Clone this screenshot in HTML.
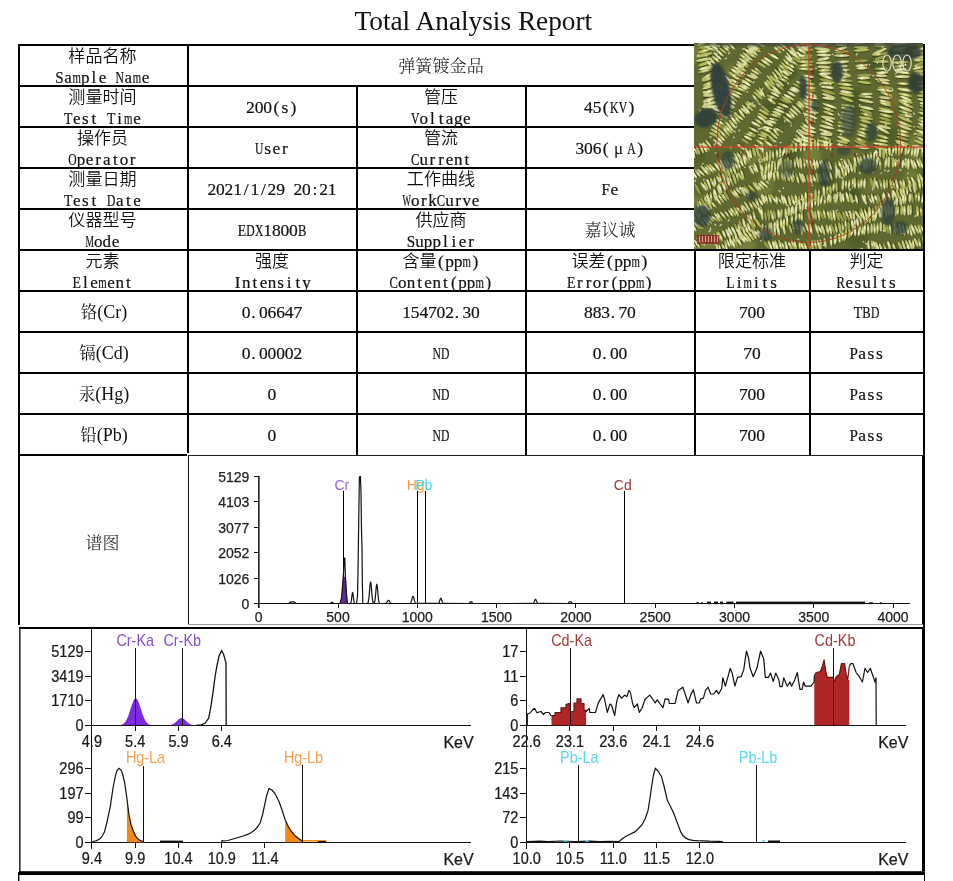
<!DOCTYPE html><html><head><meta charset="utf-8"><title>Total Analysis Report</title>
<style>html,body{margin:0;padding:0;background:#fff;width:953px;height:881px;overflow:hidden}svg{position:absolute;left:0;top:0;display:block}text{white-space:pre}</style></head><body>
<svg width="953" height="881" viewBox="0 0 953 881">
<text x="354.5" y="30.2" style="font-family:'Liberation Serif','Noto Serif CJK SC',serif;font-size:27.3px" fill="#111">Total Analysis Report</text>
<g shape-rendering="crispEdges">
<rect x="18" y="44" width="677" height="2" fill="#000"/>
<rect x="18" y="85" width="677" height="2" fill="#000"/>
<rect x="18" y="126" width="677" height="2" fill="#000"/>
<rect x="18" y="167" width="677" height="2" fill="#000"/>
<rect x="18" y="208" width="677" height="2" fill="#000"/>
<rect x="18" y="249" width="907" height="2" fill="#000"/>
<rect x="18" y="290" width="907" height="2" fill="#000"/>
<rect x="18" y="331" width="907" height="2" fill="#000"/>
<rect x="18" y="372" width="907" height="2" fill="#000"/>
<rect x="18" y="413" width="907" height="2" fill="#000"/>
<rect x="18" y="454" width="169" height="2" fill="#000"/>
<rect x="18" y="44" width="2" height="581" fill="#000"/>
<rect x="187" y="44" width="2" height="409" fill="#000"/>
<rect x="356" y="85" width="2" height="370" fill="#000"/>
<rect x="525" y="85" width="2" height="370" fill="#000"/>
<rect x="694" y="249" width="2" height="206" fill="#000"/>
<rect x="809" y="249" width="2" height="206" fill="#000"/>
<rect x="923" y="44" width="2" height="584" fill="#000"/>
<rect x="188" y="455" width="735" height="1" fill="#222"/>
<rect x="188" y="455" width="1" height="170" fill="#111"/>
<rect x="922" y="455" width="1" height="170" fill="#111"/>
<rect x="188" y="624" width="735" height="1" fill="#9a9a9a"/>
<rect x="19" y="627" width="906" height="2" fill="#000"/>
<rect x="922" y="627" width="3" height="247" fill="#000"/>
<rect x="19" y="871" width="906" height="1" fill="#333"/>
<rect x="18" y="872" width="907" height="3" fill="#000"/>
<rect x="924" y="874" width="1" height="7" fill="#000"/>
</g>
<rect x="19.2" y="627" width="1.3" height="245" fill="#000"/>
<rect x="18" y="872" width="1.4" height="9" fill="#000"/>
<text x="68.30" y="62.20" textLength="68.40" lengthAdjust="spacingAndGlyphs" style="font-family:'Noto Sans CJK SC','Noto Sans CJK JP',sans-serif;font-size:16.6px;font-weight:350" fill="#111">样品名称</text>
<text x="55.30" y="82.90" textLength="8.40" lengthAdjust="spacingAndGlyphs" style="font-family:'Liberation Serif','Noto Serif CJK SC',serif;font-size:17px;stroke:#111;stroke-width:0.2" fill="#111">S</text>
<text x="72.50" y="82.90" textLength="8.40" lengthAdjust="spacingAndGlyphs" style="font-family:'Liberation Serif','Noto Serif CJK SC',serif;font-size:17px;stroke:#111;stroke-width:0.2" fill="#111">m</text>
<text x="115.50" y="82.90" textLength="8.40" lengthAdjust="spacingAndGlyphs" style="font-family:'Liberation Serif','Noto Serif CJK SC',serif;font-size:17px;stroke:#111;stroke-width:0.2" fill="#111">N</text>
<text x="132.70" y="82.90" textLength="8.40" lengthAdjust="spacingAndGlyphs" style="font-family:'Liberation Serif','Noto Serif CJK SC',serif;font-size:17px;stroke:#111;stroke-width:0.2" fill="#111">m</text>
<text x="64.33 81.05 91.54 98.73 124.53 141.73" y="82.90" style="font-family:'Liberation Serif','Noto Serif CJK SC',serif;font-size:17px;stroke:#111;stroke-width:0.2" fill="#111">apleae</text>
<text x="398.20" y="72.00" textLength="85.60" lengthAdjust="spacingAndGlyphs" style="font-family:'Noto Serif CJK SC','Noto Sans CJK SC',serif;font-size:16.6px;font-weight:350" fill="#111">弹簧镀金品</text>
<text x="68.30" y="103.20" textLength="68.40" lengthAdjust="spacingAndGlyphs" style="font-family:'Noto Sans CJK SC','Noto Sans CJK JP',sans-serif;font-size:16.6px;font-weight:350" fill="#111">测量时间</text>
<text x="63.90" y="123.90" textLength="8.40" lengthAdjust="spacingAndGlyphs" style="font-family:'Liberation Serif','Noto Serif CJK SC',serif;font-size:17px;stroke:#111;stroke-width:0.2" fill="#111">T</text>
<text x="106.90" y="123.90" textLength="8.40" lengthAdjust="spacingAndGlyphs" style="font-family:'Liberation Serif','Noto Serif CJK SC',serif;font-size:17px;stroke:#111;stroke-width:0.2" fill="#111">T</text>
<text x="124.10" y="123.90" textLength="8.40" lengthAdjust="spacingAndGlyphs" style="font-family:'Liberation Serif','Noto Serif CJK SC',serif;font-size:17px;stroke:#111;stroke-width:0.2" fill="#111">m</text>
<text x="72.93 81.99 91.54 117.34 133.13" y="123.90" style="font-family:'Liberation Serif','Noto Serif CJK SC',serif;font-size:17px;stroke:#111;stroke-width:0.2" fill="#111">estie</text>
<text x="246.12 254.72 263.32 273.39 281.49 290.59" y="113.00" style="font-family:'Liberation Serif','Noto Serif CJK SC',serif;font-size:17.5px;stroke:#111;stroke-width:0.2" fill="#111">200(s)</text>
<text x="424.00" y="103.20" textLength="34.00" lengthAdjust="spacingAndGlyphs" style="font-family:'Noto Sans CJK SC','Noto Sans CJK JP',sans-serif;font-size:16.6px;font-weight:350" fill="#111">管压</text>
<text x="411.00" y="123.90" textLength="8.40" lengthAdjust="spacingAndGlyphs" style="font-family:'Liberation Serif','Noto Serif CJK SC',serif;font-size:17px;stroke:#111;stroke-width:0.2" fill="#111">V</text>
<text x="419.55 430.04 438.64 445.83 453.95 463.03" y="123.90" style="font-family:'Liberation Serif','Noto Serif CJK SC',serif;font-size:17px;stroke:#111;stroke-width:0.2" fill="#111">oltage</text>
<text x="610.10" y="113.00" textLength="8.40" lengthAdjust="spacingAndGlyphs" style="font-family:'Liberation Serif','Noto Serif CJK SC',serif;font-size:17.5px;stroke:#111;stroke-width:0.2" fill="#111">K</text>
<text x="618.70" y="113.00" textLength="8.40" lengthAdjust="spacingAndGlyphs" style="font-family:'Liberation Serif','Noto Serif CJK SC',serif;font-size:17.5px;stroke:#111;stroke-width:0.2" fill="#111">V</text>
<text x="584.12 592.73 602.79 628.59" y="113.00" style="font-family:'Liberation Serif','Noto Serif CJK SC',serif;font-size:17.5px;stroke:#111;stroke-width:0.2" fill="#111">45()</text>
<text x="76.90" y="144.20" textLength="51.20" lengthAdjust="spacingAndGlyphs" style="font-family:'Noto Sans CJK SC','Noto Sans CJK JP',sans-serif;font-size:16.6px;font-weight:350" fill="#111">操作员</text>
<text x="68.20" y="164.90" textLength="8.40" lengthAdjust="spacingAndGlyphs" style="font-family:'Liberation Serif','Noto Serif CJK SC',serif;font-size:17px;stroke:#111;stroke-width:0.2" fill="#111">O</text>
<text x="76.75 85.83 95.37 103.03 113.04 119.75 129.77" y="164.90" style="font-family:'Liberation Serif','Noto Serif CJK SC',serif;font-size:17px;stroke:#111;stroke-width:0.2" fill="#111">perator</text>
<text x="254.90" y="154.00" textLength="8.40" lengthAdjust="spacingAndGlyphs" style="font-family:'Liberation Serif','Noto Serif CJK SC',serif;font-size:17.5px;stroke:#111;stroke-width:0.2" fill="#111">U</text>
<text x="264.29 272.42 281.99" y="154.00" style="font-family:'Liberation Serif','Noto Serif CJK SC',serif;font-size:17.5px;stroke:#111;stroke-width:0.2" fill="#111">ser</text>
<text x="424.00" y="144.20" textLength="34.00" lengthAdjust="spacingAndGlyphs" style="font-family:'Noto Sans CJK SC','Noto Sans CJK JP',sans-serif;font-size:16.6px;font-weight:350" fill="#111">管流</text>
<text x="411.00" y="164.90" textLength="8.40" lengthAdjust="spacingAndGlyphs" style="font-family:'Liberation Serif','Noto Serif CJK SC',serif;font-size:17px;stroke:#111;stroke-width:0.2" fill="#111">C</text>
<text x="419.55 429.57 438.17 445.83 453.95 464.44" y="164.90" style="font-family:'Liberation Serif','Noto Serif CJK SC',serif;font-size:17px;stroke:#111;stroke-width:0.2" fill="#111">urrent</text>
<text x="575.52 584.12 592.73 602.79" y="154.00" style="font-family:'Liberation Serif','Noto Serif CJK SC',serif;font-size:17.5px;stroke:#111;stroke-width:0.2" fill="#111">306(</text>
<text x="618.60" y="154.00" text-anchor="middle" style="font-family:'Liberation Serif','Noto Serif CJK SC',serif;font-size:17px" fill="#111">μ</text>
<text x="627.30" y="154.00" textLength="8.40" lengthAdjust="spacingAndGlyphs" style="font-family:'Liberation Serif','Noto Serif CJK SC',serif;font-size:17.5px;stroke:#111;stroke-width:0.2" fill="#111">A</text>
<text x="637.19" y="154.00" style="font-family:'Liberation Serif','Noto Serif CJK SC',serif;font-size:17.5px;stroke:#111;stroke-width:0.2" fill="#111">)</text>
<text x="68.30" y="185.20" textLength="68.40" lengthAdjust="spacingAndGlyphs" style="font-family:'Noto Sans CJK SC','Noto Sans CJK JP',sans-serif;font-size:16.6px;font-weight:350" fill="#111">测量日期</text>
<text x="63.90" y="205.90" textLength="8.40" lengthAdjust="spacingAndGlyphs" style="font-family:'Liberation Serif','Noto Serif CJK SC',serif;font-size:17px;stroke:#111;stroke-width:0.2" fill="#111">T</text>
<text x="106.90" y="205.90" textLength="8.40" lengthAdjust="spacingAndGlyphs" style="font-family:'Liberation Serif','Noto Serif CJK SC',serif;font-size:17px;stroke:#111;stroke-width:0.2" fill="#111">D</text>
<text x="72.93 81.99 91.54 115.93 125.94 133.13" y="205.90" style="font-family:'Liberation Serif','Noto Serif CJK SC',serif;font-size:17px;stroke:#111;stroke-width:0.2" fill="#111">estate</text>
<text x="207.43 216.03 224.62 233.23 243.77 250.43 260.97 267.62 276.23 293.43 302.03 312.57 319.23 327.82" y="195.00" style="font-family:'Liberation Serif','Noto Serif CJK SC',serif;font-size:17.5px;stroke:#111;stroke-width:0.2" fill="#111">2021/1/2920:21</text>
<text x="406.80" y="185.20" textLength="68.40" lengthAdjust="spacingAndGlyphs" style="font-family:'Noto Sans CJK SC','Noto Sans CJK JP',sans-serif;font-size:16.6px;font-weight:350" fill="#111">工作曲线</text>
<text x="402.40" y="205.90" textLength="8.40" lengthAdjust="spacingAndGlyphs" style="font-family:'Liberation Serif','Noto Serif CJK SC',serif;font-size:17px;stroke:#111;stroke-width:0.2" fill="#111">W</text>
<text x="436.80" y="205.90" textLength="8.40" lengthAdjust="spacingAndGlyphs" style="font-family:'Liberation Serif','Noto Serif CJK SC',serif;font-size:17px;stroke:#111;stroke-width:0.2" fill="#111">C</text>
<text x="410.95 420.97 428.15 445.35 455.37 462.55 471.63" y="205.90" style="font-family:'Liberation Serif','Noto Serif CJK SC',serif;font-size:17px;stroke:#111;stroke-width:0.2" fill="#111">orkurve</text>
<text x="601.50" y="195.00" textLength="8.40" lengthAdjust="spacingAndGlyphs" style="font-family:'Liberation Serif','Noto Serif CJK SC',serif;font-size:17.5px;stroke:#111;stroke-width:0.2" fill="#111">F</text>
<text x="610.42" y="195.00" style="font-family:'Liberation Serif','Noto Serif CJK SC',serif;font-size:17.5px;stroke:#111;stroke-width:0.2" fill="#111">e</text>
<text x="68.30" y="226.20" textLength="68.40" lengthAdjust="spacingAndGlyphs" style="font-family:'Noto Sans CJK SC','Noto Sans CJK JP',sans-serif;font-size:16.6px;font-weight:350" fill="#111">仪器型号</text>
<text x="85.40" y="246.90" textLength="8.40" lengthAdjust="spacingAndGlyphs" style="font-family:'Liberation Serif','Noto Serif CJK SC',serif;font-size:17px;stroke:#111;stroke-width:0.2" fill="#111">M</text>
<text x="93.95 102.55 111.63" y="246.90" style="font-family:'Liberation Serif','Noto Serif CJK SC',serif;font-size:17px;stroke:#111;stroke-width:0.2" fill="#111">ode</text>
<text x="237.70" y="236.00" textLength="8.40" lengthAdjust="spacingAndGlyphs" style="font-family:'Liberation Serif','Noto Serif CJK SC',serif;font-size:17.5px;stroke:#111;stroke-width:0.2" fill="#111">E</text>
<text x="246.30" y="236.00" textLength="8.40" lengthAdjust="spacingAndGlyphs" style="font-family:'Liberation Serif','Noto Serif CJK SC',serif;font-size:17.5px;stroke:#111;stroke-width:0.2" fill="#111">D</text>
<text x="254.90" y="236.00" textLength="8.40" lengthAdjust="spacingAndGlyphs" style="font-family:'Liberation Serif','Noto Serif CJK SC',serif;font-size:17.5px;stroke:#111;stroke-width:0.2" fill="#111">X</text>
<text x="297.90" y="236.00" textLength="8.40" lengthAdjust="spacingAndGlyphs" style="font-family:'Liberation Serif','Noto Serif CJK SC',serif;font-size:17.5px;stroke:#111;stroke-width:0.2" fill="#111">B</text>
<text x="263.32 271.93 280.53 289.12" y="236.00" style="font-family:'Liberation Serif','Noto Serif CJK SC',serif;font-size:17.5px;stroke:#111;stroke-width:0.2" fill="#111">1800</text>
<text x="415.40" y="226.20" textLength="51.20" lengthAdjust="spacingAndGlyphs" style="font-family:'Noto Sans CJK SC','Noto Sans CJK JP',sans-serif;font-size:16.6px;font-weight:350" fill="#111">供应商</text>
<text x="406.70" y="246.90" textLength="8.40" lengthAdjust="spacingAndGlyphs" style="font-family:'Liberation Serif','Noto Serif CJK SC',serif;font-size:17px;stroke:#111;stroke-width:0.2" fill="#111">S</text>
<text x="415.25 423.85 432.45 442.94 451.54 458.73 468.27" y="246.90" style="font-family:'Liberation Serif','Noto Serif CJK SC',serif;font-size:17px;stroke:#111;stroke-width:0.2" fill="#111">upplier</text>
<text x="584.40" y="236.00" textLength="51.20" lengthAdjust="spacingAndGlyphs" style="font-family:'Noto Serif CJK SC','Noto Sans CJK SC',serif;font-size:16.6px;font-weight:350" fill="#111">嘉议诚</text>
<text x="85.50" y="267.20" textLength="34.00" lengthAdjust="spacingAndGlyphs" style="font-family:'Noto Sans CJK SC','Noto Sans CJK JP',sans-serif;font-size:16.6px;font-weight:350" fill="#111">元素</text>
<text x="72.50" y="287.90" textLength="8.40" lengthAdjust="spacingAndGlyphs" style="font-family:'Liberation Serif','Noto Serif CJK SC',serif;font-size:17px;stroke:#111;stroke-width:0.2" fill="#111">E</text>
<text x="98.30" y="287.90" textLength="8.40" lengthAdjust="spacingAndGlyphs" style="font-family:'Liberation Serif','Noto Serif CJK SC',serif;font-size:17px;stroke:#111;stroke-width:0.2" fill="#111">m</text>
<text x="82.94 90.13 107.33 115.45 125.94" y="287.90" style="font-family:'Liberation Serif','Noto Serif CJK SC',serif;font-size:17px;stroke:#111;stroke-width:0.2" fill="#111">leent</text>
<text x="255.00" y="267.20" textLength="34.00" lengthAdjust="spacingAndGlyphs" style="font-family:'Noto Sans CJK SC','Noto Sans CJK JP',sans-serif;font-size:16.6px;font-weight:350" fill="#111">强度</text>
<text x="234.77 241.95 252.44 259.63 267.75 277.29 286.84 295.44 302.15" y="287.90" style="font-family:'Liberation Serif','Noto Serif CJK SC',serif;font-size:17px;stroke:#111;stroke-width:0.2" fill="#111">Intensity</text>
<text x="402.50" y="267.20" textLength="34.00" lengthAdjust="spacingAndGlyphs" style="font-family:'Noto Sans CJK SC','Noto Sans CJK JP',sans-serif;font-size:16.6px;font-weight:350" fill="#111">含量</text>
<text x="462.60" y="267.20" textLength="8.40" lengthAdjust="spacingAndGlyphs" style="font-family:'Liberation Serif','Noto Serif CJK SC',serif;font-size:17.5px;stroke:#111;stroke-width:0.2" fill="#111">m</text>
<text x="438.09 445.23 453.82 472.49" y="267.20" style="font-family:'Liberation Serif','Noto Serif CJK SC',serif;font-size:17.5px;stroke:#111;stroke-width:0.2" fill="#111">(pp)</text>
<text x="389.50" y="287.90" textLength="8.40" lengthAdjust="spacingAndGlyphs" style="font-family:'Liberation Serif','Noto Serif CJK SC',serif;font-size:17px;stroke:#111;stroke-width:0.2" fill="#111">C</text>
<text x="475.50" y="287.90" textLength="8.40" lengthAdjust="spacingAndGlyphs" style="font-family:'Liberation Serif','Noto Serif CJK SC',serif;font-size:17px;stroke:#111;stroke-width:0.2" fill="#111">m</text>
<text x="398.05 406.65 417.14 424.33 432.45 442.94 451.07 458.25 466.85 485.47" y="287.90" style="font-family:'Liberation Serif','Noto Serif CJK SC',serif;font-size:17px;stroke:#111;stroke-width:0.2" fill="#111">ontent(pp)</text>
<text x="571.50" y="267.20" textLength="34.00" lengthAdjust="spacingAndGlyphs" style="font-family:'Noto Sans CJK SC','Noto Sans CJK JP',sans-serif;font-size:16.6px;font-weight:350" fill="#111">误差</text>
<text x="631.60" y="267.20" textLength="8.40" lengthAdjust="spacingAndGlyphs" style="font-family:'Liberation Serif','Noto Serif CJK SC',serif;font-size:17.5px;stroke:#111;stroke-width:0.2" fill="#111">m</text>
<text x="607.09 614.22 622.82 641.49" y="267.20" style="font-family:'Liberation Serif','Noto Serif CJK SC',serif;font-size:17.5px;stroke:#111;stroke-width:0.2" fill="#111">(pp)</text>
<text x="567.10" y="287.90" textLength="8.40" lengthAdjust="spacingAndGlyphs" style="font-family:'Liberation Serif','Noto Serif CJK SC',serif;font-size:17px;stroke:#111;stroke-width:0.2" fill="#111">E</text>
<text x="635.90" y="287.90" textLength="8.40" lengthAdjust="spacingAndGlyphs" style="font-family:'Liberation Serif','Noto Serif CJK SC',serif;font-size:17px;stroke:#111;stroke-width:0.2" fill="#111">m</text>
<text x="577.07 585.67 592.85 602.87 611.47 618.65 627.25 645.87" y="287.90" style="font-family:'Liberation Serif','Noto Serif CJK SC',serif;font-size:17px;stroke:#111;stroke-width:0.2" fill="#111">rror(pp)</text>
<text x="717.80" y="267.20" textLength="68.40" lengthAdjust="spacingAndGlyphs" style="font-family:'Noto Sans CJK SC','Noto Sans CJK JP',sans-serif;font-size:16.6px;font-weight:350" fill="#111">限定标准</text>
<text x="726.30" y="287.90" textLength="8.40" lengthAdjust="spacingAndGlyphs" style="font-family:'Liberation Serif','Noto Serif CJK SC',serif;font-size:17px;stroke:#111;stroke-width:0.2" fill="#111">L</text>
<text x="743.50" y="287.90" textLength="8.40" lengthAdjust="spacingAndGlyphs" style="font-family:'Liberation Serif','Noto Serif CJK SC',serif;font-size:17px;stroke:#111;stroke-width:0.2" fill="#111">m</text>
<text x="736.74 753.94 762.54 770.19" y="287.90" style="font-family:'Liberation Serif','Noto Serif CJK SC',serif;font-size:17px;stroke:#111;stroke-width:0.2" fill="#111">iits</text>
<text x="849.50" y="267.20" textLength="34.00" lengthAdjust="spacingAndGlyphs" style="font-family:'Noto Sans CJK SC','Noto Sans CJK JP',sans-serif;font-size:16.6px;font-weight:350" fill="#111">判定</text>
<text x="836.50" y="287.90" textLength="8.40" lengthAdjust="spacingAndGlyphs" style="font-family:'Liberation Serif','Noto Serif CJK SC',serif;font-size:17px;stroke:#111;stroke-width:0.2" fill="#111">R</text>
<text x="845.53 854.59 862.25 872.74 881.34 888.99" y="287.90" style="font-family:'Liberation Serif','Noto Serif CJK SC',serif;font-size:17px;stroke:#111;stroke-width:0.2" fill="#111">esults</text>
<text x="104.00" y="318.00" text-anchor="middle" fill="#111"><tspan style="font-family:'Noto Serif CJK SC','Noto Sans CJK SC',serif;font-size:16.5px">铬</tspan><tspan style="font-family:'Liberation Serif','Noto Serif CJK SC',serif;font-size:18px">(Cr)</tspan></text>
<text x="241.83 251.30 259.03 267.62 276.23 284.82 293.43" y="318.00" style="font-family:'Liberation Serif','Noto Serif CJK SC',serif;font-size:17.5px;stroke:#111;stroke-width:0.2" fill="#111">0.06647</text>
<text x="402.23 410.83 419.43 428.03 436.62 445.23 454.70 462.43 471.03" y="318.00" style="font-family:'Liberation Serif','Noto Serif CJK SC',serif;font-size:17.5px;stroke:#111;stroke-width:0.2" fill="#111">154702.30</text>
<text x="584.12 592.73 601.33 610.80 618.52 627.12" y="318.00" style="font-family:'Liberation Serif','Noto Serif CJK SC',serif;font-size:17.5px;stroke:#111;stroke-width:0.2" fill="#111">883.70</text>
<text x="739.02 747.62 756.23" y="318.00" style="font-family:'Liberation Serif','Noto Serif CJK SC',serif;font-size:17.5px;stroke:#111;stroke-width:0.2" fill="#111">700</text>
<text x="853.70" y="318.00" textLength="8.40" lengthAdjust="spacingAndGlyphs" style="font-family:'Liberation Serif','Noto Serif CJK SC',serif;font-size:17.5px;stroke:#111;stroke-width:0.2" fill="#111">T</text>
<text x="862.30" y="318.00" textLength="8.40" lengthAdjust="spacingAndGlyphs" style="font-family:'Liberation Serif','Noto Serif CJK SC',serif;font-size:17.5px;stroke:#111;stroke-width:0.2" fill="#111">B</text>
<text x="870.90" y="318.00" textLength="8.40" lengthAdjust="spacingAndGlyphs" style="font-family:'Liberation Serif','Noto Serif CJK SC',serif;font-size:17.5px;stroke:#111;stroke-width:0.2" fill="#111">D</text>
<text x="104.00" y="359.00" text-anchor="middle" fill="#111"><tspan style="font-family:'Noto Serif CJK SC','Noto Sans CJK SC',serif;font-size:16.5px">镉</tspan><tspan style="font-family:'Liberation Serif','Noto Serif CJK SC',serif;font-size:18px">(Cd)</tspan></text>
<text x="241.83 251.30 259.03 267.62 276.23 284.82 293.43" y="359.00" style="font-family:'Liberation Serif','Noto Serif CJK SC',serif;font-size:17.5px;stroke:#111;stroke-width:0.2" fill="#111">0.00002</text>
<text x="432.50" y="359.00" textLength="8.40" lengthAdjust="spacingAndGlyphs" style="font-family:'Liberation Serif','Noto Serif CJK SC',serif;font-size:17.5px;stroke:#111;stroke-width:0.2" fill="#111">N</text>
<text x="441.10" y="359.00" textLength="8.40" lengthAdjust="spacingAndGlyphs" style="font-family:'Liberation Serif','Noto Serif CJK SC',serif;font-size:17.5px;stroke:#111;stroke-width:0.2" fill="#111">D</text>
<text x="592.72 602.20 609.92 618.52" y="359.00" style="font-family:'Liberation Serif','Noto Serif CJK SC',serif;font-size:17.5px;stroke:#111;stroke-width:0.2" fill="#111">0.00</text>
<text x="743.32 751.92" y="359.00" style="font-family:'Liberation Serif','Noto Serif CJK SC',serif;font-size:17.5px;stroke:#111;stroke-width:0.2" fill="#111">70</text>
<text x="849.40" y="359.00" textLength="8.40" lengthAdjust="spacingAndGlyphs" style="font-family:'Liberation Serif','Noto Serif CJK SC',serif;font-size:17.5px;stroke:#111;stroke-width:0.2" fill="#111">P</text>
<text x="858.32 867.39 875.99" y="359.00" style="font-family:'Liberation Serif','Noto Serif CJK SC',serif;font-size:17.5px;stroke:#111;stroke-width:0.2" fill="#111">ass</text>
<text x="104.00" y="400.00" text-anchor="middle" fill="#111"><tspan style="font-family:'Noto Serif CJK SC','Noto Sans CJK SC',serif;font-size:16.5px">汞</tspan><tspan style="font-family:'Liberation Serif','Noto Serif CJK SC',serif;font-size:18px">(Hg)</tspan></text>
<text x="267.62" y="400.00" style="font-family:'Liberation Serif','Noto Serif CJK SC',serif;font-size:17.5px;stroke:#111;stroke-width:0.2" fill="#111">0</text>
<text x="432.50" y="400.00" textLength="8.40" lengthAdjust="spacingAndGlyphs" style="font-family:'Liberation Serif','Noto Serif CJK SC',serif;font-size:17.5px;stroke:#111;stroke-width:0.2" fill="#111">N</text>
<text x="441.10" y="400.00" textLength="8.40" lengthAdjust="spacingAndGlyphs" style="font-family:'Liberation Serif','Noto Serif CJK SC',serif;font-size:17.5px;stroke:#111;stroke-width:0.2" fill="#111">D</text>
<text x="592.72 602.20 609.92 618.52" y="400.00" style="font-family:'Liberation Serif','Noto Serif CJK SC',serif;font-size:17.5px;stroke:#111;stroke-width:0.2" fill="#111">0.00</text>
<text x="739.02 747.62 756.23" y="400.00" style="font-family:'Liberation Serif','Noto Serif CJK SC',serif;font-size:17.5px;stroke:#111;stroke-width:0.2" fill="#111">700</text>
<text x="849.40" y="400.00" textLength="8.40" lengthAdjust="spacingAndGlyphs" style="font-family:'Liberation Serif','Noto Serif CJK SC',serif;font-size:17.5px;stroke:#111;stroke-width:0.2" fill="#111">P</text>
<text x="858.32 867.39 875.99" y="400.00" style="font-family:'Liberation Serif','Noto Serif CJK SC',serif;font-size:17.5px;stroke:#111;stroke-width:0.2" fill="#111">ass</text>
<text x="104.00" y="441.00" text-anchor="middle" fill="#111"><tspan style="font-family:'Noto Serif CJK SC','Noto Sans CJK SC',serif;font-size:16.5px">铅</tspan><tspan style="font-family:'Liberation Serif','Noto Serif CJK SC',serif;font-size:18px">(Pb)</tspan></text>
<text x="267.62" y="441.00" style="font-family:'Liberation Serif','Noto Serif CJK SC',serif;font-size:17.5px;stroke:#111;stroke-width:0.2" fill="#111">0</text>
<text x="432.50" y="441.00" textLength="8.40" lengthAdjust="spacingAndGlyphs" style="font-family:'Liberation Serif','Noto Serif CJK SC',serif;font-size:17.5px;stroke:#111;stroke-width:0.2" fill="#111">N</text>
<text x="441.10" y="441.00" textLength="8.40" lengthAdjust="spacingAndGlyphs" style="font-family:'Liberation Serif','Noto Serif CJK SC',serif;font-size:17.5px;stroke:#111;stroke-width:0.2" fill="#111">D</text>
<text x="592.72 602.20 609.92 618.52" y="441.00" style="font-family:'Liberation Serif','Noto Serif CJK SC',serif;font-size:17.5px;stroke:#111;stroke-width:0.2" fill="#111">0.00</text>
<text x="739.02 747.62 756.23" y="441.00" style="font-family:'Liberation Serif','Noto Serif CJK SC',serif;font-size:17.5px;stroke:#111;stroke-width:0.2" fill="#111">700</text>
<text x="849.40" y="441.00" textLength="8.40" lengthAdjust="spacingAndGlyphs" style="font-family:'Liberation Serif','Noto Serif CJK SC',serif;font-size:17.5px;stroke:#111;stroke-width:0.2" fill="#111">P</text>
<text x="858.32 867.39 875.99" y="441.00" style="font-family:'Liberation Serif','Noto Serif CJK SC',serif;font-size:17.5px;stroke:#111;stroke-width:0.2" fill="#111">ass</text>
<text x="85.50" y="548.50" textLength="34.00" lengthAdjust="spacingAndGlyphs" style="font-family:'Noto Serif CJK SC','Noto Sans CJK SC',serif;font-size:16.6px;font-weight:350" fill="#111">谱图</text>
<g>
<g shape-rendering="crispEdges" fill="#111">
<rect x="258" y="603" width="652" height="1.3" fill="#111"/>
<rect x="253.5" y="603" width="5" height="1" fill="#111"/>
<rect x="253.5" y="578" width="5" height="1" fill="#111"/>
<rect x="253.5" y="552" width="5" height="1" fill="#111"/>
<rect x="253.5" y="527" width="5" height="1" fill="#111"/>
<rect x="253.5" y="501" width="5" height="1" fill="#111"/>
<rect x="253.5" y="476" width="5" height="1" fill="#111"/>
<rect x="258" y="603" width="1" height="5" fill="#111"/>
<rect x="338" y="603" width="1" height="5" fill="#111"/>
<rect x="417" y="603" width="1" height="5" fill="#111"/>
<rect x="496" y="603" width="1" height="5" fill="#111"/>
<rect x="575" y="603" width="1" height="5" fill="#111"/>
<rect x="655" y="603" width="1" height="5" fill="#111"/>
<rect x="734" y="603" width="1" height="5" fill="#111"/>
<rect x="813" y="603" width="1" height="5" fill="#111"/>
<rect x="893" y="603" width="1" height="5" fill="#111"/>
</g>
<rect x="258.1" y="476" width="1.5" height="132" fill="#111"/>
<text x="249.3" y="609.10" text-anchor="end" style="font-family:'Liberation Sans','DejaVu Sans',sans-serif;font-size:14px" fill="#222" stroke="#222" stroke-width="0.25">0</text>
<text x="249.3" y="583.68" text-anchor="end" style="font-family:'Liberation Sans','DejaVu Sans',sans-serif;font-size:14px" fill="#222" stroke="#222" stroke-width="0.25">1026</text>
<text x="249.3" y="558.26" text-anchor="end" style="font-family:'Liberation Sans','DejaVu Sans',sans-serif;font-size:14px" fill="#222" stroke="#222" stroke-width="0.25">2052</text>
<text x="249.3" y="532.84" text-anchor="end" style="font-family:'Liberation Sans','DejaVu Sans',sans-serif;font-size:14px" fill="#222" stroke="#222" stroke-width="0.25">3077</text>
<text x="249.3" y="507.42" text-anchor="end" style="font-family:'Liberation Sans','DejaVu Sans',sans-serif;font-size:14px" fill="#222" stroke="#222" stroke-width="0.25">4103</text>
<text x="249.3" y="482.00" text-anchor="end" style="font-family:'Liberation Sans','DejaVu Sans',sans-serif;font-size:14px" fill="#222" stroke="#222" stroke-width="0.25">5129</text>
<text x="258.70" y="621.6" text-anchor="middle" style="font-family:'Liberation Sans','DejaVu Sans',sans-serif;font-size:14px" fill="#222" stroke="#222" stroke-width="0.25">0</text>
<text x="338.00" y="621.6" text-anchor="middle" style="font-family:'Liberation Sans','DejaVu Sans',sans-serif;font-size:14px" fill="#222" stroke="#222" stroke-width="0.25">500</text>
<text x="417.30" y="621.6" text-anchor="middle" style="font-family:'Liberation Sans','DejaVu Sans',sans-serif;font-size:14px" fill="#222" stroke="#222" stroke-width="0.25">1000</text>
<text x="496.60" y="621.6" text-anchor="middle" style="font-family:'Liberation Sans','DejaVu Sans',sans-serif;font-size:14px" fill="#222" stroke="#222" stroke-width="0.25">1500</text>
<text x="575.90" y="621.6" text-anchor="middle" style="font-family:'Liberation Sans','DejaVu Sans',sans-serif;font-size:14px" fill="#222" stroke="#222" stroke-width="0.25">2000</text>
<text x="655.20" y="621.6" text-anchor="middle" style="font-family:'Liberation Sans','DejaVu Sans',sans-serif;font-size:14px" fill="#222" stroke="#222" stroke-width="0.25">2500</text>
<text x="734.50" y="621.6" text-anchor="middle" style="font-family:'Liberation Sans','DejaVu Sans',sans-serif;font-size:14px" fill="#222" stroke="#222" stroke-width="0.25">3000</text>
<text x="813.80" y="621.6" text-anchor="middle" style="font-family:'Liberation Sans','DejaVu Sans',sans-serif;font-size:14px" fill="#222" stroke="#222" stroke-width="0.25">3500</text>
<text x="893.10" y="621.6" text-anchor="middle" style="font-family:'Liberation Sans','DejaVu Sans',sans-serif;font-size:14px" fill="#222" stroke="#222" stroke-width="0.25">4000</text>
<rect x="343" y="490.5" width="1" height="113" fill="#000" shape-rendering="crispEdges"/>
<rect x="417" y="490.5" width="1" height="113" fill="#000" shape-rendering="crispEdges"/>
<rect x="425" y="490.5" width="1" height="113" fill="#000" shape-rendering="crispEdges"/>
<rect x="624" y="490.5" width="1" height="113" fill="#000" shape-rendering="crispEdges"/>
<text x="341.90" y="490.2" text-anchor="middle" style="font-family:'Liberation Sans','DejaVu Sans',sans-serif;font-size:14px" fill="#9468c8">Cr</text>
<text x="415.60" y="490.2" text-anchor="middle" style="font-family:'Liberation Sans','DejaVu Sans',sans-serif;font-size:14px" fill="#f0a040">Hg</text>
<text x="423.80" y="490.2" text-anchor="middle" style="font-family:'Liberation Sans','DejaVu Sans',sans-serif;font-size:14px" fill="#38d8e8">Pb</text>
<text x="622.80" y="490.2" text-anchor="middle" style="font-family:'Liberation Sans','DejaVu Sans',sans-serif;font-size:14px" fill="#a03838">Cd</text>
<polygon points="341,603.5 342.3,588 343.2,577 345.8,576.5 346.6,590 347.2,603.5" fill="#5a2a9a"/>
<polyline points="259,603.5 289,603.5 291,601.8 294,601.8 296,603.5 330,603.5 332,602.2 334,603.5 340,603.5 341.5,598 342.5,586 343.6,572 344,558 344.8,558 345.3,574 346.3,592 347.5,603.5 350.20,603.41 350.44,603.28 350.68,603.00 350.92,602.46 351.16,601.56 351.40,600.19 351.64,598.38 351.88,596.32 352.12,594.35 352.36,592.92 352.60,592.40 352.84,592.92 353.08,594.35 353.32,596.32 353.56,598.38 353.80,600.19 354.04,601.56 354.28,602.46 354.52,603.00 354.76,603.28 355.00,603.41 356.5,603.5 357.5,596 358.2,560 358.8,515 359.4,477 360.4,476.4 361,492 361.5,530 362,548 362.3,580 362.8,603.5 367.40,603.33 367.72,603.07 368.04,602.53 368.36,601.49 368.68,599.74 369.00,597.09 369.32,593.59 369.64,589.59 369.96,585.78 370.28,583.02 370.60,582.00 370.92,583.02 371.24,585.78 371.56,589.59 371.88,593.59 372.20,597.09 372.52,599.74 372.84,601.49 373.16,602.53 373.48,603.07 373.80,603.33 373.80,603.35 374.10,603.12 374.40,602.63 374.70,601.70 375.00,600.12 375.30,597.74 375.60,594.60 375.90,591.02 376.20,587.60 376.50,585.11 376.80,584.20 377.10,585.11 377.40,587.60 377.70,591.02 378.00,594.60 378.30,597.74 378.60,600.12 378.90,601.70 379.20,602.63 379.50,603.12 379.80,603.35 381,603.5 384.60,603.48 384.98,603.44 385.36,603.36 385.74,603.21 386.12,602.96 386.50,602.58 386.88,602.07 387.26,601.49 387.64,600.95 388.02,600.55 388.40,600.40 388.78,600.55 389.16,600.95 389.54,601.49 389.92,602.07 390.30,602.58 390.68,602.96 391.06,603.21 391.44,603.36 391.82,603.44 392.20,603.48 409.60,603.44 409.94,603.36 410.28,603.18 410.62,602.84 410.96,602.26 411.30,601.38 411.64,600.23 411.98,598.91 412.32,597.65 412.66,596.74 413.00,596.40 413.34,596.74 413.68,597.65 414.02,598.91 414.36,600.23 414.70,601.38 415.04,602.26 415.38,602.84 415.72,603.18 416.06,603.36 416.40,603.44 437.80,603.46 438.10,603.39 438.40,603.26 438.70,603.01 439.00,602.57 439.30,601.92 439.60,601.06 439.90,600.07 440.20,599.13 440.50,598.45 440.80,598.20 441.10,598.45 441.40,599.13 441.70,600.07 442.00,601.06 442.30,601.92 442.60,602.57 442.90,603.01 443.20,603.26 443.50,603.39 443.80,603.46 469.5,603.5 470,601.8 472,601.8 472.5,603.5 532.50,603.47 532.80,603.42 533.10,603.31 533.40,603.11 533.70,602.76 534.00,602.25 534.30,601.56 534.60,600.78 534.90,600.04 535.20,599.50 535.50,599.30 535.80,599.50 536.10,600.04 536.40,600.78 536.70,601.56 537.00,602.25 537.30,602.76 537.60,603.11 537.90,603.31 538.20,603.42 538.50,603.47 568.5,603.5 569,601.8 571.5,601.8 572,603.5 909,603.5" fill="none" stroke="#111" stroke-width="1.2" stroke-linejoin="round"/>
<rect x="707.0" y="601.6" width="4.0" height="2.6" fill="#111"/>
<rect x="714.0" y="601.6" width="4.0" height="2.6" fill="#111"/>
<rect x="720.0" y="601.6" width="3.0" height="2.6" fill="#111"/>
<rect x="726.5" y="601.6" width="7.0" height="2.6" fill="#111"/>
<rect x="736.0" y="601.6" width="129.0" height="2.6" fill="#111"/>
<rect x="696.0" y="602.3" width="3.0" height="1.8" fill="#111"/>
<rect x="701.0" y="602.3" width="2.0" height="1.8" fill="#111"/>
<rect x="869.0" y="602.3" width="4.0" height="1.8" fill="#111"/>
<rect x="880.0" y="602.3" width="2.0" height="1.8" fill="#111"/>
</g>
<g shape-rendering="crispEdges">
<rect x="91" y="628" width="1" height="221" fill="#111"/>
<rect x="526" y="628" width="1" height="221" fill="#111"/>
</g>
<g shape-rendering="crispEdges">
<rect x="84.9" y="651" width="7" height="1.3" fill="#111"/>
<rect x="84.9" y="676" width="7" height="1.3" fill="#111"/>
<rect x="84.9" y="700" width="7" height="1.3" fill="#111"/>
<rect x="84.9" y="725" width="7" height="1.3" fill="#111"/>
<rect x="91.15" y="0" width="0" height="0" fill="#000"/>
<rect x="91.4" y="724.6999999999999" width="379.79999999999995" height="1.6" fill="#111"/>
<rect x="91" y="725.3" width="1.3" height="6" fill="#111"/>
<rect x="135" y="725.3" width="1.3" height="6" fill="#111"/>
<rect x="178" y="725.3" width="1.3" height="6" fill="#111"/>
<rect x="221" y="725.3" width="1.3" height="6" fill="#111"/>
</g>
<text x="83.60" y="657.01" text-anchor="end" transform="translate(83.60,0) scale(0.88,1) translate(-83.60,0)" style="font-family:'Liberation Sans','DejaVu Sans',sans-serif;font-size:16.5px" fill="#1a1a1a" stroke="#1a1a1a" stroke-width="0.25">5129</text>
<text x="83.60" y="681.64" text-anchor="end" transform="translate(83.60,0) scale(0.88,1) translate(-83.60,0)" style="font-family:'Liberation Sans','DejaVu Sans',sans-serif;font-size:16.5px" fill="#1a1a1a" stroke="#1a1a1a" stroke-width="0.25">3419</text>
<text x="83.60" y="706.27" text-anchor="end" transform="translate(83.60,0) scale(0.88,1) translate(-83.60,0)" style="font-family:'Liberation Sans','DejaVu Sans',sans-serif;font-size:16.5px" fill="#1a1a1a" stroke="#1a1a1a" stroke-width="0.25">1710</text>
<text x="83.60" y="730.90" text-anchor="end" transform="translate(83.60,0) scale(0.88,1) translate(-83.60,0)" style="font-family:'Liberation Sans','DejaVu Sans',sans-serif;font-size:16.5px" fill="#1a1a1a" stroke="#1a1a1a" stroke-width="0.25">0</text>
<text x="91.90" y="747.50" text-anchor="middle" transform="translate(91.90,0) scale(0.88,1) translate(-91.90,0)" style="font-family:'Liberation Sans','DejaVu Sans',sans-serif;font-size:16.5px" fill="#1a1a1a" stroke="#1a1a1a" stroke-width="0.25">4.9</text>
<text x="135.20" y="747.50" text-anchor="middle" transform="translate(135.20,0) scale(0.88,1) translate(-135.20,0)" style="font-family:'Liberation Sans','DejaVu Sans',sans-serif;font-size:16.5px" fill="#1a1a1a" stroke="#1a1a1a" stroke-width="0.25">5.4</text>
<text x="178.50" y="747.50" text-anchor="middle" transform="translate(178.50,0) scale(0.88,1) translate(-178.50,0)" style="font-family:'Liberation Sans','DejaVu Sans',sans-serif;font-size:16.5px" fill="#1a1a1a" stroke="#1a1a1a" stroke-width="0.25">5.9</text>
<text x="221.80" y="747.50" text-anchor="middle" transform="translate(221.80,0) scale(0.88,1) translate(-221.80,0)" style="font-family:'Liberation Sans','DejaVu Sans',sans-serif;font-size:16.5px" fill="#1a1a1a" stroke="#1a1a1a" stroke-width="0.25">6.4</text>
<text x="458.50" y="747.50" text-anchor="middle" style="font-family:'Liberation Sans','DejaVu Sans',sans-serif;font-size:16px" fill="#1a1a1a" stroke="#1a1a1a" stroke-width="0.25">KeV</text>
<g shape-rendering="crispEdges">
<rect x="519.7" y="651" width="7" height="1.3" fill="#111"/>
<rect x="519.7" y="676" width="7" height="1.3" fill="#111"/>
<rect x="519.7" y="700" width="7" height="1.3" fill="#111"/>
<rect x="519.7" y="725" width="7" height="1.3" fill="#111"/>
<rect x="525.95" y="0" width="0" height="0" fill="#000"/>
<rect x="526.2" y="724.6999999999999" width="379.79999999999995" height="1.6" fill="#111"/>
<rect x="526" y="725.3" width="1.3" height="6" fill="#111"/>
<rect x="569" y="725.3" width="1.3" height="6" fill="#111"/>
<rect x="613" y="725.3" width="1.3" height="6" fill="#111"/>
<rect x="656" y="725.3" width="1.3" height="6" fill="#111"/>
<rect x="699" y="725.3" width="1.3" height="6" fill="#111"/>
</g>
<text x="518.40" y="657.01" text-anchor="end" transform="translate(518.40,0) scale(0.88,1) translate(-518.40,0)" style="font-family:'Liberation Sans','DejaVu Sans',sans-serif;font-size:16.5px" fill="#1a1a1a" stroke="#1a1a1a" stroke-width="0.25">17</text>
<text x="518.40" y="681.64" text-anchor="end" transform="translate(518.40,0) scale(0.88,1) translate(-518.40,0)" style="font-family:'Liberation Sans','DejaVu Sans',sans-serif;font-size:16.5px" fill="#1a1a1a" stroke="#1a1a1a" stroke-width="0.25">11</text>
<text x="518.40" y="706.27" text-anchor="end" transform="translate(518.40,0) scale(0.88,1) translate(-518.40,0)" style="font-family:'Liberation Sans','DejaVu Sans',sans-serif;font-size:16.5px" fill="#1a1a1a" stroke="#1a1a1a" stroke-width="0.25">6</text>
<text x="518.40" y="730.90" text-anchor="end" transform="translate(518.40,0) scale(0.88,1) translate(-518.40,0)" style="font-family:'Liberation Sans','DejaVu Sans',sans-serif;font-size:16.5px" fill="#1a1a1a" stroke="#1a1a1a" stroke-width="0.25">0</text>
<text x="526.70" y="747.50" text-anchor="middle" transform="translate(526.70,0) scale(0.88,1) translate(-526.70,0)" style="font-family:'Liberation Sans','DejaVu Sans',sans-serif;font-size:16.5px" fill="#1a1a1a" stroke="#1a1a1a" stroke-width="0.25">22.6</text>
<text x="570.00" y="747.50" text-anchor="middle" transform="translate(570.00,0) scale(0.88,1) translate(-570.00,0)" style="font-family:'Liberation Sans','DejaVu Sans',sans-serif;font-size:16.5px" fill="#1a1a1a" stroke="#1a1a1a" stroke-width="0.25">23.1</text>
<text x="613.30" y="747.50" text-anchor="middle" transform="translate(613.30,0) scale(0.88,1) translate(-613.30,0)" style="font-family:'Liberation Sans','DejaVu Sans',sans-serif;font-size:16.5px" fill="#1a1a1a" stroke="#1a1a1a" stroke-width="0.25">23.6</text>
<text x="656.60" y="747.50" text-anchor="middle" transform="translate(656.60,0) scale(0.88,1) translate(-656.60,0)" style="font-family:'Liberation Sans','DejaVu Sans',sans-serif;font-size:16.5px" fill="#1a1a1a" stroke="#1a1a1a" stroke-width="0.25">24.1</text>
<text x="699.90" y="747.50" text-anchor="middle" transform="translate(699.90,0) scale(0.88,1) translate(-699.90,0)" style="font-family:'Liberation Sans','DejaVu Sans',sans-serif;font-size:16.5px" fill="#1a1a1a" stroke="#1a1a1a" stroke-width="0.25">24.6</text>
<text x="893.30" y="747.50" text-anchor="middle" style="font-family:'Liberation Sans','DejaVu Sans',sans-serif;font-size:16px" fill="#1a1a1a" stroke="#1a1a1a" stroke-width="0.25">KeV</text>
<g shape-rendering="crispEdges">
<rect x="84.9" y="768" width="7" height="1.3" fill="#111"/>
<rect x="84.9" y="793" width="7" height="1.3" fill="#111"/>
<rect x="84.9" y="817" width="7" height="1.3" fill="#111"/>
<rect x="84.9" y="842" width="7" height="1.3" fill="#111"/>
<rect x="91.15" y="0" width="0" height="0" fill="#000"/>
<rect x="91.4" y="841.6999999999999" width="379.79999999999995" height="1.6" fill="#111"/>
<rect x="91" y="842.3" width="1.3" height="6" fill="#111"/>
<rect x="135" y="842.3" width="1.3" height="6" fill="#111"/>
<rect x="178" y="842.3" width="1.3" height="6" fill="#111"/>
<rect x="221" y="842.3" width="1.3" height="6" fill="#111"/>
<rect x="264" y="842.3" width="1.3" height="6" fill="#111"/>
</g>
<text x="83.60" y="774.01" text-anchor="end" transform="translate(83.60,0) scale(0.88,1) translate(-83.60,0)" style="font-family:'Liberation Sans','DejaVu Sans',sans-serif;font-size:16.5px" fill="#1a1a1a" stroke="#1a1a1a" stroke-width="0.25">296</text>
<text x="83.60" y="798.64" text-anchor="end" transform="translate(83.60,0) scale(0.88,1) translate(-83.60,0)" style="font-family:'Liberation Sans','DejaVu Sans',sans-serif;font-size:16.5px" fill="#1a1a1a" stroke="#1a1a1a" stroke-width="0.25">197</text>
<text x="83.60" y="823.27" text-anchor="end" transform="translate(83.60,0) scale(0.88,1) translate(-83.60,0)" style="font-family:'Liberation Sans','DejaVu Sans',sans-serif;font-size:16.5px" fill="#1a1a1a" stroke="#1a1a1a" stroke-width="0.25">99</text>
<text x="83.60" y="847.90" text-anchor="end" transform="translate(83.60,0) scale(0.88,1) translate(-83.60,0)" style="font-family:'Liberation Sans','DejaVu Sans',sans-serif;font-size:16.5px" fill="#1a1a1a" stroke="#1a1a1a" stroke-width="0.25">0</text>
<text x="91.90" y="864.50" text-anchor="middle" transform="translate(91.90,0) scale(0.88,1) translate(-91.90,0)" style="font-family:'Liberation Sans','DejaVu Sans',sans-serif;font-size:16.5px" fill="#1a1a1a" stroke="#1a1a1a" stroke-width="0.25">9.4</text>
<text x="135.20" y="864.50" text-anchor="middle" transform="translate(135.20,0) scale(0.88,1) translate(-135.20,0)" style="font-family:'Liberation Sans','DejaVu Sans',sans-serif;font-size:16.5px" fill="#1a1a1a" stroke="#1a1a1a" stroke-width="0.25">9.9</text>
<text x="178.50" y="864.50" text-anchor="middle" transform="translate(178.50,0) scale(0.88,1) translate(-178.50,0)" style="font-family:'Liberation Sans','DejaVu Sans',sans-serif;font-size:16.5px" fill="#1a1a1a" stroke="#1a1a1a" stroke-width="0.25">10.4</text>
<text x="221.80" y="864.50" text-anchor="middle" transform="translate(221.80,0) scale(0.88,1) translate(-221.80,0)" style="font-family:'Liberation Sans','DejaVu Sans',sans-serif;font-size:16.5px" fill="#1a1a1a" stroke="#1a1a1a" stroke-width="0.25">10.9</text>
<text x="265.10" y="864.50" text-anchor="middle" transform="translate(265.10,0) scale(0.88,1) translate(-265.10,0)" style="font-family:'Liberation Sans','DejaVu Sans',sans-serif;font-size:16.5px" fill="#1a1a1a" stroke="#1a1a1a" stroke-width="0.25">11.4</text>
<text x="458.50" y="864.50" text-anchor="middle" style="font-family:'Liberation Sans','DejaVu Sans',sans-serif;font-size:16px" fill="#1a1a1a" stroke="#1a1a1a" stroke-width="0.25">KeV</text>
<g shape-rendering="crispEdges">
<rect x="519.7" y="768" width="7" height="1.3" fill="#111"/>
<rect x="519.7" y="793" width="7" height="1.3" fill="#111"/>
<rect x="519.7" y="817" width="7" height="1.3" fill="#111"/>
<rect x="519.7" y="842" width="7" height="1.3" fill="#111"/>
<rect x="525.95" y="0" width="0" height="0" fill="#000"/>
<rect x="526.2" y="841.6999999999999" width="379.79999999999995" height="1.6" fill="#111"/>
<rect x="526" y="842.3" width="1.3" height="6" fill="#111"/>
<rect x="569" y="842.3" width="1.3" height="6" fill="#111"/>
<rect x="613" y="842.3" width="1.3" height="6" fill="#111"/>
<rect x="656" y="842.3" width="1.3" height="6" fill="#111"/>
<rect x="699" y="842.3" width="1.3" height="6" fill="#111"/>
</g>
<text x="518.40" y="774.01" text-anchor="end" transform="translate(518.40,0) scale(0.88,1) translate(-518.40,0)" style="font-family:'Liberation Sans','DejaVu Sans',sans-serif;font-size:16.5px" fill="#1a1a1a" stroke="#1a1a1a" stroke-width="0.25">215</text>
<text x="518.40" y="798.64" text-anchor="end" transform="translate(518.40,0) scale(0.88,1) translate(-518.40,0)" style="font-family:'Liberation Sans','DejaVu Sans',sans-serif;font-size:16.5px" fill="#1a1a1a" stroke="#1a1a1a" stroke-width="0.25">143</text>
<text x="518.40" y="823.27" text-anchor="end" transform="translate(518.40,0) scale(0.88,1) translate(-518.40,0)" style="font-family:'Liberation Sans','DejaVu Sans',sans-serif;font-size:16.5px" fill="#1a1a1a" stroke="#1a1a1a" stroke-width="0.25">72</text>
<text x="518.40" y="847.90" text-anchor="end" transform="translate(518.40,0) scale(0.88,1) translate(-518.40,0)" style="font-family:'Liberation Sans','DejaVu Sans',sans-serif;font-size:16.5px" fill="#1a1a1a" stroke="#1a1a1a" stroke-width="0.25">0</text>
<text x="526.70" y="864.50" text-anchor="middle" transform="translate(526.70,0) scale(0.88,1) translate(-526.70,0)" style="font-family:'Liberation Sans','DejaVu Sans',sans-serif;font-size:16.5px" fill="#1a1a1a" stroke="#1a1a1a" stroke-width="0.25">10.0</text>
<text x="570.00" y="864.50" text-anchor="middle" transform="translate(570.00,0) scale(0.88,1) translate(-570.00,0)" style="font-family:'Liberation Sans','DejaVu Sans',sans-serif;font-size:16.5px" fill="#1a1a1a" stroke="#1a1a1a" stroke-width="0.25">10.5</text>
<text x="613.30" y="864.50" text-anchor="middle" transform="translate(613.30,0) scale(0.88,1) translate(-613.30,0)" style="font-family:'Liberation Sans','DejaVu Sans',sans-serif;font-size:16.5px" fill="#1a1a1a" stroke="#1a1a1a" stroke-width="0.25">11.0</text>
<text x="656.60" y="864.50" text-anchor="middle" transform="translate(656.60,0) scale(0.88,1) translate(-656.60,0)" style="font-family:'Liberation Sans','DejaVu Sans',sans-serif;font-size:16.5px" fill="#1a1a1a" stroke="#1a1a1a" stroke-width="0.25">11.5</text>
<text x="699.90" y="864.50" text-anchor="middle" transform="translate(699.90,0) scale(0.88,1) translate(-699.90,0)" style="font-family:'Liberation Sans','DejaVu Sans',sans-serif;font-size:16.5px" fill="#1a1a1a" stroke="#1a1a1a" stroke-width="0.25">12.0</text>
<text x="893.30" y="864.50" text-anchor="middle" style="font-family:'Liberation Sans','DejaVu Sans',sans-serif;font-size:16px" fill="#1a1a1a" stroke="#1a1a1a" stroke-width="0.25">KeV</text>
<polygon points="119.70,725.09 120.84,724.88 121.99,724.53 123.13,723.94 124.27,723.01 125.41,721.65 126.56,719.74 127.70,717.25 128.84,714.20 129.99,710.74 131.13,707.11 132.27,703.68 133.41,700.84 134.56,698.96 135.70,698.30 136.84,698.96 137.99,700.84 139.13,703.68 140.27,707.11 141.41,710.74 142.56,714.20 143.70,717.25 144.84,719.74 145.99,721.65 147.13,723.01 148.27,723.94 149.41,724.53 150.56,724.88 151.70,725.09" fill="#7c2ae0"/>
<polygon points="167.50,725.24 168.50,725.19 169.50,725.09 170.50,724.94 171.50,724.69 172.50,724.33 173.50,723.82 174.50,723.15 175.50,722.34 176.50,721.42 177.50,720.45 178.50,719.53 179.50,718.78 180.50,718.28 181.50,718.10 182.50,718.28 183.50,718.78 184.50,719.53 185.50,720.45 186.50,721.42 187.50,722.34 188.50,723.15 189.50,723.82 190.50,724.33 191.50,724.69 192.50,724.94 193.50,725.09 194.50,725.19 195.50,725.24" fill="#7c2ae0"/>
<polyline points="196.00,725.30 201.40,724.80 205.00,723.30 208.70,718.00 211.00,706.00 213.10,691.70 215.00,677.00 216.80,666.70 219.00,656.00 221.60,650.60 223.50,654.00 226.00,663.00 226.20,725.30" fill="none" stroke="#111" stroke-width="1.3"/>
<rect x="135" y="647.50" width="1" height="77.80" fill="#111" shape-rendering="crispEdges"/>
<rect x="182" y="647.50" width="1" height="77.80" fill="#111" shape-rendering="crispEdges"/>
<text x="135.20" y="646.00" text-anchor="middle" transform="translate(135.20,0) scale(0.9,1) translate(-135.20,0)" style="font-family:'Liberation Sans','DejaVu Sans',sans-serif;font-size:16px" fill="#8650d0">Cr-Ka</text>
<text x="182.20" y="646.00" text-anchor="middle" transform="translate(182.20,0) scale(0.9,1) translate(-182.20,0)" style="font-family:'Liberation Sans','DejaVu Sans',sans-serif;font-size:16px" fill="#8650d0">Cr-Kb</text>
<polygon points="551.50,725.30 551.50,715.70 555.00,715.70 555.00,712.50 561.00,712.50 561.00,707.80 566.00,707.80 566.00,704.30 568.00,704.30 568.00,703.60 570.00,703.60 570.00,711.50 574.00,711.50 574.00,703.00 577.00,703.00 577.00,698.90 581.00,698.90 581.00,703.60 584.00,703.60 584.00,710.40 586.10,710.40 586.10,725.30" fill="#b02626"/>
<polygon points="814.30,725.30 814.30,675.70 816.20,672.50 820.40,671.50 822.50,665.70 824.10,659.90 825.70,671.50 827.30,677.30 833.00,677.30 834.60,681.40 836.20,676.70 839.30,674.60 841.40,663.60 844.60,663.60 846.10,674.10 847.70,679.90 849.30,679.90 849.30,725.30" fill="#b02626"/>
<polyline points="527.30,725.30 527.30,714.00 530.00,713.00 532.00,710.50 534.50,708.30 537.00,712.80 539.00,712.00 541.00,711.50 543.50,714.50 545.50,712.50 549.00,712.50 551.00,715.50 551.50,715.70" fill="none" stroke="#111" stroke-width="1.2" stroke-linejoin="round"/>
<polyline points="551.50,715.70 555.00,715.70 555.00,712.50 561.00,712.50 561.00,707.80 566.00,707.80 566.00,704.30 568.00,704.30 568.00,703.60 570.00,703.60 570.00,711.50 574.00,711.50 574.00,703.00 577.00,703.00 577.00,698.90 581.00,698.90 581.00,703.60 584.00,703.60 584.00,710.40 586.10,710.40 586.10,711.50" fill="none" stroke="#6a1414" stroke-width="1.2" stroke-linejoin="round"/>
<polyline points="586.10,710.40 586.10,711.50 589.30,708.30 589.80,712.50 595.50,712.50 598.20,703.10 603.10,694.60 604.70,699.80 607.30,712.40 610.00,704.00 611.50,705.00 614.70,715.50 616.80,700.90 618.90,694.60 621.50,698.20 624.70,695.10 626.80,696.70 628.90,690.40 630.40,692.50 632.50,703.00 634.10,707.70 637.30,704.00 639.30,712.40 642.00,708.20 645.10,699.30 649.80,695.10 652.50,698.80 655.10,703.00 657.20,699.80 659.80,703.50 663.00,707.70 665.10,698.80 668.70,699.30 669.30,703.50 675.00,703.50 678.20,690.40 682.90,687.20 685.00,693.50 688.10,703.00 690.80,694.60 693.40,689.80 696.50,703.00 699.20,703.00 700.80,698.80 703.40,698.20 705.50,690.40 708.10,687.20 710.70,694.00 713.90,694.00 716.50,690.40 718.60,694.00 721.80,688.30 722.80,677.80 725.40,686.20 730.20,668.30 732.30,673.60 734.90,686.20 737.50,677.30 741.20,676.70 743.80,669.40 746.40,651.00 748.50,657.80 750.10,668.30 753.20,676.70 756.90,668.30 760.60,651.00 763.70,658.90 765.30,677.30 768.50,677.30 770.60,673.10 773.20,681.40 775.80,673.10 778.90,679.90 780.00,686.70 782.10,686.70 783.70,677.80 787.30,686.20 790.00,682.00 791.60,686.20 794.70,679.90 797.30,672.50 798.40,679.90 800.00,689.30 802.10,689.30 803.60,682.00 805.20,686.20 811.00,686.20 814.10,682.00 814.30,675.70" fill="none" stroke="#111" stroke-width="1.2" stroke-linejoin="round"/>
<polyline points="814.30,675.70 816.20,672.50 820.40,671.50 822.50,665.70 824.10,659.90 825.70,671.50 827.30,677.30 833.00,677.30 834.60,681.40 836.20,676.70 839.30,674.60 841.40,663.60 844.60,663.60 846.10,674.10 847.70,679.90 849.30,666.20" fill="none" stroke="#6a1414" stroke-width="1.2" stroke-linejoin="round"/>
<polyline points="849.30,666.20 850.90,663.60 853.00,663.60 856.10,672.50 859.30,676.70 862.40,682.00 865.00,668.30 867.60,672.50 870.30,668.30 872.90,675.70 875.00,682.00 876.00,677.80 876.20,725.30" fill="none" stroke="#111" stroke-width="1.2" stroke-linejoin="round"/>
<rect x="570" y="647.80" width="1" height="77.50" fill="#111" shape-rendering="crispEdges"/>
<rect x="833" y="647.80" width="1" height="77.50" fill="#111" shape-rendering="crispEdges"/>
<text x="571.60" y="646.00" text-anchor="middle" transform="translate(571.60,0) scale(0.9,1) translate(-571.60,0)" style="font-family:'Liberation Sans','DejaVu Sans',sans-serif;font-size:16px" fill="#a03a3a">Cd-Ka</text>
<text x="835.00" y="646.00" text-anchor="middle" transform="translate(835.00,0) scale(0.9,1) translate(-835.00,0)" style="font-family:'Liberation Sans','DejaVu Sans',sans-serif;font-size:16px" fill="#a03a3a">Cd-Kb</text>
<polygon points="126.90,842.30 126.90,797.00 127.50,803.00 129.00,815.00 131.00,824.70 133.50,831.50 135.90,836.70 139.00,839.80 143.10,841.50 143.80,841.80 143.80,842.30" fill="#f08a1a"/>
<polyline points="92.40,841.50 96.00,840.80 99.70,839.10 102.00,836.50 104.50,831.90 107.00,822.00 110.50,805.30 113.00,788.00 115.30,776.40 117.00,770.50 119.00,768.40 121.00,770.00 122.60,774.00 124.50,782.00 126.20,793.30 127.50,803.00 129.00,815.00 131.00,824.70 133.50,831.50 135.90,836.70 139.00,839.80 143.10,841.50" fill="none" stroke="#111" stroke-width="1.2"/>
<rect x="160" y="840.6" width="23" height="2" fill="#111"/>
<polygon points="285.20,842.30 285.20,819.90 288.00,826.00 291.00,831.00 294.00,834.60 297.50,837.80 301.40,840.50 303.00,841.50 302.80,842.30" fill="#f08a1a"/>
<rect x="302.8" y="840" width="23.5" height="1.6" fill="#f08a1a"/>
<polyline points="221.50,842.30 222.00,840.50 224.00,841.00 227.90,840.50 233.00,839.00 238.20,837.50 243.00,836.00 247.00,834.60 251.00,832.80 254.30,830.20 257.50,827.00 260.20,822.80 262.50,815.00 264.60,805.20 266.80,795.00 269.00,788.50 272.00,790.00 274.90,793.50 277.00,797.50 279.30,802.30 282.00,810.00 285.20,819.90 288.00,826.00 291.00,831.00 294.00,834.60 297.50,837.80 301.40,840.50 303.00,841.50" fill="none" stroke="#111" stroke-width="1.2"/>
<rect x="318" y="841" width="8" height="1" fill="#111"/>
<rect x="143" y="765.50" width="1" height="76.80" fill="#111" shape-rendering="crispEdges"/>
<rect x="302" y="765.00" width="1" height="77.30" fill="#111" shape-rendering="crispEdges"/>
<text x="145.50" y="763.00" text-anchor="middle" transform="translate(145.50,0) scale(0.9,1) translate(-145.50,0)" style="font-family:'Liberation Sans','DejaVu Sans',sans-serif;font-size:16px" fill="#f0a050">Hg-La</text>
<text x="303.50" y="763.00" text-anchor="middle" transform="translate(303.50,0) scale(0.9,1) translate(-303.50,0)" style="font-family:'Liberation Sans','DejaVu Sans',sans-serif;font-size:16px" fill="#f0a050">Hg-Lb</text>
<polyline points="527.00,841.50 540.00,841.20 548.00,841.60 560.00,841.00 575.00,841.50 590.00,841.20 600.00,841.60 610.00,841.40 619.10,841.50 622.00,839.00 625.20,836.70 630.00,834.20 634.80,831.90 638.50,828.50 642.10,824.70 645.50,818.00 648.10,810.20 650.00,798.00 651.70,786.00 653.50,775.00 655.30,768.40 658.00,771.00 661.40,776.40 664.00,786.00 667.40,800.50 670.50,806.50 673.40,812.60 677.00,822.00 680.70,831.90 683.00,835.50 685.50,837.90 689.00,839.60 692.80,840.30 697.00,840.60 703.00,840.80 710.00,841.20 720.00,841.40 723.00,841.80" fill="none" stroke="#111" stroke-width="1.2"/>
<rect x="564" y="840.2" width="3" height="1.5" fill="#60d8e8"/><rect x="585" y="840.2" width="4" height="1.5" fill="#60d8e8"/><rect x="762" y="840.2" width="3" height="1.5" fill="#60d8e8"/>
<rect x="768" y="840.5" width="12" height="1.5" fill="#111"/>
<rect x="578" y="764.80" width="1" height="77.50" fill="#111" shape-rendering="crispEdges"/>
<rect x="756" y="765.00" width="1" height="77.30" fill="#111" shape-rendering="crispEdges"/>
<text x="579.30" y="763.00" text-anchor="middle" transform="translate(579.30,0) scale(0.9,1) translate(-579.30,0)" style="font-family:'Liberation Sans','DejaVu Sans',sans-serif;font-size:16px" fill="#58d8e8">Pb-La</text>
<text x="758.00" y="763.00" text-anchor="middle" transform="translate(758.00,0) scale(0.9,1) translate(-758.00,0)" style="font-family:'Liberation Sans','DejaVu Sans',sans-serif;font-size:16px" fill="#58d8e8">Pb-Lb</text>
<defs><clipPath id="pc"><rect x="694" y="43" width="229" height="206"/></clipPath>
<filter id="bl3" x="-50%" y="-50%" width="200%" height="200%"><feGaussianBlur stdDeviation="2"/></filter><filter id="bl2" x="-50%" y="-50%" width="200%" height="200%"><feGaussianBlur stdDeviation="1.3"/></filter>
<filter id="bl1" x="-10%" y="-10%" width="120%" height="120%"><feGaussianBlur stdDeviation="0.55"/></filter>
</defs>
<g clip-path="url(#pc)">
<rect x="694" y="43" width="229" height="206" fill="#5e6830"/>
<g filter="url(#bl3)">
<ellipse cx="837" cy="196" rx="6" ry="8" fill="#7c8640" opacity="0.8"/>
<ellipse cx="911" cy="177" rx="7" ry="8" fill="#747f38" opacity="0.8"/>
<ellipse cx="751" cy="155" rx="8" ry="10" fill="#7c8640" opacity="0.8"/>
<ellipse cx="788" cy="81" rx="7" ry="11" fill="#485424" opacity="0.8"/>
<ellipse cx="726" cy="170" rx="7" ry="12" fill="#747f38" opacity="0.8"/>
<ellipse cx="695" cy="202" rx="13" ry="7" fill="#747f38" opacity="0.8"/>
<ellipse cx="915" cy="154" rx="7" ry="12" fill="#747f38" opacity="0.8"/>
<ellipse cx="739" cy="242" rx="8" ry="8" fill="#485424" opacity="0.8"/>
<ellipse cx="732" cy="73" rx="9" ry="11" fill="#6a7432" opacity="0.8"/>
<ellipse cx="829" cy="166" rx="7" ry="7" fill="#505c26" opacity="0.8"/>
<ellipse cx="764" cy="186" rx="10" ry="10" fill="#747f38" opacity="0.8"/>
<ellipse cx="707" cy="244" rx="14" ry="8" fill="#6a7432" opacity="0.8"/>
<ellipse cx="787" cy="156" rx="9" ry="9" fill="#485424" opacity="0.8"/>
<ellipse cx="696" cy="53" rx="11" ry="12" fill="#747f38" opacity="0.8"/>
<ellipse cx="721" cy="94" rx="9" ry="7" fill="#485424" opacity="0.8"/>
<ellipse cx="814" cy="203" rx="11" ry="10" fill="#6a7432" opacity="0.8"/>
<ellipse cx="778" cy="104" rx="14" ry="6" fill="#485424" opacity="0.8"/>
<ellipse cx="772" cy="169" rx="9" ry="11" fill="#747f38" opacity="0.8"/>
<ellipse cx="819" cy="107" rx="8" ry="11" fill="#505c26" opacity="0.8"/>
<ellipse cx="838" cy="192" rx="14" ry="6" fill="#505c26" opacity="0.8"/>
<ellipse cx="705" cy="246" rx="13" ry="5" fill="#7c8640" opacity="0.8"/>
<ellipse cx="864" cy="114" rx="10" ry="8" fill="#505c26" opacity="0.8"/>
<ellipse cx="707" cy="232" rx="12" ry="7" fill="#6a7432" opacity="0.8"/>
<ellipse cx="742" cy="245" rx="14" ry="9" fill="#7c8640" opacity="0.8"/>
<ellipse cx="875" cy="65" rx="9" ry="5" fill="#485424" opacity="0.8"/>
<ellipse cx="791" cy="72" rx="13" ry="12" fill="#7c8640" opacity="0.8"/>
<ellipse cx="798" cy="144" rx="10" ry="7" fill="#505c26" opacity="0.8"/>
<ellipse cx="787" cy="73" rx="13" ry="9" fill="#485424" opacity="0.8"/>
<ellipse cx="735" cy="236" rx="7" ry="8" fill="#505c26" opacity="0.8"/>
<ellipse cx="812" cy="156" rx="9" ry="11" fill="#7c8640" opacity="0.8"/>
<ellipse cx="872" cy="186" rx="12" ry="8" fill="#6a7432" opacity="0.8"/>
<ellipse cx="856" cy="101" rx="8" ry="12" fill="#485424" opacity="0.8"/>
<ellipse cx="858" cy="240" rx="11" ry="9" fill="#505c26" opacity="0.8"/>
<ellipse cx="697" cy="156" rx="9" ry="7" fill="#505c26" opacity="0.8"/>
<ellipse cx="760" cy="146" rx="9" ry="10" fill="#505c26" opacity="0.8"/>
<ellipse cx="863" cy="214" rx="13" ry="6" fill="#505c26" opacity="0.8"/>
<ellipse cx="893" cy="136" rx="14" ry="9" fill="#505c26" opacity="0.8"/>
<ellipse cx="815" cy="77" rx="13" ry="8" fill="#505c26" opacity="0.8"/>
<ellipse cx="853" cy="191" rx="7" ry="10" fill="#485424" opacity="0.8"/>
<ellipse cx="827" cy="180" rx="8" ry="9" fill="#485424" opacity="0.8"/>
<ellipse cx="893" cy="99" rx="8" ry="9" fill="#6a7432" opacity="0.8"/>
<ellipse cx="837" cy="80" rx="11" ry="5" fill="#747f38" opacity="0.8"/>
<ellipse cx="802" cy="90" rx="13" ry="6" fill="#6a7432" opacity="0.8"/>
<ellipse cx="916" cy="142" rx="6" ry="8" fill="#7c8640" opacity="0.8"/>
<ellipse cx="781" cy="169" rx="8" ry="10" fill="#7c8640" opacity="0.8"/>
<ellipse cx="780" cy="115" rx="13" ry="11" fill="#505c26" opacity="0.8"/>
<ellipse cx="852" cy="156" rx="10" ry="7" fill="#6a7432" opacity="0.8"/>
<ellipse cx="762" cy="149" rx="8" ry="7" fill="#7c8640" opacity="0.8"/>
<ellipse cx="724" cy="127" rx="11" ry="8" fill="#7c8640" opacity="0.8"/>
<ellipse cx="727" cy="166" rx="10" ry="6" fill="#7c8640" opacity="0.8"/>
</g>
<g filter="url(#bl1)">
<path d="M711.1 42.0l-13.7 5.1M710.4 48.4l-11.6 1.4M710.3 51.1l-11.7 3.4M711.9 55.1l-14.8 3.4M711.8 60.1l-15.2 2.8M712.9 62.9l-13.9 4.8M713.2 68.3l-14.2 3.1M713.8 70.5l-15.2 3.9M713.2 74.9l-11.2 6.4M716.0 78.0l-13.8 4.8M714.5 83.7l-11.2 3.8M714.2 86.6l-11.4 4.0M715.0 91.7l-11.7 3.8M716.1 96.6l-12.7 1.1M717.0 99.1l-13.6 4.7M717.0 103.8l-13.6 3.2M717.6 108.8l-15.3 -0.1M708.6 46.3l8.7 3.0M710.8 42.8l7.2 4.9M712.3 41.6l8.4 3.4M707.7 59.6l6.8 7.1M710.3 56.1l6.8 7.9M713.2 54.7l6.9 5.7M714.6 51.2l7.6 7.0M718.3 48.9l5.9 5.8M720.6 46.7l6.6 5.0M723.7 43.9l6.0 5.9M724.2 40.9l6.7 6.8M728.1 40.1l7.4 7.5M710.8 89.8l8.5 4.9M712.9 87.1l6.6 5.4M714.1 83.9l9.1 6.4M718.2 82.2l9.0 6.1M723.4 77.7l6.3 5.3M724.8 73.5l7.6 7.4M730.0 70.6l6.9 5.1M732.3 67.6l7.1 4.8M733.7 64.9l7.5 4.3M736.9 62.4l7.5 4.3M738.2 59.8l6.6 5.8M740.5 56.9l7.7 5.7M741.3 53.0l7.8 6.6M743.9 51.4l6.9 4.8M745.5 47.4l7.7 5.7M748.2 44.6l8.6 6.2M749.4 43.1l8.9 4.4M712.6 109.8l7.5 3.4M713.6 107.3l10.7 2.9M715.2 103.7l10.5 3.2M717.9 101.4l9.0 3.0M720.2 97.8l8.2 4.0M721.9 94.0l7.5 5.0M725.3 88.8l8.8 4.5M726.4 87.4l8.5 2.7M727.8 84.3l9.1 2.6M730.3 80.8l8.8 4.3M731.5 77.9l7.3 3.7M733.6 75.0l8.5 3.3M736.1 72.7l8.4 2.5M737.9 68.9l7.9 4.1M738.9 65.8l8.5 3.8M742.1 61.4l6.9 4.4M742.0 61.5l8.0 2.6M744.4 57.1l7.9 4.2M745.7 54.6l8.5 4.3M747.3 51.2l10.0 4.9M749.3 48.0l9.1 5.7M751.7 45.6l9.8 4.5M752.8 43.1l8.3 4.5M755.4 40.7l9.8 4.3M710.3 131.2l7.6 3.3M712.3 127.6l8.3 4.9M713.1 123.9l8.3 5.9M715.1 121.2l7.5 4.0M717.2 118.0l7.0 5.0M720.9 111.7l7.5 4.8M722.2 108.5l7.1 6.3M722.8 105.5l9.6 4.8M724.9 103.1l8.7 4.3M726.3 101.0l9.1 5.1M729.5 97.4l6.6 5.4M729.8 93.1l8.2 6.9M731.9 91.5l9.0 4.5M733.7 89.3l9.4 4.2M736.9 86.1l9.1 3.6M739.9 83.9l8.1 4.2M741.7 82.9l8.6 4.1M743.2 78.8l8.0 5.5M745.8 76.7l7.7 4.3M747.9 73.5l9.1 3.6M751.6 71.8l7.1 4.6M752.5 68.2l7.2 4.8M755.6 66.0l6.8 6.1M758.9 61.0l7.9 5.0M762.2 58.1l8.4 5.8M764.6 56.0l8.6 5.5M769.7 51.9l9.6 5.6M775.1 45.4l6.8 6.0M777.5 44.1l7.9 5.1M780.3 41.3l8.0 6.2M714.7 138.0l7.5 6.4M716.9 134.8l6.8 7.0M719.5 132.8l5.9 6.5M720.7 129.0l7.4 7.7M724.0 125.7l5.9 8.3M725.5 124.3l7.3 7.4M727.3 120.8l6.7 8.7M730.3 118.8l6.2 7.7M732.7 116.2l5.0 6.5M734.7 113.9l6.2 7.3M735.2 111.8l8.6 6.4M739.9 108.0l5.6 8.1M742.0 106.8l6.6 5.4M743.5 103.6l7.2 8.5M746.5 101.3l7.2 7.9M747.9 99.9l8.5 6.0M753.4 93.3l6.4 7.8M754.8 90.4l8.4 7.2M756.9 87.9l6.8 6.8M760.3 86.2l5.4 9.4M765.4 80.3l6.5 8.3M767.4 78.6l6.3 6.7M769.0 75.0l6.3 8.8M771.0 74.0l6.5 6.3M773.5 70.6l5.7 8.1M775.4 67.6l7.1 8.2M779.0 64.9l4.9 9.1M780.2 63.1l7.1 6.6M782.3 60.8l6.1 6.8M784.7 57.8l5.4 6.2M786.1 54.4l6.7 6.7M787.6 51.3l5.7 7.5M788.9 48.0l8.1 7.4M791.0 44.8l6.3 8.5M795.4 40.8l6.1 6.1M738.6 143.1l6.7 4.8M742.8 137.3l6.8 4.6M745.3 134.7l7.3 3.7M746.0 131.9l9.9 3.5M748.9 130.1l7.9 4.0M749.9 125.9l9.4 4.7M752.9 120.5l8.0 4.4M756.1 117.3l7.3 5.7M758.5 114.5l8.2 5.5M759.2 111.8l8.9 5.6M761.7 108.7l7.8 4.7M762.3 104.4l8.0 6.4M768.8 96.9l7.5 5.6M767.9 93.6l9.7 3.8M772.1 90.7l7.8 4.5M772.7 87.8l8.2 4.4M773.7 84.6l7.7 7.9M776.6 81.6l7.5 6.1M777.2 78.2l7.4 6.5M779.3 76.1l8.8 4.0M782.4 73.1l7.3 4.9M783.5 69.4l6.7 4.8M785.3 68.3l7.4 4.3M786.2 64.0l8.6 6.0M788.5 61.9l6.7 4.7M791.0 58.7l7.9 5.3M793.4 56.0l7.7 4.4M794.7 52.8l6.7 5.2M797.3 50.5l6.8 5.3M799.2 47.3l7.2 4.5M801.4 43.4l7.7 6.5M755.8 143.6l8.5 4.7M757.6 138.4l7.2 4.9M758.9 136.3l9.4 2.1M759.3 132.7l8.4 3.2M761.6 130.7l7.7 3.1M763.1 126.0l8.1 4.5M764.1 125.1l9.2 2.3M765.6 119.9l8.1 4.6M767.9 119.1l9.0 2.4M770.2 116.9l8.6 2.0M771.1 112.5l10.4 3.3M773.7 110.0l8.5 3.4M775.1 107.2l10.1 4.1M777.3 105.2l8.2 2.7M779.5 101.8l10.0 4.3M781.1 97.4l8.9 4.4M783.1 95.2l9.1 5.9M784.9 93.1l9.7 5.5M788.2 90.0l8.2 4.9M790.6 87.6l8.4 3.0M792.1 85.9l10.0 4.2M794.3 82.2l9.4 4.8M797.5 79.9l8.0 4.1M802.7 76.2l8.9 3.2M765.4 139.3l7.9 5.5M769.8 134.1l5.9 6.2M771.4 130.6l6.9 6.6M774.6 127.4l4.8 7.0M775.7 126.6l8.5 4.4M784.4 115.1l8.4 7.0M786.8 111.7l6.5 5.3M789.8 109.8l5.9 6.2M791.2 107.2l7.2 6.5M793.5 104.2l7.9 7.5M797.1 101.3l7.0 6.6M799.0 99.9l6.3 5.7M801.0 96.6l6.6 7.4M802.8 95.8l6.6 4.9M804.3 93.1l7.2 4.8M789.3 144.9l7.9 4.9M792.7 138.8l7.9 8.0M794.6 137.3l7.9 3.3M796.5 133.5l6.2 6.3M798.3 130.0l8.2 7.4M799.4 128.0l8.0 5.5M801.5 124.5l7.5 5.6M803.0 121.4l7.1 6.3M806.5 117.9l5.5 6.8M925.5 43.0l-13.5 0.5M926.0 49.7l-12.6 3.2M924.8 54.6l-11.3 0.4M926.4 57.7l-14.2 2.7M926.8 61.5l-13.5 0.5M926.6 63.3l-12.5 4.6M925.9 67.5l-13.0 3.4M927.2 72.8l-12.7 0.5M926.4 77.0l-11.6 -1.6M928.8 83.6l-11.2 0.3M929.1 86.9l-11.1 1.1M931.0 94.5l-12.0 -1.0M931.6 97.9l-14.2 -0.7M932.3 103.7l-14.3 -3.1M931.3 105.4l-11.4 -0.5M930.7 111.6l-10.1 -4.5M930.4 114.8l-10.7 -4.0M932.5 117.9l-14.2 -3.9M930.2 121.2l-10.9 -1.7M927.8 125.6l-10.1 -4.3M928.0 130.2l-9.8 -5.5M928.1 132.1l-11.4 -3.9M927.9 136.3l-11.6 -4.4M928.5 138.5l-13.7 -3.1M926.5 143.9l-10.2 -5.6M925.6 146.4l-11.1 -4.2M926.7 151.3l-14.1 -4.0M908.0 44.3l-14.4 2.1M906.4 49.4l-13.2 1.7M905.6 52.6l-11.2 1.0M907.2 56.9l-13.9 0.4M905.8 58.7l-12.3 2.4M907.6 63.7l-14.8 0.4M906.3 66.6l-11.6 2.1M906.6 70.9l-11.6 0.7M909.4 74.9l-13.9 -1.5M910.0 78.4l-14.6 -0.0M909.4 85.8l-11.9 -0.7M911.8 92.7l-14.1 -2.3M911.3 98.0l-12.3 -2.8M911.1 102.6l-10.9 -4.7M912.1 104.8l-13.0 -3.4M912.8 109.6l-13.3 -6.7M911.6 113.0l-12.7 -4.9M912.0 116.5l-12.7 -4.0M912.3 118.7l-13.4 -2.6M911.3 123.7l-12.6 -5.5M911.3 128.3l-13.7 -5.3M911.3 131.7l-13.4 -5.4M908.3 134.4l-10.8 -2.6M908.9 138.0l-11.3 -2.9M908.2 141.9l-11.3 -3.6M908.6 146.3l-13.3 -4.2M906.5 148.1l-10.3 -4.3M885.0 45.0l-11.1 1.4M885.9 47.7l-11.2 0.2M886.1 50.4l-13.3 5.5M887.1 54.8l-14.7 2.2M886.1 57.7l-11.0 3.7M888.0 63.5l-14.6 -0.2M887.5 70.6l-12.3 -0.2M887.8 74.4l-11.2 0.2M887.0 77.9l-11.0 -0.8M889.3 82.3l-13.8 -1.5M889.8 85.7l-12.8 -2.9M891.7 89.8l-13.5 -0.8M892.0 93.0l-14.7 -2.0M891.8 98.0l-10.8 -4.2M891.6 100.1l-12.4 -1.3M890.4 104.9l-10.8 -2.8M890.8 107.3l-10.7 -2.8M892.7 113.4l-13.9 -3.6M893.4 114.1l-14.8 -1.9M891.5 118.9l-11.5 -3.2M890.4 122.4l-11.0 -3.2M890.9 125.7l-11.3 -2.6M890.6 130.4l-12.5 -3.3M888.8 135.3l-12.2 -6.9M888.3 140.4l-10.8 -3.6M888.0 143.5l-11.7 -2.2M887.9 147.0l-14.6 -2.1M887.7 151.7l-13.3 -3.4M867.7 43.2l-14.0 2.9M867.5 49.4l-13.3 -0.6M868.4 51.5l-14.4 0.8M867.4 62.3l-12.7 0.7M867.6 66.8l-11.8 0.8M867.9 69.6l-11.2 0.5M871.4 76.9l-13.9 0.4M869.8 79.7l-12.2 0.1M870.6 85.1l-12.4 -1.7M872.4 95.8l-11.6 0.1M872.4 99.2l-14.0 -1.7M872.9 104.4l-13.9 -3.2M873.3 111.1l-13.0 -2.8M871.7 115.2l-11.4 -4.0M872.2 118.0l-10.9 -2.9M872.5 120.9l-13.2 -2.1M871.2 125.1l-10.6 -3.4M870.3 129.9l-10.1 -4.1M870.5 132.2l-11.1 -1.8M868.8 137.0l-11.2 -4.2M870.8 140.1l-14.2 -4.4M865.9 144.2l-10.0 -4.4M867.4 148.1l-12.7 -5.7M868.6 150.3l-14.2 -2.5M846.7 46.1l-11.2 0.6M846.8 48.9l-11.4 3.2M848.3 53.1l-13.0 1.2M849.0 57.3l-14.8 0.1M848.6 63.2l-14.6 1.1M847.8 68.0l-11.2 0.2M849.4 71.5l-13.9 0.7M850.4 77.4l-12.0 -3.3M850.5 78.4l-13.1 1.1M851.9 82.6l-14.4 -0.8M852.1 86.9l-14.3 -1.6M853.3 91.0l-13.5 -2.1M852.1 94.8l-11.6 -2.0M853.8 97.9l-14.1 -3.0M852.8 103.3l-11.3 -4.2M853.1 108.0l-11.8 -1.4M852.0 112.3l-10.5 -3.2M853.6 116.3l-12.3 -2.3M852.0 119.2l-11.6 -2.1M852.9 123.6l-12.8 -4.0M852.4 127.6l-14.1 -3.6M852.6 130.9l-14.4 -3.9M850.9 134.7l-13.6 -2.8M849.4 143.1l-11.4 -4.8M847.7 144.7l-10.9 -2.1M849.1 149.3l-12.1 -3.3M829.6 45.6l-12.9 1.9M829.6 51.8l-14.6 -2.0M829.3 53.0l-12.6 0.6M830.7 56.9l-13.6 -0.2M829.2 59.7l-11.5 2.2M831.2 64.4l-14.9 0.4M830.3 69.4l-12.5 -1.0M830.2 72.0l-11.5 0.3M831.8 75.1l-12.9 0.4M832.7 80.8l-12.7 -4.6M834.4 84.4l-14.3 -3.4M833.2 85.0l-13.6 -0.1M833.8 89.9l-12.8 -1.9M834.5 95.6l-12.9 -3.7M834.8 99.9l-12.4 -4.5M834.0 101.1l-11.5 -1.8M836.4 110.1l-13.5 -4.8M833.5 113.2l-10.3 -4.1M833.9 116.9l-10.3 -3.9M834.7 120.6l-13.5 -2.4M833.7 124.1l-10.5 -5.0M833.3 127.7l-11.6 -5.0M833.7 130.4l-13.6 -3.2M832.2 135.8l-12.9 -4.9M831.7 137.0l-11.2 -1.8M831.2 142.0l-11.1 -4.1M831.4 145.4l-13.7 -3.6M828.3 148.0l-11.0 -2.4M811.9 44.4l-12.9 1.6M811.8 47.5l-12.4 2.4M812.3 51.6l-13.7 0.3M811.9 57.1l-14.5 0.5M811.4 59.3l-11.4 0.9M812.5 63.7l-13.8 -0.4M811.8 66.5l-11.7 0.9M812.6 71.1l-13.4 -0.8M813.3 78.9l-10.9 -1.7M814.0 86.3l-11.8 -2.3M815.1 89.9l-10.9 -0.7M815.1 92.6l-11.3 -1.1M816.3 98.4l-11.0 -4.8M817.4 100.5l-12.9 -2.7M817.6 106.0l-12.4 -4.4M818.2 108.1l-13.9 -3.2M815.6 112.6l-10.0 -4.4M818.0 114.7l-11.8 -1.8M816.9 120.3l-13.8 -5.4M815.5 123.8l-10.6 -5.2M815.2 130.6l-12.0 -3.0M815.7 134.4l-13.1 -3.6M813.6 137.7l-10.9 -3.9M814.0 141.2l-12.5 -2.3M812.7 144.8l-12.5 -4.5M812.3 147.1l-13.4 -1.1M693.1 147.7l3.1 9.7M694.8 146.9l4.4 6.8M697.7 145.3l3.6 8.5M700.9 142.5l3.8 9.6M704.0 142.7l4.3 8.5M704.5 141.7l6.1 7.9M707.2 139.4l5.9 7.8M691.9 168.3l6.2 8.8M696.7 169.2l5.1 6.9M698.9 168.3l6.8 6.4M702.5 165.2l7.0 8.3M706.2 165.1l5.5 7.9M708.1 164.1l6.7 7.6M710.5 163.3l6.8 7.3M716.3 162.3l4.7 7.4M718.7 160.3l4.8 8.1M721.6 159.1l4.7 9.5M725.0 159.4l4.8 8.1M727.7 158.3l3.6 7.6M731.4 157.1l4.5 8.5M732.4 155.1l7.3 6.6M735.5 152.4l4.9 9.5M738.4 152.0l5.2 8.2M742.1 150.4l4.2 8.8M746.4 146.5l4.7 8.9M696.5 183.5l4.9 9.3M702.4 181.8l5.5 7.7M705.8 180.9l3.5 8.1M708.8 178.6l3.2 9.8M711.9 177.6l4.0 8.6M715.8 176.9l1.2 8.1M717.8 174.9l4.7 8.8M719.8 172.2l3.3 10.1M724.1 173.2l2.1 7.6M726.5 169.5l2.6 9.9M728.5 167.5l2.8 9.1M731.4 166.3l2.4 7.9M733.5 163.5l3.8 9.8M736.3 162.3l3.6 7.1M738.1 159.1l4.0 9.1M741.5 158.3l3.1 7.5M745.1 156.0l2.0 8.1M745.2 153.2l4.4 8.9M749.4 151.7l1.7 8.5M751.1 149.2l1.5 8.1M754.5 146.5l2.1 8.8M757.4 145.4l3.2 10.3M763.0 142.7l1.5 9.5M699.1 200.7l1.1 9.1M700.8 200.1l2.9 8.7M702.8 197.2l3.6 10.0M705.8 194.7l2.8 9.0M708.4 193.0l2.8 10.2M711.9 191.6l1.0 8.4M715.0 189.7l2.3 9.9M715.5 188.4l3.2 10.2M718.7 185.1l3.2 9.0M720.0 183.3l3.0 8.6M723.6 181.9l3.3 8.2M725.3 179.7l3.4 8.7M729.0 176.9l1.8 7.7M730.8 176.5l4.0 8.5M734.6 173.8l2.7 9.4M738.0 172.6l1.6 7.9M739.5 171.8l4.0 7.2M742.2 169.3l3.1 9.3M750.6 165.3l4.3 7.7M753.8 164.4l4.0 7.5M755.5 162.7l3.9 8.8M761.1 160.9l2.2 10.3M694.3 213.2l3.5 7.3M696.0 209.9l5.5 8.8M697.9 208.2l4.5 8.5M701.9 206.9l4.2 6.9M704.0 203.7l4.4 9.2M705.7 202.8l4.8 7.4M708.9 199.7l4.4 8.6M710.5 199.4l7.3 7.2M716.7 195.7l5.9 8.2M719.8 194.1l5.2 7.8M723.1 193.2l4.7 6.7M725.2 190.4l4.9 8.4M731.8 189.2l7.1 8.0M734.7 188.9l5.9 8.3M736.9 187.8l5.9 5.3M741.3 185.8l5.5 8.9M743.9 186.7l6.9 7.1M745.7 185.2l6.1 7.1M749.9 184.2l6.4 7.1M754.6 181.5l5.5 8.1M756.5 180.8l5.8 8.8M760.0 182.2l5.2 6.0M761.8 180.6l7.1 6.0M692.2 222.1l5.2 8.1M694.3 220.2l7.1 7.8M696.0 221.2l8.6 6.5M701.7 218.7l4.4 6.7M704.4 217.5l6.0 6.4M706.5 216.1l6.3 6.4M708.7 214.0l6.1 6.5M712.6 215.3l7.0 5.1M715.9 212.2l5.3 8.2M718.7 212.7l4.9 7.5M721.7 210.7l6.0 7.8M726.0 210.1l5.4 7.2M729.9 209.0l4.4 6.6M731.9 207.4l5.3 7.4M735.4 206.3l4.7 9.2M738.0 206.6l5.4 5.9M742.4 204.8l3.4 7.7M743.3 204.1l5.2 6.5M745.9 201.2l5.5 9.2M750.8 201.3l4.0 7.5M753.9 200.8l4.7 7.2M756.7 197.2l3.8 9.8M759.9 197.3l4.3 7.5M762.6 195.1l3.6 7.7M763.2 193.4l3.8 7.3M691.8 239.7l5.6 7.8M695.8 239.3l5.0 7.3M698.4 237.4l5.3 6.0M702.1 236.7l4.1 7.7M705.3 236.0l4.4 7.3M708.1 235.0l4.8 8.6M711.9 234.3l4.3 9.1M715.3 232.8l3.5 10.0M717.8 231.6l4.6 8.0M719.5 231.2l4.4 8.6M724.1 229.4l2.8 7.4M727.3 228.5l4.2 8.3M729.8 226.6l3.4 7.6M733.1 226.2l4.3 8.5M736.1 223.3l3.1 8.2M739.4 223.1l2.2 7.7M740.7 219.7l2.6 9.5M744.4 218.1l2.0 8.3M748.9 214.3l3.4 9.4M751.2 213.2l2.2 7.9M754.7 210.4l1.8 9.2M759.7 206.8l3.6 8.1M761.7 204.7l2.7 8.7M718.0 245.8l3.4 8.9M720.3 244.0l2.6 10.0M723.1 242.9l3.5 7.1M726.3 239.9l2.2 9.3M728.1 238.4l2.9 7.7M730.8 234.9l2.2 10.0M733.8 233.6l2.4 9.1M736.6 232.1l1.9 9.8M739.2 228.8l3.3 10.2M740.0 228.6l4.8 8.3M743.9 225.7l2.7 9.7M746.3 223.8l3.0 8.2M748.9 222.7l2.8 8.2M751.2 220.3l4.6 8.7M752.8 218.4l4.0 8.0M756.6 217.3l5.5 9.3M732.8 239.0l3.5 7.7M734.9 238.1l3.8 7.3M737.0 235.0l5.4 9.3M741.3 234.6l5.5 7.2M743.2 234.5l6.4 6.3M746.3 232.0l5.9 8.7M749.6 231.2l5.3 7.7M753.0 228.8l4.5 9.0M756.0 230.2l5.0 6.3M758.5 229.4l5.5 6.5M761.5 153.8l2.3 8.7M766.1 153.2l0.1 8.7M768.3 151.6l0.3 8.9M772.0 150.2l-0.7 10.7M774.4 150.0l0.5 9.4M778.5 149.4l0.4 8.1M781.8 147.8l0.0 9.4M786.5 146.8l-2.5 9.1M788.7 145.5l-0.6 9.0M791.8 144.4l-1.2 8.7M793.4 143.1l1.2 9.5M798.0 142.6l-0.4 8.6M802.5 140.2l-0.1 10.5M805.9 140.3l0.2 10.4M812.2 139.9l0.9 9.4M816.6 139.7l0.1 8.5M819.6 138.6l-0.0 10.8M825.6 139.5l1.3 8.9M828.0 140.2l0.5 8.7M831.4 139.4l0.8 10.8M763.6 164.5l0.8 8.9M768.2 163.0l-1.3 10.6M771.0 161.7l-1.1 10.8M773.8 162.2l-0.5 8.5M776.4 161.6l0.3 8.8M781.1 159.1l-1.8 10.2M782.3 158.8l1.6 10.1M787.0 159.2l-0.0 9.1M789.4 157.5l1.1 10.6M792.4 159.6l0.4 8.3M796.2 158.5l0.5 9.5M798.4 156.9l2.0 10.6M801.6 157.5l1.4 10.7M805.6 157.4l0.7 10.6M807.8 158.6l2.5 9.2M811.1 159.2l2.9 9.1M815.3 159.5l1.9 10.0M818.1 160.0l1.7 8.1M821.2 160.4l3.6 8.6M823.1 160.1l3.3 9.4M827.3 162.4l3.1 7.7M830.3 161.2l2.5 8.5M837.0 162.0l1.1 8.1M840.2 160.9l3.5 8.3M843.1 160.4l3.0 9.2M845.6 159.4l3.9 9.1M849.5 158.7l3.6 9.0M855.8 156.3l1.9 9.9M859.2 156.7l2.8 8.7M862.0 155.8l2.1 8.6M865.2 153.5l1.9 8.5M869.4 154.2l1.3 8.1M872.2 151.7l0.9 9.8M876.1 151.3l-0.6 8.1M877.5 149.6l2.6 10.2M881.6 148.1l0.2 8.4M885.2 147.7l0.1 10.7M887.2 148.4l1.4 8.1M890.9 146.7l0.3 8.5M895.5 146.3l-1.6 8.3M897.4 145.2l0.0 8.7M900.8 145.3l-0.1 10.5M904.2 145.9l-2.5 9.5M908.0 144.6l-1.0 10.0M911.6 145.8l-2.4 8.2M914.3 145.8l-1.2 9.7M917.5 145.9l-1.5 10.2M920.2 146.9l-1.8 9.9M924.3 146.0l-0.8 10.4M927.8 146.3l-1.1 9.3M762.7 170.6l2.6 9.2M766.7 170.8l0.4 9.0M770.3 171.4l0.5 9.1M772.9 169.9l-0.8 8.8M775.3 172.0l0.8 8.6M778.9 170.1l1.0 9.4M783.3 171.2l1.4 8.7M785.5 171.5l1.6 10.0M787.5 170.7l3.4 9.9M791.1 172.6l3.5 9.4M794.2 172.6l1.5 8.1M797.6 173.2l2.8 10.0M801.1 172.7l4.1 9.6M803.6 173.5l3.2 7.9M808.6 174.8l2.3 8.0M811.5 174.2l2.0 8.7M814.2 174.5l3.3 7.3M817.9 172.4l2.1 9.7M820.9 173.2l2.0 8.0M824.9 171.6l1.6 8.7M827.0 171.4l2.8 9.8M830.9 170.3l2.6 9.2M838.5 168.3l-0.6 9.6M840.0 168.9l1.5 8.8M843.0 166.9l2.9 10.1M847.2 166.4l0.3 9.5M849.7 164.4l0.7 8.9M852.3 163.3l1.3 8.7M855.8 162.1l0.6 10.4M866.0 158.9l-0.2 10.3M868.9 158.7l-1.2 9.8M871.8 157.7l-0.8 10.5M875.7 157.3l-0.5 9.4M879.2 157.0l-1.5 10.5M881.1 158.2l1.1 10.3M888.1 157.0l-1.3 10.6M890.4 156.8l-0.3 10.0M895.1 157.8l-0.7 9.3M897.5 158.5l-0.8 7.9M901.0 157.9l-1.6 9.0M904.8 159.6l-0.8 8.2M907.1 158.6l0.5 8.9M909.9 158.3l-0.1 10.8M912.6 159.0l3.0 9.2M915.0 159.5l3.3 9.4M918.4 158.6l3.3 8.9M920.9 158.6l3.6 9.5M925.2 158.8l3.2 8.4M764.4 194.3l1.6 8.6M767.1 194.3l2.2 9.2M770.4 194.4l2.5 8.6M772.1 194.2l6.1 8.7M777.8 196.0l1.1 7.9M779.8 196.5l3.3 7.2M783.2 194.5l2.1 9.5M785.3 195.7l2.9 9.3M790.0 195.7l2.2 9.7M793.1 195.3l2.8 9.4M796.9 194.6l1.8 9.0M800.6 195.5l0.3 9.3M803.3 194.2l2.1 9.6M807.3 192.0l-0.1 10.7M811.5 193.1l-1.1 8.1M813.2 192.5l1.5 8.1M817.2 189.4l-0.2 10.1M820.8 189.4l-0.6 9.2M825.2 185.4l0.6 10.6M829.4 185.7l-1.0 8.3M831.8 185.6l0.3 8.0M835.5 183.0l-0.7 8.0M837.9 182.4l0.3 8.8M844.9 179.8l-0.8 10.0M847.5 180.0l0.1 8.5M851.2 179.5l-0.9 9.7M854.5 178.3l-0.3 9.9M856.4 177.6l0.2 10.7M860.2 179.6l0.1 8.9M863.2 178.7l-0.7 9.1M866.3 178.7l-0.6 9.0M872.4 178.0l2.2 9.6M876.4 177.3l-0.5 10.8M877.0 180.6l2.9 7.5M881.4 179.1l2.1 9.9M885.5 179.4l0.6 9.5M888.3 179.3l0.3 9.0M891.7 179.3l1.7 9.0M894.1 180.6l2.4 7.9M897.6 179.5l2.0 10.1M901.6 180.1l2.5 8.3M904.8 179.5l1.5 9.1M909.8 178.4l3.0 8.1M913.0 176.8l3.7 8.1M919.1 174.6l2.3 10.5M920.8 173.3l4.3 8.8M925.3 173.0l3.0 9.7M762.8 209.2l1.5 10.4M766.6 211.6l1.0 8.6M769.7 209.5l1.1 10.7M772.2 210.0l2.8 10.2M775.3 209.9l1.7 8.9M780.0 209.4l0.5 8.6M783.4 208.8l-0.9 8.4M787.0 208.7l0.8 9.5M790.4 206.6l-0.2 8.7M793.6 206.2l-1.1 9.1M794.0 205.8l1.0 8.1M798.0 204.3l-0.8 9.7M801.2 201.6l0.9 9.6M804.8 200.9l-0.9 9.5M808.1 200.8l-1.2 8.0M811.3 198.8l-1.5 8.1M813.3 198.8l0.4 9.2M817.2 196.5l-0.5 8.5M820.2 195.1l-0.3 10.8M823.7 194.8l-1.5 9.2M826.9 195.4l-0.7 8.7M830.2 193.0l-1.1 10.1M831.9 194.4l0.0 7.9M836.1 193.9l0.7 8.3M839.4 191.9l-1.5 10.4M841.9 192.0l1.1 10.0M844.3 193.2l0.9 8.0M847.8 192.1l2.5 9.5M851.0 192.4l2.4 9.8M852.6 194.4l2.0 8.4M857.2 194.8l1.9 8.2M863.7 194.3l3.1 8.0M866.1 194.5l1.3 9.5M869.1 194.2l4.4 8.7M873.0 193.9l2.5 9.5M876.9 195.1l2.6 8.7M879.3 194.1l2.4 8.1M884.1 194.1l2.1 8.7M884.9 192.2l3.0 9.4M889.5 191.9l2.3 7.7M894.0 189.9l0.8 10.2M894.5 190.3l4.2 8.7M898.2 189.1l2.5 9.1M902.0 188.1l1.7 8.2M903.8 185.2l2.5 10.2M908.2 186.4l0.8 8.0M910.4 184.2l2.2 7.6M914.8 182.4l1.8 10.0M916.8 180.8l1.5 9.3M920.5 180.0l1.3 8.8M922.9 178.3l2.5 10.5M764.2 223.8l-0.9 10.7M767.7 225.3l-1.2 8.8M771.3 222.4l-1.1 10.1M772.9 222.5l-0.2 9.1M776.5 221.7l-0.7 8.2M779.1 219.8l-0.1 9.7M782.5 218.1l0.4 9.7M785.8 218.9l-0.6 8.5M788.7 215.8l0.1 10.1M793.7 215.2l-0.4 8.3M798.1 212.3l-0.9 9.8M801.1 213.0l-0.2 8.1M803.3 210.8l0.0 10.3M809.9 211.0l1.2 8.5M813.3 209.4l2.1 9.2M816.5 210.9l1.1 8.2M819.6 209.8l1.6 10.5M821.2 209.7l3.6 9.0M825.0 209.7l2.0 8.7M829.1 210.7l1.9 8.2M831.9 210.4l1.7 10.2M834.9 209.7l1.5 10.5M837.4 210.6l3.5 9.5M840.2 212.0l4.7 9.1M844.5 211.4l2.9 8.7M847.0 210.4l4.0 9.7M851.3 210.6l1.8 8.2M854.8 209.7l1.2 10.7M857.0 210.8l4.6 8.2M861.2 210.9l3.0 7.5M862.6 208.1l3.3 10.3M866.0 208.6l2.4 8.3M870.8 206.9l0.8 9.6M874.5 207.4l-0.2 8.6M877.3 205.1l0.9 9.6M880.1 205.5l0.7 7.9M882.0 203.0l2.5 9.5M885.5 201.6l1.5 10.1M888.9 201.3l1.8 7.7M897.0 198.7l-1.5 8.3M898.6 197.3l-0.2 7.9M901.6 196.5l1.1 8.7M904.7 195.2l0.4 8.2M907.1 193.8l-0.2 10.0M911.8 193.7l-0.7 8.0M913.1 193.7l1.3 8.4M918.0 193.1l-0.7 7.9M920.4 192.4l-0.2 9.2M925.6 192.1l-2.1 10.2M764.7 229.9l0.1 9.9M767.5 229.7l1.0 8.7M770.7 227.8l1.0 8.1M772.8 227.2l1.6 9.6M776.1 225.8l0.4 9.5M779.3 226.4l1.4 8.3M784.6 225.3l2.1 8.7M790.7 224.5l2.7 8.3M794.3 223.2l2.1 8.6M797.8 223.8l2.7 9.0M801.8 223.9l1.9 10.2M803.4 225.0l3.5 7.1M807.2 223.1l3.3 8.4M811.3 223.7l2.1 9.4M816.8 223.7l3.2 10.0M819.5 225.3l3.7 7.4M823.3 224.9l2.7 9.2M828.1 224.5l1.8 9.2M830.9 225.1l2.1 8.7M832.7 224.2l3.6 9.2M836.8 223.7l1.8 8.9M840.6 222.4l1.8 10.6M843.5 222.0l1.5 8.5M847.0 220.5l0.5 10.6M850.1 222.0l0.3 8.4M853.5 219.7l1.1 8.3M856.6 219.4l-0.5 8.5M858.5 217.8l1.2 8.7M861.7 216.7l1.6 9.0M864.7 214.2l2.6 9.9M867.7 213.8l1.0 8.2M869.6 212.5l2.2 10.2M875.0 210.1l-0.6 10.4M878.2 210.7l-1.5 8.4M881.6 209.3l-0.0 8.1M884.4 208.0l-1.3 9.4M888.3 206.6l-0.6 9.6M891.0 207.1l-0.6 8.6M893.4 206.2l-0.4 8.7M897.9 206.2l-0.9 9.2M899.6 206.1l-0.5 8.3M903.6 205.7l-0.5 8.8M906.0 205.5l0.0 9.5M910.1 205.3l-0.3 8.8M912.3 204.4l-0.1 10.5M918.9 205.9l0.6 10.3M922.3 207.4l1.0 8.1M925.6 207.2l1.0 9.4M765.6 241.0l4.7 7.1M769.8 240.3l3.5 8.6M774.5 241.0l2.1 8.5M776.6 240.6l2.9 9.2M780.6 239.7l2.6 10.4M783.4 242.0l2.6 7.6M786.9 241.0l1.8 8.4M790.0 241.8l3.8 7.6M792.8 239.8l3.6 10.1M796.0 240.9l2.2 10.5M801.1 241.1l0.4 9.0M802.8 243.1l3.0 7.6M805.5 242.1l2.9 8.0M809.5 240.4l3.0 10.4M813.7 240.2l0.5 9.2M816.1 239.6l2.0 9.3M818.8 239.6l3.4 10.1M821.8 238.5l1.3 10.6M826.0 238.2l1.3 9.0M832.3 235.6l0.7 10.3M836.9 235.6l-0.4 8.2M838.0 233.2l-0.4 9.7M840.9 233.1l0.2 8.9M844.2 231.2l-0.1 9.3M848.0 229.8l-1.9 10.2M851.5 229.3l-0.9 8.3M855.1 228.1l-2.8 8.0M856.9 226.0l-0.3 9.9M861.7 226.2l-1.8 9.3M864.4 226.4l-0.7 7.9M866.5 225.0l-0.9 9.4M869.5 224.2l0.6 9.5M873.3 223.5l-0.2 9.4M875.9 223.3l0.4 10.0M879.3 222.7l-0.4 10.5M882.3 222.3l0.1 8.6M885.3 223.6l1.4 7.8M888.0 223.5l1.7 9.3M890.8 223.2l1.5 10.6M896.0 223.8l0.8 9.4M896.3 223.2l3.7 10.1M900.9 223.8l1.8 10.6M904.2 224.6l2.1 10.2M908.1 225.5l1.8 8.3M910.9 225.5l2.5 10.4M912.7 224.4l4.0 9.6M916.4 225.2l3.7 7.9M919.9 224.8l2.5 8.9M922.2 224.7l3.6 8.3M926.5 223.2l2.5 10.0M869.5 241.4l1.2 9.3M873.2 240.5l1.7 9.9M874.8 240.8l3.5 10.2M877.2 241.6l3.3 10.2M881.1 243.6l2.8 8.2M885.3 243.5l2.4 7.6M889.4 241.0l2.9 10.1M894.5 243.4l2.9 8.0M900.0 241.9l3.6 8.4M904.0 240.5l2.9 10.1M907.2 240.0l3.9 9.4M910.7 239.9l2.9 8.6M914.3 239.4l1.0 9.7M916.1 238.1l3.3 7.9M920.1 238.2l2.0 8.5M924.9 235.8l0.8 9.0" fill="none" stroke="#2c3618" stroke-width="1.2" opacity="0.6"/>
<path d="M710.9 46.3A6.3 1.7 173 0 0 698.3 47.8A6.3 1.7 173 0 0 710.9 46.3ZM714.4 68.3A8.5 1.7 165 0 0 697.9 72.5A8.5 1.7 165 0 0 714.4 68.3ZM707.3 47.6A5.0 1.4 19 0 0 716.8 50.9A5.0 1.4 19 0 0 707.3 47.6ZM706.4 60.7A5.3 1.4 46 0 0 713.7 68.4A5.3 1.4 46 0 0 706.4 60.7ZM723.0 42.1A5.2 1.4 45 0 0 730.2 49.4A5.2 1.4 45 0 0 723.0 42.1ZM709.5 91.0A5.3 1.4 29 0 0 718.7 96.3A5.3 1.4 29 0 0 709.5 91.0ZM722.2 78.8A4.5 1.4 40 0 0 729.0 84.6A4.5 1.4 40 0 0 722.2 78.8ZM711.3 111.1A4.5 1.4 24 0 0 719.4 114.8A4.5 1.4 24 0 0 711.3 111.1ZM718.9 99.0A4.9 1.4 25 0 0 727.8 103.3A4.9 1.4 25 0 0 718.9 99.0ZM725.1 88.7A4.8 1.4 17 0 0 734.3 91.6A4.8 1.4 17 0 0 725.1 88.7ZM726.5 85.6A5.1 1.4 16 0 0 736.3 88.5A5.1 1.4 16 0 0 726.5 85.6ZM732.3 76.3A5.0 1.4 21 0 0 741.5 79.8A5.0 1.4 21 0 0 732.3 76.3ZM734.7 74.0A4.7 1.4 16 0 0 743.8 76.6A4.7 1.4 16 0 0 734.7 74.0ZM740.8 62.6A4.4 1.4 32 0 0 748.3 67.3A4.4 1.4 32 0 0 740.8 62.6ZM740.6 62.8A4.6 1.4 17 0 0 749.3 65.6A4.6 1.4 17 0 0 740.6 62.8ZM743.1 58.3A4.9 1.4 28 0 0 751.7 62.9A4.9 1.4 28 0 0 743.1 58.3ZM744.4 55.8A5.2 1.4 26 0 0 753.6 60.5A5.2 1.4 26 0 0 744.4 55.8ZM745.9 52.4A6.0 1.4 26 0 0 756.7 57.7A6.0 1.4 26 0 0 745.9 52.4ZM751.5 44.3A5.1 1.4 28 0 0 760.5 49.3A5.1 1.4 28 0 0 751.5 44.3ZM713.8 122.4A4.6 1.4 28 0 0 721.9 126.7A4.6 1.4 28 0 0 713.8 122.4ZM720.9 109.6A5.1 1.4 41 0 0 728.6 116.4A5.1 1.4 41 0 0 720.9 109.6ZM728.5 94.2A5.8 1.4 40 0 0 737.4 101.7A5.8 1.4 40 0 0 728.5 94.2ZM754.4 67.2A4.9 1.4 41 0 0 761.7 73.7A4.9 1.4 41 0 0 754.4 67.2ZM719.4 130.0A5.8 1.4 46 0 0 727.4 138.4A5.8 1.4 46 0 0 719.4 130.0ZM733.5 114.9A5.2 1.4 49 0 0 740.2 122.9A5.2 1.4 49 0 0 733.5 114.9ZM752.1 94.3A5.5 1.4 50 0 0 759.1 102.8A5.5 1.4 50 0 0 752.1 94.3ZM777.9 65.9A5.6 1.4 61 0 0 783.2 75.7A5.6 1.4 61 0 0 777.9 65.9ZM778.9 64.2A5.3 1.4 43 0 0 786.6 71.4A5.3 1.4 43 0 0 778.9 64.2ZM741.5 138.5A4.5 1.4 34 0 0 748.9 143.5A4.5 1.4 34 0 0 741.5 138.5ZM744.7 133.1A5.7 1.4 19 0 0 755.4 136.9A5.7 1.4 19 0 0 744.7 133.1ZM747.6 131.4A4.8 1.4 27 0 0 756.2 135.7A4.8 1.4 27 0 0 747.6 131.4ZM754.8 118.5A5.0 1.4 37 0 0 762.7 124.6A5.0 1.4 37 0 0 754.8 118.5ZM761.0 105.5A5.5 1.4 38 0 0 769.7 112.4A5.5 1.4 38 0 0 761.0 105.5ZM766.5 94.9A5.6 1.4 21 0 0 777.0 99.0A5.6 1.4 21 0 0 766.5 94.9ZM775.3 82.8A5.2 1.4 39 0 0 783.4 89.4A5.2 1.4 39 0 0 775.3 82.8ZM778.0 77.3A5.2 1.4 24 0 0 787.5 81.6A5.2 1.4 24 0 0 778.0 77.3ZM789.7 59.8A5.2 1.4 33 0 0 798.3 65.5A5.2 1.4 33 0 0 789.7 59.8ZM792.1 57.2A4.8 1.4 29 0 0 800.4 62.0A4.8 1.4 29 0 0 792.1 57.2ZM800.1 44.5A5.5 1.4 39 0 0 808.5 51.5A5.5 1.4 39 0 0 800.1 44.5ZM757.6 137.6A5.2 1.4 12 0 0 767.7 139.8A5.2 1.4 12 0 0 757.6 137.6ZM768.9 118.2A4.8 1.4 13 0 0 778.2 120.3A4.8 1.4 13 0 0 768.9 118.2ZM769.7 113.7A5.9 1.4 17 0 0 780.9 117.3A5.9 1.4 17 0 0 769.7 113.7ZM776.0 106.4A4.7 1.4 18 0 0 784.8 109.3A4.7 1.4 18 0 0 776.0 106.4ZM779.8 98.6A5.4 1.4 26 0 0 789.4 103.3A5.4 1.4 26 0 0 779.8 98.6ZM793.0 83.4A5.7 1.4 26 0 0 803.2 88.6A5.7 1.4 26 0 0 793.0 83.4ZM774.4 127.8A5.2 1.4 27 0 0 783.6 132.6A5.2 1.4 27 0 0 774.4 127.8ZM783.0 116.2A5.9 1.4 39 0 0 792.1 123.8A5.9 1.4 39 0 0 783.0 116.2ZM799.7 97.7A5.4 1.4 48 0 0 806.9 105.8A5.4 1.4 48 0 0 799.7 97.7ZM791.4 139.9A6.1 1.4 45 0 0 799.9 148.5A6.1 1.4 45 0 0 791.4 139.9ZM795.3 134.6A4.8 1.4 45 0 0 802.0 141.5A4.8 1.4 45 0 0 795.3 134.6ZM801.7 122.5A5.1 1.4 41 0 0 809.4 129.3A5.1 1.4 41 0 0 801.7 122.5ZM927.1 61.3A7.2 1.5 159 0 0 913.6 66.3A7.2 1.5 159 0 0 927.1 61.3ZM929.2 81.8A6.1 1.5 178 0 0 917.1 82.2A6.1 1.5 178 0 0 929.2 81.8ZM930.9 113.2A6.2 1.5 200 0 0 919.3 108.9A6.2 1.5 200 0 0 930.9 113.2ZM928.2 124.0A5.9 1.5 203 0 0 917.3 119.3A5.9 1.5 203 0 0 928.2 124.0ZM928.6 130.4A6.5 1.5 199 0 0 916.3 126.2A6.5 1.5 199 0 0 928.6 130.4ZM929.1 136.8A7.6 1.5 192 0 0 914.3 133.5A7.6 1.5 192 0 0 929.1 136.8ZM926.9 142.4A6.3 1.5 208 0 0 915.9 136.3A6.3 1.5 208 0 0 926.9 142.4ZM906.1 50.7A6.1 1.5 175 0 0 893.9 51.8A6.1 1.5 175 0 0 906.1 50.7ZM906.8 64.7A6.4 1.5 169 0 0 894.3 67.0A6.4 1.5 169 0 0 906.8 64.7ZM912.5 114.8A7.2 1.5 197 0 0 898.8 110.5A7.2 1.5 197 0 0 912.5 114.8ZM912.9 117.0A7.4 1.5 190 0 0 898.3 114.2A7.4 1.5 190 0 0 912.9 117.0ZM908.7 140.2A6.4 1.5 197 0 0 896.5 136.3A6.4 1.5 197 0 0 908.7 140.2ZM886.4 45.9A6.1 1.5 178 0 0 874.3 46.1A6.1 1.5 178 0 0 886.4 45.9ZM887.7 52.9A8.1 1.5 171 0 0 871.8 55.3A8.1 1.5 171 0 0 887.7 52.9ZM886.5 55.8A6.3 1.5 161 0 0 874.6 59.7A6.3 1.5 161 0 0 886.5 55.8ZM888.0 68.8A6.6 1.5 180 0 0 874.7 68.6A6.6 1.5 180 0 0 888.0 68.8ZM890.3 84.0A7.1 1.5 192 0 0 876.4 80.9A7.1 1.5 192 0 0 890.3 84.0ZM892.3 88.0A7.3 1.5 183 0 0 877.7 87.2A7.3 1.5 183 0 0 892.3 88.0ZM890.8 120.7A6.2 1.5 195 0 0 878.9 117.3A6.2 1.5 195 0 0 890.8 120.7ZM867.9 60.5A6.9 1.5 176 0 0 854.2 61.3A6.9 1.5 176 0 0 867.9 60.5ZM871.9 75.1A7.5 1.5 178 0 0 856.9 75.6A7.5 1.5 178 0 0 871.9 75.1ZM873.0 97.5A7.6 1.5 186 0 0 857.9 95.7A7.6 1.5 186 0 0 873.0 97.5ZM872.2 113.6A6.5 1.5 199 0 0 859.8 109.2A6.5 1.5 199 0 0 872.2 113.6ZM872.7 116.3A6.1 1.5 195 0 0 860.8 113.1A6.1 1.5 195 0 0 872.7 116.3ZM871.4 138.4A8.1 1.5 197 0 0 856.0 133.7A8.1 1.5 197 0 0 871.4 138.4ZM866.3 142.5A5.9 1.5 203 0 0 855.5 137.8A5.9 1.5 203 0 0 866.3 142.5ZM867.9 146.5A7.5 1.5 204 0 0 854.2 140.4A7.5 1.5 204 0 0 867.9 146.5ZM848.8 51.3A7.1 1.5 174 0 0 834.7 52.6A7.1 1.5 174 0 0 848.8 51.3ZM851.0 76.5A7.1 1.5 175 0 0 836.8 77.7A7.1 1.5 175 0 0 851.0 76.5ZM852.5 80.9A7.8 1.5 183 0 0 836.9 80.0A7.8 1.5 183 0 0 852.5 80.9ZM853.6 106.3A6.4 1.5 186 0 0 840.9 104.8A6.4 1.5 186 0 0 853.6 106.3ZM835.0 82.8A7.9 1.5 193 0 0 819.6 79.0A7.9 1.5 193 0 0 835.0 82.8ZM835.0 94.0A7.2 1.5 196 0 0 821.1 89.9A7.2 1.5 196 0 0 835.0 94.0ZM833.9 111.6A6.0 1.5 201 0 0 822.7 107.2A6.0 1.5 201 0 0 833.9 111.6ZM831.7 140.3A6.4 1.5 200 0 0 819.7 135.9A6.4 1.5 200 0 0 831.7 140.3ZM812.5 55.3A7.9 1.5 177 0 0 796.8 55.9A7.9 1.5 177 0 0 812.5 55.3ZM811.9 57.5A6.2 1.5 175 0 0 799.5 58.4A6.2 1.5 175 0 0 811.9 57.5ZM815.6 90.9A6.2 1.5 185 0 0 803.3 89.7A6.2 1.5 185 0 0 815.6 90.9ZM704.6 165.5A5.2 1.3 55 0 0 710.5 174.1A5.2 1.3 55 0 0 704.6 165.5ZM717.1 160.7A5.1 1.3 59 0 0 722.2 169.5A5.1 1.3 59 0 0 717.1 160.7ZM729.8 157.5A5.2 1.3 62 0 0 734.7 166.8A5.2 1.3 62 0 0 729.8 157.5ZM740.5 150.7A5.3 1.3 64 0 0 745.0 160.3A5.3 1.3 64 0 0 740.5 150.7ZM694.9 183.8A5.7 1.3 62 0 0 700.2 194.0A5.7 1.3 62 0 0 694.9 183.8ZM716.2 175.3A5.4 1.3 61 0 0 721.2 184.8A5.4 1.3 61 0 0 716.2 175.3ZM718.2 172.6A5.8 1.3 71 0 0 721.9 183.5A5.8 1.3 71 0 0 718.2 172.6ZM725.0 169.8A5.5 1.3 75 0 0 727.8 180.6A5.5 1.3 75 0 0 725.0 169.8ZM729.9 166.8A4.5 1.3 72 0 0 732.5 175.3A4.5 1.3 72 0 0 729.9 166.8ZM734.8 162.8A4.3 1.3 63 0 0 738.7 170.5A4.3 1.3 63 0 0 734.8 162.8ZM743.6 153.6A5.4 1.3 63 0 0 748.3 163.3A5.4 1.3 63 0 0 743.6 153.6ZM761.6 143.1A5.2 1.3 81 0 0 763.2 153.4A5.2 1.3 81 0 0 761.6 143.1ZM697.7 201.1A5.0 1.3 83 0 0 698.9 211.0A5.0 1.3 83 0 0 697.7 201.1ZM701.2 197.5A5.7 1.3 70 0 0 705.1 208.3A5.7 1.3 70 0 0 701.2 197.5ZM704.2 195.1A5.1 1.3 72 0 0 707.3 204.9A5.1 1.3 72 0 0 704.2 195.1ZM729.2 176.9A5.1 1.3 65 0 0 733.5 186.1A5.1 1.3 65 0 0 729.2 176.9ZM736.6 173.0A4.4 1.3 78 0 0 738.3 181.6A4.4 1.3 78 0 0 736.6 173.0ZM752.2 164.8A4.6 1.3 61 0 0 756.5 172.9A4.6 1.3 61 0 0 752.2 164.8ZM759.6 161.2A5.7 1.3 77 0 0 762.0 172.3A5.7 1.3 77 0 0 759.6 161.2ZM696.3 208.6A5.2 1.3 62 0 0 701.2 217.8A5.2 1.3 62 0 0 696.3 208.6ZM708.8 199.8A5.5 1.3 44 0 0 716.6 207.6A5.5 1.3 44 0 0 708.8 199.8ZM723.6 190.8A5.3 1.3 59 0 0 728.9 200.0A5.3 1.3 59 0 0 723.6 190.8ZM730.1 189.6A5.8 1.3 48 0 0 737.7 198.3A5.8 1.3 48 0 0 730.1 189.6ZM735.2 188.3A4.3 1.3 41 0 0 741.6 194.0A4.3 1.3 41 0 0 735.2 188.3ZM744.0 185.7A5.1 1.3 49 0 0 750.6 193.4A5.1 1.3 49 0 0 744.0 185.7ZM754.9 181.2A5.7 1.3 56 0 0 761.1 190.7A5.7 1.3 56 0 0 754.9 181.2ZM710.9 215.9A4.7 1.3 36 0 0 718.4 221.4A4.7 1.3 36 0 0 710.9 215.9ZM717.1 213.1A4.8 1.3 57 0 0 722.3 221.3A4.8 1.3 57 0 0 717.1 213.1ZM720.0 211.2A5.3 1.3 52 0 0 726.5 219.6A5.3 1.3 52 0 0 720.0 211.2ZM724.3 210.6A4.9 1.3 52 0 0 730.2 218.3A4.9 1.3 52 0 0 724.3 210.6ZM736.4 207.1A4.3 1.3 47 0 0 742.2 213.5A4.3 1.3 47 0 0 736.4 207.1ZM749.2 201.7A4.6 1.3 62 0 0 753.5 209.9A4.6 1.3 62 0 0 749.2 201.7ZM690.2 240.1A5.2 1.3 54 0 0 696.3 248.5A5.2 1.3 54 0 0 690.2 240.1ZM706.4 235.4A5.3 1.3 60 0 0 711.7 244.7A5.3 1.3 60 0 0 706.4 235.4ZM716.2 232.0A5.0 1.3 60 0 0 721.1 240.7A5.0 1.3 60 0 0 716.2 232.0ZM734.6 223.7A4.8 1.3 69 0 0 738.0 232.6A4.8 1.3 69 0 0 734.6 223.7ZM737.9 223.5A4.3 1.3 74 0 0 740.2 231.8A4.3 1.3 74 0 0 737.9 223.5ZM739.2 220.1A5.3 1.3 74 0 0 742.0 230.3A5.3 1.3 74 0 0 739.2 220.1ZM760.2 205.1A4.9 1.3 72 0 0 763.0 214.4A4.9 1.3 72 0 0 760.2 205.1ZM718.8 244.3A5.6 1.3 75 0 0 721.6 255.2A5.6 1.3 75 0 0 718.8 244.3ZM721.6 243.4A4.3 1.3 63 0 0 725.4 251.1A4.3 1.3 63 0 0 721.6 243.4ZM732.3 234.0A5.1 1.3 75 0 0 734.9 243.8A5.1 1.3 75 0 0 732.3 234.0ZM749.6 220.7A5.3 1.3 62 0 0 754.6 230.1A5.3 1.3 62 0 0 749.6 220.7ZM733.3 238.5A4.5 1.3 62 0 0 737.5 246.5A4.5 1.3 62 0 0 733.3 238.5ZM759.8 153.6A4.9 1.3 75 0 0 762.3 163.1A4.9 1.3 75 0 0 759.8 153.6ZM772.8 149.9A5.1 1.3 86 0 0 773.3 160.0A5.1 1.3 86 0 0 772.8 149.9ZM780.2 147.6A5.1 1.3 89 0 0 780.2 157.9A5.1 1.3 89 0 0 780.2 147.6ZM790.2 144.2A4.8 1.3 97 0 0 789.0 153.7A4.8 1.3 97 0 0 790.2 144.2ZM823.9 139.4A4.9 1.3 81 0 0 825.3 149.0A4.9 1.3 81 0 0 823.9 139.4ZM762.0 164.3A4.8 1.3 84 0 0 762.8 174.0A4.8 1.3 84 0 0 762.0 164.3ZM804.0 157.2A5.8 1.3 86 0 0 804.7 168.7A5.8 1.3 86 0 0 804.0 157.2ZM806.1 158.4A5.1 1.3 75 0 0 808.8 168.4A5.1 1.3 75 0 0 806.1 158.4ZM809.4 159.0A5.2 1.3 72 0 0 812.6 168.9A5.2 1.3 72 0 0 809.4 159.0ZM835.4 161.9A4.4 1.3 82 0 0 836.6 170.7A4.4 1.3 82 0 0 835.4 161.9ZM841.4 160.2A5.3 1.3 72 0 0 844.6 170.2A5.3 1.3 72 0 0 841.4 160.2ZM863.6 153.4A4.7 1.3 77 0 0 865.6 162.6A4.7 1.3 77 0 0 863.6 153.4ZM870.6 151.5A5.3 1.3 85 0 0 871.5 162.1A5.3 1.3 85 0 0 870.6 151.5ZM885.5 148.3A4.5 1.3 80 0 0 887.1 157.1A4.5 1.3 80 0 0 885.5 148.3ZM922.8 145.8A5.6 1.3 94 0 0 921.9 157.0A5.6 1.3 94 0 0 922.8 145.8ZM783.8 171.4A5.5 1.3 81 0 0 785.5 182.1A5.5 1.3 81 0 0 783.8 171.4ZM792.6 172.5A4.5 1.3 79 0 0 794.2 181.3A4.5 1.3 79 0 0 792.6 172.5ZM795.9 173.0A5.6 1.3 74 0 0 798.9 183.8A5.6 1.3 74 0 0 795.9 173.0ZM806.9 174.7A4.5 1.3 74 0 0 809.4 183.4A4.5 1.3 74 0 0 806.9 174.7ZM879.5 158.0A5.6 1.3 83 0 0 880.7 169.2A5.6 1.3 83 0 0 879.5 158.0ZM899.4 157.7A5.0 1.3 99 0 0 897.8 167.5A5.0 1.3 99 0 0 899.4 157.7ZM762.7 194.2A4.7 1.3 79 0 0 764.5 203.5A4.7 1.3 79 0 0 762.7 194.2ZM765.4 194.2A5.1 1.3 76 0 0 767.8 204.2A5.1 1.3 76 0 0 765.4 194.2ZM778.1 196.5A4.3 1.3 65 0 0 781.6 204.2A4.3 1.3 65 0 0 778.1 196.5ZM799.0 195.4A5.0 1.3 88 0 0 799.3 205.4A5.0 1.3 88 0 0 799.0 195.4ZM810.0 193.0A4.4 1.3 97 0 0 808.9 201.8A4.4 1.3 97 0 0 810.0 193.0ZM819.2 189.3A5.0 1.3 93 0 0 818.5 199.2A5.0 1.3 93 0 0 819.2 189.3ZM827.8 185.6A4.5 1.3 96 0 0 826.7 194.6A4.5 1.3 96 0 0 827.8 185.6ZM846.0 179.8A4.6 1.3 89 0 0 846.1 189.1A4.6 1.3 89 0 0 846.0 179.8ZM852.9 178.1A5.4 1.3 91 0 0 852.5 188.9A5.4 1.3 91 0 0 852.9 178.1ZM858.6 179.5A4.8 1.3 89 0 0 858.7 189.1A4.8 1.3 89 0 0 858.6 179.5ZM870.7 177.8A5.3 1.3 77 0 0 873.1 188.2A5.3 1.3 77 0 0 870.7 177.8ZM879.8 178.9A5.5 1.3 78 0 0 882.0 189.6A5.5 1.3 78 0 0 879.8 178.9ZM892.4 180.5A4.5 1.3 73 0 0 895.0 189.1A4.5 1.3 73 0 0 892.4 180.5ZM899.9 180.0A4.7 1.3 73 0 0 902.7 189.0A4.7 1.3 73 0 0 899.9 180.0ZM765.0 211.4A4.7 1.3 83 0 0 766.0 220.7A4.7 1.3 83 0 0 765.0 211.4ZM768.1 209.2A5.8 1.3 84 0 0 769.3 220.8A5.8 1.3 84 0 0 768.1 209.2ZM773.6 209.7A4.9 1.3 79 0 0 775.5 219.4A4.9 1.3 79 0 0 773.6 209.7ZM815.6 196.4A4.6 1.3 93 0 0 815.1 205.6A4.6 1.3 93 0 0 815.6 196.4ZM825.3 195.2A4.7 1.3 94 0 0 824.6 204.7A4.7 1.3 94 0 0 825.3 195.2ZM867.4 194.1A5.3 1.3 63 0 0 872.1 203.5A5.3 1.3 63 0 0 867.4 194.1ZM875.2 194.9A4.9 1.3 73 0 0 878.0 204.4A4.9 1.3 73 0 0 875.2 194.9ZM877.6 194.0A4.6 1.3 73 0 0 880.2 202.8A4.6 1.3 73 0 0 877.6 194.0ZM915.1 180.7A5.1 1.3 80 0 0 916.8 190.7A5.1 1.3 80 0 0 915.1 180.7ZM918.8 179.8A4.8 1.3 81 0 0 920.3 189.3A4.8 1.3 81 0 0 918.8 179.8ZM921.2 178.1A5.8 1.3 76 0 0 923.9 189.5A5.8 1.3 76 0 0 921.2 178.1ZM801.8 210.6A5.6 1.3 89 0 0 801.8 221.8A5.6 1.3 89 0 0 801.8 210.6ZM819.5 209.6A5.2 1.3 68 0 0 823.3 219.2A5.2 1.3 68 0 0 819.5 209.6ZM835.7 210.5A5.5 1.3 69 0 0 839.5 220.8A5.5 1.3 69 0 0 835.7 210.5ZM838.5 211.8A5.5 1.3 62 0 0 843.5 221.7A5.5 1.3 62 0 0 838.5 211.8ZM842.8 211.3A4.9 1.3 71 0 0 845.9 220.7A4.9 1.3 71 0 0 842.8 211.3ZM845.3 210.2A5.7 1.3 67 0 0 849.6 220.7A5.7 1.3 67 0 0 845.3 210.2ZM853.1 209.5A5.8 1.3 83 0 0 854.4 221.1A5.8 1.3 83 0 0 853.1 209.5ZM859.5 210.8A4.3 1.3 68 0 0 862.7 218.9A4.3 1.3 68 0 0 859.5 210.8ZM872.9 207.3A4.7 1.3 91 0 0 872.6 216.6A4.7 1.3 91 0 0 872.9 207.3ZM875.7 204.9A5.2 1.3 84 0 0 876.7 215.3A5.2 1.3 84 0 0 875.7 204.9ZM887.3 201.2A4.3 1.3 77 0 0 889.2 209.6A4.3 1.3 77 0 0 887.3 201.2ZM895.5 198.5A4.6 1.3 100 0 0 893.9 207.5A4.6 1.3 100 0 0 895.5 198.5ZM905.5 193.6A5.4 1.3 90 0 0 905.3 204.5A5.4 1.3 90 0 0 905.5 193.6ZM911.5 193.6A4.6 1.3 81 0 0 912.9 202.7A4.6 1.3 81 0 0 911.5 193.6ZM916.4 193.0A4.3 1.3 94 0 0 915.7 201.5A4.3 1.3 94 0 0 916.4 193.0ZM765.9 229.5A4.7 1.3 83 0 0 766.9 238.9A4.7 1.3 83 0 0 765.9 229.5ZM771.2 227.0A5.3 1.3 80 0 0 772.8 237.4A5.3 1.3 80 0 0 771.2 227.0ZM792.6 223.0A4.8 1.3 76 0 0 794.9 232.3A4.8 1.3 76 0 0 792.6 223.0ZM796.1 223.7A5.1 1.3 73 0 0 799.0 233.4A5.1 1.3 73 0 0 796.1 223.7ZM801.6 225.0A4.3 1.3 63 0 0 805.5 232.7A4.3 1.3 63 0 0 801.6 225.0ZM830.9 224.0A5.3 1.3 68 0 0 834.8 234.0A5.3 1.3 68 0 0 830.9 224.0ZM835.2 223.5A4.9 1.3 78 0 0 837.1 233.1A4.9 1.3 78 0 0 835.2 223.5ZM841.8 221.9A4.7 1.3 80 0 0 843.4 231.1A4.7 1.3 80 0 0 841.8 221.9ZM845.4 220.3A5.8 1.3 87 0 0 845.9 231.8A5.8 1.3 87 0 0 845.4 220.3ZM848.5 221.9A4.5 1.3 88 0 0 848.8 230.9A4.5 1.3 88 0 0 848.5 221.9ZM855.0 219.2A4.6 1.3 93 0 0 854.5 228.4A4.6 1.3 93 0 0 855.0 219.2ZM860.0 216.6A4.9 1.3 79 0 0 861.8 226.3A4.9 1.3 79 0 0 860.0 216.6ZM920.7 207.3A4.4 1.3 83 0 0 921.7 216.1A4.4 1.3 83 0 0 920.7 207.3ZM924.0 207.0A5.1 1.3 83 0 0 925.0 217.1A5.1 1.3 83 0 0 924.0 207.0ZM763.8 241.0A4.6 1.3 56 0 0 769.0 248.6A4.6 1.3 56 0 0 763.8 241.0ZM781.7 242.0A4.3 1.3 71 0 0 784.5 250.1A4.3 1.3 71 0 0 781.7 242.0ZM791.1 239.6A5.8 1.3 70 0 0 795.0 250.5A5.8 1.3 70 0 0 791.1 239.6ZM799.5 240.9A4.9 1.3 87 0 0 799.9 250.7A4.9 1.3 87 0 0 799.5 240.9ZM807.8 240.2A5.8 1.3 73 0 0 811.0 251.4A5.8 1.3 73 0 0 807.8 240.2ZM814.4 239.4A5.1 1.3 77 0 0 816.6 249.5A5.1 1.3 77 0 0 814.4 239.4ZM820.2 238.3A5.8 1.3 82 0 0 821.6 249.7A5.8 1.3 82 0 0 820.2 238.3ZM836.4 233.1A5.3 1.3 92 0 0 835.9 243.6A5.3 1.3 92 0 0 836.4 233.1ZM849.9 229.2A4.5 1.3 96 0 0 848.9 238.2A4.5 1.3 96 0 0 849.9 229.2ZM886.3 223.3A5.1 1.3 79 0 0 888.2 233.4A5.1 1.3 79 0 0 886.3 223.3ZM894.5 223.0A5.8 1.3 69 0 0 898.5 234.0A5.8 1.3 69 0 0 894.5 223.0ZM920.5 224.6A4.9 1.3 66 0 0 924.4 233.5A4.9 1.3 66 0 0 920.5 224.6ZM871.5 240.3A5.4 1.3 80 0 0 873.4 251.0A5.4 1.3 80 0 0 871.5 240.3ZM873.1 240.6A5.8 1.3 70 0 0 876.9 251.6A5.8 1.3 70 0 0 873.1 240.6ZM883.6 243.4A4.3 1.3 72 0 0 886.2 251.7A4.3 1.3 72 0 0 883.6 243.4ZM918.4 238.1A4.7 1.3 77 0 0 920.5 247.3A4.7 1.3 77 0 0 918.4 238.1Z" fill="#9ea24e" opacity="0.95"/>
<path d="M710.8 48.9A6.6 1.7 163 0 0 698.1 52.6A6.6 1.7 163 0 0 710.8 48.9ZM712.5 52.9A8.2 1.7 166 0 0 696.5 56.7A8.2 1.7 166 0 0 712.5 52.9ZM713.5 60.7A8.0 1.7 161 0 0 698.4 65.9A8.0 1.7 161 0 0 713.5 60.7ZM713.7 72.6A7.0 1.7 150 0 0 701.6 79.5A7.0 1.7 150 0 0 713.7 72.6ZM716.6 75.8A7.9 1.7 160 0 0 701.7 80.9A7.9 1.7 160 0 0 716.6 75.8ZM715.0 81.6A6.4 1.7 161 0 0 702.8 85.7A6.4 1.7 161 0 0 715.0 81.6ZM711.9 55.9A4.8 1.4 39 0 0 719.4 62.0A4.8 1.4 39 0 0 711.9 55.9ZM719.3 47.9A4.5 1.4 37 0 0 726.4 53.3A4.5 1.4 37 0 0 719.3 47.9ZM722.4 45.0A4.6 1.4 44 0 0 729.0 51.4A4.6 1.4 44 0 0 722.4 45.0ZM712.8 85.1A6.0 1.4 34 0 0 722.6 91.9A6.0 1.4 34 0 0 712.8 85.1ZM728.7 71.8A4.6 1.4 36 0 0 736.1 77.3A4.6 1.4 36 0 0 728.7 71.8ZM732.4 66.1A4.7 1.4 29 0 0 740.5 70.7A4.7 1.4 29 0 0 732.4 66.1ZM740.0 54.1A5.5 1.4 40 0 0 748.5 61.2A5.5 1.4 40 0 0 740.0 54.1ZM746.8 45.7A5.8 1.4 35 0 0 756.2 52.5A5.8 1.4 35 0 0 746.8 45.7ZM713.8 105.0A6.0 1.4 16 0 0 725.2 108.5A6.0 1.4 16 0 0 713.8 105.0ZM724.0 90.0A5.4 1.4 26 0 0 733.5 94.9A5.4 1.4 26 0 0 724.0 90.0ZM728.9 82.0A5.3 1.4 26 0 0 738.4 86.7A5.3 1.4 26 0 0 728.9 82.0ZM737.5 67.1A5.0 1.4 24 0 0 746.7 71.2A5.0 1.4 24 0 0 737.5 67.1ZM750.3 46.8A5.8 1.4 24 0 0 760.9 51.7A5.8 1.4 24 0 0 750.3 46.8ZM709.0 132.4A4.5 1.4 23 0 0 717.2 136.0A4.5 1.4 23 0 0 709.0 132.4ZM710.9 128.8A5.2 1.4 30 0 0 719.9 134.1A5.2 1.4 30 0 0 710.9 128.8ZM721.4 106.7A5.8 1.4 26 0 0 731.8 111.9A5.8 1.4 26 0 0 721.4 106.7ZM723.6 104.3A5.3 1.4 26 0 0 733.0 108.9A5.3 1.4 26 0 0 723.6 104.3ZM732.4 90.5A5.6 1.4 24 0 0 742.5 95.1A5.6 1.4 24 0 0 732.4 90.5ZM735.6 87.3A5.3 1.4 21 0 0 745.4 91.2A5.3 1.4 21 0 0 735.6 87.3ZM740.4 84.2A5.2 1.4 25 0 0 749.8 88.6A5.2 1.4 25 0 0 740.4 84.2ZM744.5 77.9A4.8 1.4 29 0 0 752.8 82.6A4.8 1.4 29 0 0 744.5 77.9ZM757.6 62.2A5.1 1.4 32 0 0 766.1 67.7A5.1 1.4 32 0 0 757.6 62.2ZM773.8 46.6A4.9 1.4 41 0 0 781.2 53.1A4.9 1.4 41 0 0 773.8 46.6ZM776.2 45.3A5.1 1.4 33 0 0 784.7 50.8A5.1 1.4 33 0 0 776.2 45.3ZM779.0 42.4A5.5 1.4 37 0 0 787.7 49.1A5.5 1.4 37 0 0 779.0 42.4ZM718.2 133.9A4.7 1.4 47 0 0 724.6 140.9A4.7 1.4 47 0 0 718.2 133.9ZM722.8 126.8A5.5 1.4 54 0 0 729.2 135.7A5.5 1.4 54 0 0 722.8 126.8ZM724.2 125.4A5.6 1.4 45 0 0 732.1 133.4A5.6 1.4 45 0 0 724.2 125.4ZM729.0 119.9A5.4 1.4 51 0 0 735.8 128.3A5.4 1.4 51 0 0 729.0 119.9ZM733.8 112.9A5.8 1.4 36 0 0 743.2 119.9A5.8 1.4 36 0 0 733.8 112.9ZM745.2 102.4A5.8 1.4 47 0 0 753.0 110.9A5.8 1.4 47 0 0 745.2 102.4ZM746.5 101.0A5.6 1.4 35 0 0 755.7 107.6A5.6 1.4 35 0 0 746.5 101.0ZM753.5 91.5A6.0 1.4 40 0 0 762.5 99.3A6.0 1.4 40 0 0 753.5 91.5ZM755.7 89.0A5.2 1.4 44 0 0 763.0 96.4A5.2 1.4 44 0 0 755.7 89.0ZM759.1 87.2A5.9 1.4 59 0 0 765.0 97.4A5.9 1.4 59 0 0 759.1 87.2ZM764.2 81.3A5.7 1.4 52 0 0 771.2 90.4A5.7 1.4 52 0 0 764.2 81.3ZM766.1 79.7A5.0 1.4 46 0 0 773.0 87.0A5.0 1.4 46 0 0 766.1 79.7ZM767.8 76.0A5.9 1.4 54 0 0 774.6 85.6A5.9 1.4 54 0 0 767.8 76.0ZM769.8 75.1A4.9 1.4 44 0 0 776.8 82.0A4.9 1.4 44 0 0 769.8 75.1ZM772.3 71.6A5.4 1.4 54 0 0 778.5 80.4A5.4 1.4 54 0 0 772.3 71.6ZM781.1 61.9A5.0 1.4 47 0 0 787.7 69.3A5.0 1.4 47 0 0 781.1 61.9ZM783.5 58.9A4.4 1.4 48 0 0 789.4 65.6A4.4 1.4 48 0 0 783.5 58.9ZM748.6 127.1A5.7 1.4 26 0 0 758.7 132.2A5.7 1.4 26 0 0 748.6 127.1ZM757.9 112.9A5.7 1.4 32 0 0 767.5 119.0A5.7 1.4 32 0 0 757.9 112.9ZM760.4 109.9A4.9 1.4 31 0 0 768.8 115.0A4.9 1.4 31 0 0 760.4 109.9ZM767.5 98.0A5.0 1.4 36 0 0 775.6 104.1A5.0 1.4 36 0 0 767.5 98.0ZM781.1 74.3A4.8 1.4 33 0 0 789.0 79.6A4.8 1.4 33 0 0 781.1 74.3ZM784.0 69.5A4.6 1.4 29 0 0 792.0 74.1A4.6 1.4 29 0 0 784.0 69.5ZM787.3 63.1A4.4 1.4 34 0 0 794.5 68.1A4.4 1.4 34 0 0 787.3 63.1ZM793.5 53.9A4.6 1.4 38 0 0 800.7 59.6A4.6 1.4 38 0 0 793.5 53.9ZM756.3 139.6A4.7 1.4 34 0 0 764.1 145.0A4.7 1.4 34 0 0 756.3 139.6ZM757.9 134.0A4.9 1.4 20 0 0 767.0 137.4A4.9 1.4 20 0 0 757.9 134.0ZM760.3 132.0A4.5 1.4 22 0 0 768.7 135.4A4.5 1.4 22 0 0 760.3 132.0ZM761.8 127.2A5.0 1.4 28 0 0 770.6 132.1A5.0 1.4 28 0 0 761.8 127.2ZM778.1 103.0A5.9 1.4 23 0 0 788.9 107.7A5.9 1.4 23 0 0 778.1 103.0ZM781.8 96.4A5.9 1.4 32 0 0 791.7 102.8A5.9 1.4 32 0 0 781.8 96.4ZM764.1 140.4A5.2 1.4 34 0 0 772.7 146.4A5.2 1.4 34 0 0 764.1 140.4ZM768.6 135.3A4.6 1.4 46 0 0 774.9 142.0A4.6 1.4 46 0 0 768.6 135.3ZM773.4 128.5A4.6 1.4 55 0 0 778.7 136.1A4.6 1.4 55 0 0 773.4 128.5ZM788.6 111.0A4.6 1.4 46 0 0 795.0 117.6A4.6 1.4 46 0 0 788.6 111.0ZM795.9 102.5A5.2 1.4 43 0 0 803.4 109.6A5.2 1.4 43 0 0 795.9 102.5ZM801.5 97.0A4.4 1.4 36 0 0 808.7 102.3A4.4 1.4 36 0 0 801.5 97.0ZM788.0 146.1A5.0 1.4 31 0 0 796.5 151.4A5.0 1.4 31 0 0 788.0 146.1ZM800.2 125.7A5.1 1.4 37 0 0 808.3 131.8A5.1 1.4 37 0 0 800.2 125.7ZM926.1 41.2A7.3 1.5 177 0 0 911.5 41.7A7.3 1.5 177 0 0 926.1 41.2ZM925.3 52.8A6.1 1.5 177 0 0 913.1 53.3A6.1 1.5 177 0 0 925.3 52.8ZM927.4 59.6A7.3 1.5 177 0 0 912.8 60.2A7.3 1.5 177 0 0 927.4 59.6ZM926.5 65.6A7.2 1.5 165 0 0 912.5 69.2A7.2 1.5 165 0 0 926.5 65.6ZM927.7 71.0A6.9 1.5 177 0 0 913.9 71.5A6.9 1.5 177 0 0 927.7 71.0ZM926.9 75.3A6.3 1.5 187 0 0 914.4 73.5A6.3 1.5 187 0 0 926.9 75.3ZM931.5 92.8A6.5 1.5 184 0 0 918.5 91.7A6.5 1.5 184 0 0 931.5 92.8ZM932.2 96.1A7.7 1.5 182 0 0 916.8 95.4A7.7 1.5 182 0 0 932.2 96.1ZM931.1 110.0A6.0 1.5 203 0 0 920.2 105.1A6.0 1.5 203 0 0 931.1 110.0ZM933.1 116.2A8.0 1.5 195 0 0 917.7 112.1A8.0 1.5 195 0 0 933.1 116.2ZM930.7 119.5A6.0 1.5 188 0 0 918.8 117.7A6.0 1.5 188 0 0 930.7 119.5ZM926.1 144.7A6.4 1.5 200 0 0 914.1 140.2A6.4 1.5 200 0 0 926.1 144.7ZM906.3 56.8A6.8 1.5 168 0 0 893.1 59.4A6.8 1.5 168 0 0 906.3 56.8ZM908.2 61.9A8.0 1.5 178 0 0 892.2 62.4A8.0 1.5 178 0 0 908.2 61.9ZM909.9 84.0A6.5 1.5 183 0 0 897.0 83.3A6.5 1.5 183 0 0 909.9 84.0ZM911.8 96.3A6.8 1.5 192 0 0 898.5 93.2A6.8 1.5 192 0 0 911.8 96.3ZM912.7 103.1A7.3 1.5 194 0 0 898.5 99.4A7.3 1.5 194 0 0 912.7 103.1ZM913.4 108.1A8.0 1.5 206 0 0 899.0 100.9A8.0 1.5 206 0 0 913.4 108.1ZM911.8 122.2A7.4 1.5 203 0 0 898.2 116.1A7.4 1.5 203 0 0 911.8 122.2ZM911.9 126.8A8.0 1.5 201 0 0 897.1 121.0A8.0 1.5 201 0 0 911.9 126.8ZM908.7 132.7A6.0 1.5 193 0 0 897.0 129.9A6.0 1.5 193 0 0 908.7 132.7ZM909.4 136.3A6.3 1.5 194 0 0 897.2 133.2A6.3 1.5 194 0 0 909.4 136.3ZM909.1 144.7A7.6 1.5 197 0 0 894.7 140.2A7.6 1.5 197 0 0 909.1 144.7ZM906.9 146.5A6.1 1.5 202 0 0 895.7 141.8A6.1 1.5 202 0 0 906.9 146.5ZM885.5 43.1A6.0 1.5 172 0 0 873.5 44.7A6.0 1.5 172 0 0 885.5 43.1ZM888.6 61.7A7.9 1.5 180 0 0 872.8 61.5A7.9 1.5 180 0 0 888.6 61.7ZM892.3 96.4A6.3 1.5 201 0 0 880.6 91.8A6.3 1.5 201 0 0 892.3 96.4ZM890.8 103.2A6.0 1.5 194 0 0 879.1 100.2A6.0 1.5 194 0 0 890.8 103.2ZM891.3 105.6A6.0 1.5 194 0 0 879.6 102.5A6.0 1.5 194 0 0 891.3 105.6ZM893.3 111.7A7.8 1.5 194 0 0 878.3 107.8A7.8 1.5 194 0 0 893.3 111.7ZM891.9 117.2A6.5 1.5 195 0 0 879.5 113.7A6.5 1.5 195 0 0 891.9 117.2ZM891.3 124.0A6.3 1.5 192 0 0 879.1 121.2A6.3 1.5 192 0 0 891.3 124.0ZM888.7 138.7A6.2 1.5 198 0 0 877.0 134.8A6.2 1.5 198 0 0 888.7 138.7ZM888.5 141.8A6.5 1.5 190 0 0 875.8 139.5A6.5 1.5 190 0 0 888.5 141.8ZM888.5 145.3A8.0 1.5 188 0 0 872.7 143.0A8.0 1.5 188 0 0 888.5 145.3ZM888.3 150.1A7.4 1.5 194 0 0 873.8 146.4A7.4 1.5 194 0 0 888.3 150.1ZM868.2 41.3A7.8 1.5 168 0 0 853.1 44.5A7.8 1.5 168 0 0 868.2 41.3ZM868.0 47.7A7.2 1.5 182 0 0 853.7 47.0A7.2 1.5 182 0 0 868.0 47.7ZM869.0 49.7A7.8 1.5 176 0 0 853.5 50.6A7.8 1.5 176 0 0 869.0 49.7ZM871.1 83.3A6.8 1.5 188 0 0 857.7 81.5A6.8 1.5 188 0 0 871.1 83.3ZM873.0 119.2A7.2 1.5 188 0 0 858.7 116.9A7.2 1.5 188 0 0 873.0 119.2ZM871.6 123.4A6.0 1.5 197 0 0 860.2 119.7A6.0 1.5 197 0 0 871.6 123.4ZM870.7 128.3A5.9 1.5 202 0 0 859.7 123.8A5.9 1.5 202 0 0 870.7 128.3ZM871.0 130.5A6.1 1.5 189 0 0 859.0 128.5A6.1 1.5 189 0 0 871.0 130.5ZM869.3 135.4A6.5 1.5 200 0 0 857.2 130.8A6.5 1.5 200 0 0 869.3 135.4ZM849.9 69.6A7.5 1.5 177 0 0 834.9 70.4A7.5 1.5 177 0 0 849.9 69.6ZM852.7 85.2A7.8 1.5 186 0 0 837.2 83.5A7.8 1.5 186 0 0 852.7 85.2ZM853.8 89.3A7.4 1.5 188 0 0 839.2 87.1A7.4 1.5 188 0 0 853.8 89.3ZM854.4 96.2A7.8 1.5 191 0 0 839.1 93.0A7.8 1.5 191 0 0 854.4 96.2ZM853.3 101.6A6.5 1.5 200 0 0 841.1 97.1A6.5 1.5 200 0 0 853.3 101.6ZM852.5 117.5A6.4 1.5 190 0 0 839.9 115.2A6.4 1.5 190 0 0 852.5 117.5ZM852.9 125.9A7.9 1.5 194 0 0 837.7 122.0A7.9 1.5 194 0 0 852.9 125.9ZM853.2 129.2A8.1 1.5 195 0 0 837.6 125.0A8.1 1.5 195 0 0 853.2 129.2ZM851.5 133.0A7.5 1.5 191 0 0 836.7 130.0A7.5 1.5 191 0 0 851.5 133.0ZM848.2 143.0A6.0 1.5 191 0 0 836.3 140.7A6.0 1.5 191 0 0 848.2 143.0ZM830.2 43.7A7.0 1.5 171 0 0 816.2 45.8A7.0 1.5 171 0 0 830.2 43.7ZM830.6 70.2A6.2 1.5 178 0 0 818.2 70.5A6.2 1.5 178 0 0 830.6 70.2ZM833.7 83.2A7.4 1.5 180 0 0 819.0 83.1A7.4 1.5 180 0 0 833.7 83.2ZM834.3 115.3A6.0 1.5 200 0 0 823.2 111.0A6.0 1.5 200 0 0 834.3 115.3ZM834.1 122.5A6.3 1.5 205 0 0 822.8 117.1A6.3 1.5 205 0 0 834.1 122.5ZM833.8 126.1A6.9 1.5 203 0 0 821.2 120.7A6.9 1.5 203 0 0 833.8 126.1ZM832.0 143.8A7.7 1.5 194 0 0 817.2 139.9A7.7 1.5 194 0 0 832.0 143.8ZM828.7 146.3A6.1 1.5 192 0 0 816.9 143.7A6.1 1.5 192 0 0 828.7 146.3ZM812.9 49.7A7.4 1.5 178 0 0 798.1 50.1A7.4 1.5 178 0 0 812.9 49.7ZM813.1 61.9A7.5 1.5 181 0 0 798.1 61.4A7.5 1.5 181 0 0 813.1 61.9ZM812.3 64.7A6.3 1.5 175 0 0 799.7 65.6A6.3 1.5 175 0 0 812.3 64.7ZM813.2 69.4A7.3 1.5 183 0 0 798.7 68.5A7.3 1.5 183 0 0 813.2 69.4ZM814.5 84.6A6.5 1.5 190 0 0 801.7 82.1A6.5 1.5 190 0 0 814.5 84.6ZM815.5 88.2A5.9 1.5 183 0 0 803.7 87.4A5.9 1.5 183 0 0 815.5 88.2ZM815.9 122.2A6.4 1.5 206 0 0 804.5 116.6A6.4 1.5 206 0 0 815.9 122.2ZM814.1 136.1A6.2 1.5 199 0 0 802.3 131.8A6.2 1.5 199 0 0 814.1 136.1ZM814.5 139.5A6.9 1.5 190 0 0 801.0 136.9A6.9 1.5 190 0 0 814.5 139.5ZM812.9 145.3A7.3 1.5 184 0 0 798.4 144.1A7.3 1.5 184 0 0 812.9 145.3ZM691.6 148.1A5.5 1.3 72 0 0 695.0 158.5A5.5 1.3 72 0 0 691.6 148.1ZM693.2 147.4A4.4 1.3 57 0 0 698.0 154.7A4.4 1.3 57 0 0 693.2 147.4ZM696.1 145.7A5.0 1.3 67 0 0 700.0 154.8A5.0 1.3 67 0 0 696.1 145.7ZM702.9 142.1A5.4 1.3 52 0 0 709.5 150.7A5.4 1.3 52 0 0 702.9 142.1ZM695.1 169.7A4.6 1.3 53 0 0 700.6 177.1A4.6 1.3 53 0 0 695.1 169.7ZM706.4 164.6A5.5 1.3 48 0 0 713.7 172.8A5.5 1.3 48 0 0 706.4 164.6ZM708.9 163.8A5.4 1.3 47 0 0 716.2 171.7A5.4 1.3 47 0 0 708.9 163.8ZM726.1 158.7A4.6 1.3 64 0 0 730.1 167.0A4.6 1.3 64 0 0 726.1 158.7ZM730.7 155.6A5.3 1.3 42 0 0 738.6 162.8A5.3 1.3 42 0 0 730.7 155.6ZM736.8 152.4A5.2 1.3 57 0 0 742.4 161.2A5.2 1.3 57 0 0 736.8 152.4ZM704.2 181.3A4.8 1.3 66 0 0 708.0 190.1A4.8 1.3 66 0 0 704.2 181.3ZM710.3 178.0A5.1 1.3 64 0 0 714.7 187.2A5.1 1.3 64 0 0 710.3 178.0ZM727.0 167.8A5.2 1.3 72 0 0 730.1 177.7A5.2 1.3 72 0 0 727.0 167.8ZM736.5 159.5A5.4 1.3 66 0 0 740.8 169.3A5.4 1.3 66 0 0 736.5 159.5ZM743.6 156.5A4.5 1.3 76 0 0 745.8 165.3A4.5 1.3 76 0 0 743.6 156.5ZM747.9 152.1A4.7 1.3 78 0 0 749.7 161.3A4.7 1.3 78 0 0 747.9 152.1ZM753.0 146.9A4.9 1.3 76 0 0 755.3 156.5A4.9 1.3 76 0 0 753.0 146.9ZM755.8 145.7A5.9 1.3 72 0 0 759.3 156.9A5.9 1.3 72 0 0 755.8 145.7ZM710.5 192.0A4.6 1.3 83 0 0 711.5 201.1A4.6 1.3 83 0 0 710.5 192.0ZM723.7 180.0A5.1 1.3 68 0 0 727.4 189.5A5.1 1.3 68 0 0 723.7 180.0ZM733.1 174.1A5.3 1.3 74 0 0 736.0 184.3A5.3 1.3 74 0 0 733.1 174.1ZM737.9 172.3A4.4 1.3 60 0 0 742.3 180.0A4.4 1.3 60 0 0 737.9 172.3ZM740.7 169.7A5.3 1.3 71 0 0 744.0 179.7A5.3 1.3 71 0 0 740.7 169.7ZM694.4 210.3A5.6 1.3 58 0 0 700.3 219.9A5.6 1.3 58 0 0 694.4 210.3ZM700.3 207.3A4.3 1.3 58 0 0 704.8 214.8A4.3 1.3 58 0 0 700.3 207.3ZM702.4 204.0A5.5 1.3 64 0 0 707.2 214.0A5.5 1.3 64 0 0 702.4 204.0ZM707.3 200.1A5.2 1.3 63 0 0 712.0 209.4A5.2 1.3 63 0 0 707.3 200.1ZM715.0 196.1A5.5 1.3 54 0 0 721.4 205.0A5.5 1.3 54 0 0 715.0 196.1ZM718.2 194.5A5.1 1.3 56 0 0 723.8 203.0A5.1 1.3 56 0 0 718.2 194.5ZM721.5 193.7A4.4 1.3 54 0 0 726.6 200.9A4.4 1.3 54 0 0 721.5 193.7ZM733.1 189.3A5.5 1.3 54 0 0 739.5 198.2A5.5 1.3 54 0 0 733.1 189.3ZM748.2 184.7A5.2 1.3 48 0 0 755.1 192.4A5.2 1.3 48 0 0 748.2 184.7ZM758.3 182.7A4.3 1.3 49 0 0 764.0 189.2A4.3 1.3 49 0 0 758.3 182.7ZM692.6 220.6A5.7 1.3 47 0 0 700.2 229.0A5.7 1.3 47 0 0 692.6 220.6ZM694.2 221.7A5.8 1.3 37 0 0 703.5 228.7A5.8 1.3 37 0 0 694.2 221.7ZM700.1 219.1A4.3 1.3 56 0 0 704.8 226.3A4.3 1.3 56 0 0 700.1 219.1ZM707.1 214.5A4.8 1.3 47 0 0 713.7 221.6A4.8 1.3 47 0 0 707.1 214.5ZM714.3 212.6A5.3 1.3 57 0 0 720.0 221.5A5.3 1.3 57 0 0 714.3 212.6ZM730.2 207.8A4.9 1.3 54 0 0 736.0 215.9A4.9 1.3 54 0 0 730.2 207.8ZM733.8 206.7A5.6 1.3 62 0 0 738.9 216.6A5.6 1.3 62 0 0 733.8 206.7ZM740.8 205.2A4.6 1.3 66 0 0 744.5 213.6A4.6 1.3 66 0 0 740.8 205.2ZM755.2 197.6A5.7 1.3 68 0 0 759.3 208.2A5.7 1.3 68 0 0 755.2 197.6ZM761.0 195.5A4.6 1.3 65 0 0 764.9 203.9A4.6 1.3 65 0 0 761.0 195.5ZM696.7 237.9A4.3 1.3 48 0 0 702.5 244.4A4.3 1.3 48 0 0 696.7 237.9ZM703.7 236.4A4.6 1.3 58 0 0 708.5 244.4A4.6 1.3 58 0 0 703.7 236.4ZM710.3 234.7A5.4 1.3 64 0 0 715.0 244.5A5.4 1.3 64 0 0 710.3 234.7ZM713.8 233.2A5.7 1.3 70 0 0 717.6 244.0A5.7 1.3 70 0 0 713.8 233.2ZM717.9 231.6A5.2 1.3 62 0 0 722.7 241.0A5.2 1.3 62 0 0 717.9 231.6ZM749.7 213.7A4.4 1.3 74 0 0 752.1 222.2A4.4 1.3 74 0 0 749.7 213.7ZM753.3 210.8A5.1 1.3 79 0 0 755.2 220.8A5.1 1.3 79 0 0 753.3 210.8ZM724.8 240.3A5.2 1.3 76 0 0 727.2 250.3A5.2 1.3 76 0 0 724.8 240.3ZM735.1 232.5A5.4 1.3 79 0 0 737.1 243.0A5.4 1.3 79 0 0 735.1 232.5ZM742.4 226.0A5.5 1.3 74 0 0 745.4 236.5A5.5 1.3 74 0 0 742.4 226.0ZM744.8 224.3A4.7 1.3 70 0 0 748.0 233.2A4.7 1.3 70 0 0 744.8 224.3ZM751.2 218.9A4.9 1.3 63 0 0 755.6 227.6A4.9 1.3 63 0 0 751.2 218.9ZM754.9 217.7A5.8 1.3 59 0 0 760.9 227.7A5.8 1.3 59 0 0 754.9 217.7ZM748.0 231.7A5.0 1.3 55 0 0 753.7 240.0A5.0 1.3 55 0 0 748.0 231.7ZM764.5 153.0A4.7 1.3 89 0 0 764.6 162.4A4.7 1.3 89 0 0 764.5 153.0ZM770.4 149.9A5.8 1.3 93 0 0 769.6 161.6A5.8 1.3 93 0 0 770.4 149.9ZM776.9 149.3A4.4 1.3 86 0 0 777.3 158.1A4.4 1.3 86 0 0 776.9 149.3ZM787.1 145.4A4.9 1.3 94 0 0 786.4 155.1A4.9 1.3 94 0 0 787.1 145.4ZM791.7 143.0A5.2 1.3 82 0 0 793.0 153.2A5.2 1.3 82 0 0 791.7 143.0ZM815.0 139.6A4.6 1.3 89 0 0 815.1 148.8A4.6 1.3 89 0 0 815.0 139.6ZM818.0 138.3A5.8 1.3 90 0 0 818.0 150.0A5.8 1.3 90 0 0 818.0 138.3ZM829.8 139.2A5.8 1.3 85 0 0 830.6 150.9A5.8 1.3 85 0 0 829.8 139.2ZM766.7 162.8A5.8 1.3 96 0 0 765.4 174.3A5.8 1.3 96 0 0 766.7 162.8ZM769.4 161.5A5.9 1.3 95 0 0 768.3 173.2A5.9 1.3 95 0 0 769.4 161.5ZM774.8 161.5A4.8 1.3 88 0 0 775.1 171.0A4.8 1.3 88 0 0 774.8 161.5ZM785.4 159.0A4.9 1.3 90 0 0 785.4 168.8A4.9 1.3 90 0 0 785.4 159.0ZM787.7 157.2A5.8 1.3 83 0 0 788.9 168.7A5.8 1.3 83 0 0 787.7 157.2ZM790.8 159.5A4.5 1.3 87 0 0 791.2 168.5A4.5 1.3 87 0 0 790.8 159.5ZM794.6 158.4A5.2 1.3 87 0 0 795.1 168.6A5.2 1.3 87 0 0 794.6 158.4ZM828.7 161.1A4.8 1.3 73 0 0 831.3 170.3A4.8 1.3 73 0 0 828.7 161.1ZM838.4 160.8A4.9 1.3 67 0 0 842.2 169.8A4.9 1.3 67 0 0 838.4 160.8ZM847.8 158.5A5.3 1.3 68 0 0 851.6 168.3A5.3 1.3 68 0 0 847.8 158.5ZM860.3 155.7A4.8 1.3 76 0 0 862.5 165.0A4.8 1.3 76 0 0 860.3 155.7ZM874.6 151.2A4.4 1.3 94 0 0 873.9 159.9A4.4 1.3 94 0 0 874.6 151.2ZM883.6 147.4A5.8 1.3 89 0 0 883.7 159.0A5.8 1.3 89 0 0 883.6 147.4ZM894.0 146.2A4.6 1.3 101 0 0 892.3 155.1A4.6 1.3 101 0 0 894.0 146.2ZM895.9 145.1A4.7 1.3 89 0 0 895.9 154.6A4.7 1.3 89 0 0 895.9 145.1ZM899.2 145.1A5.7 1.3 90 0 0 899.2 156.4A5.7 1.3 90 0 0 899.2 145.1ZM910.1 145.6A4.6 1.3 106 0 0 907.4 154.5A4.6 1.3 106 0 0 910.1 145.6ZM912.8 145.7A5.3 1.3 96 0 0 911.6 156.2A5.3 1.3 96 0 0 912.8 145.7ZM773.7 171.8A4.7 1.3 84 0 0 774.5 181.2A4.7 1.3 84 0 0 773.7 171.8ZM777.3 169.9A5.1 1.3 83 0 0 778.4 180.1A5.1 1.3 83 0 0 777.3 169.9ZM781.6 171.1A4.8 1.3 81 0 0 783.1 180.5A4.8 1.3 81 0 0 781.6 171.1ZM789.4 172.4A5.4 1.3 69 0 0 793.2 182.6A5.4 1.3 69 0 0 789.4 172.4ZM812.5 174.4A4.4 1.3 65 0 0 816.1 182.3A4.4 1.3 65 0 0 812.5 174.4ZM816.2 172.2A5.4 1.3 78 0 0 818.4 182.7A5.4 1.3 78 0 0 816.2 172.2ZM823.2 171.5A4.8 1.3 79 0 0 824.9 180.9A4.8 1.3 79 0 0 823.2 171.5ZM825.3 171.2A5.5 1.3 74 0 0 828.3 181.8A5.5 1.3 74 0 0 825.3 171.2ZM829.2 170.2A5.2 1.3 74 0 0 832.0 180.2A5.2 1.3 74 0 0 829.2 170.2ZM841.3 166.7A5.7 1.3 74 0 0 844.4 177.6A5.7 1.3 74 0 0 841.3 166.7ZM845.6 166.2A5.1 1.3 87 0 0 846.0 176.5A5.1 1.3 87 0 0 845.6 166.2ZM854.2 161.9A5.6 1.3 86 0 0 854.9 173.1A5.6 1.3 86 0 0 854.2 161.9ZM870.3 157.5A5.7 1.3 94 0 0 869.4 168.8A5.7 1.3 94 0 0 870.3 157.5ZM874.2 157.1A5.1 1.3 93 0 0 873.6 167.3A5.1 1.3 93 0 0 874.2 157.1ZM886.6 156.7A5.8 1.3 96 0 0 885.2 168.2A5.8 1.3 96 0 0 886.6 156.7ZM893.6 157.6A5.0 1.3 94 0 0 892.8 167.6A5.0 1.3 94 0 0 893.6 157.6ZM895.9 158.4A4.3 1.3 95 0 0 895.1 167.0A4.3 1.3 95 0 0 895.9 158.4ZM905.5 158.4A4.8 1.3 86 0 0 906.0 168.1A4.8 1.3 86 0 0 905.5 158.4ZM913.3 159.4A5.4 1.3 70 0 0 916.8 169.5A5.4 1.3 70 0 0 913.3 159.4ZM919.2 158.4A5.5 1.3 69 0 0 923.1 168.7A5.5 1.3 69 0 0 919.2 158.4ZM768.7 194.3A4.8 1.3 73 0 0 771.4 203.6A4.8 1.3 73 0 0 768.7 194.3ZM770.3 194.0A5.8 1.3 55 0 0 776.9 203.5A5.8 1.3 55 0 0 770.3 194.0ZM776.1 195.9A4.3 1.3 82 0 0 777.3 204.5A4.3 1.3 82 0 0 776.1 195.9ZM791.4 195.1A5.3 1.3 73 0 0 794.5 205.3A5.3 1.3 73 0 0 791.4 195.1ZM795.2 194.4A5.0 1.3 78 0 0 797.1 204.2A5.0 1.3 78 0 0 795.2 194.4ZM805.7 191.7A5.8 1.3 90 0 0 805.6 203.3A5.8 1.3 90 0 0 805.7 191.7ZM811.6 192.4A4.5 1.3 79 0 0 813.2 201.2A4.5 1.3 79 0 0 811.6 192.4ZM815.6 189.2A5.5 1.3 90 0 0 815.4 200.2A5.5 1.3 90 0 0 815.6 189.2ZM830.2 185.5A4.3 1.3 87 0 0 830.6 194.1A4.3 1.3 87 0 0 830.2 185.5ZM833.9 182.9A4.4 1.3 95 0 0 833.2 191.6A4.4 1.3 95 0 0 833.9 182.9ZM836.3 182.3A4.8 1.3 87 0 0 836.6 191.8A4.8 1.3 87 0 0 836.3 182.3ZM849.6 179.3A5.3 1.3 95 0 0 848.7 189.8A5.3 1.3 95 0 0 849.6 179.3ZM854.8 177.3A5.8 1.3 89 0 0 855.0 188.9A5.8 1.3 89 0 0 854.8 177.3ZM861.7 178.5A4.9 1.3 94 0 0 860.9 188.3A4.9 1.3 94 0 0 861.7 178.5ZM874.8 177.1A5.8 1.3 92 0 0 874.3 188.8A5.8 1.3 92 0 0 874.8 177.1ZM883.9 179.2A5.1 1.3 86 0 0 884.5 189.4A5.1 1.3 86 0 0 883.9 179.2ZM886.7 179.1A4.9 1.3 88 0 0 887.0 188.8A4.9 1.3 88 0 0 886.7 179.1ZM890.1 179.2A5.0 1.3 79 0 0 892.0 189.0A5.0 1.3 79 0 0 890.1 179.2ZM903.1 179.3A5.0 1.3 80 0 0 904.7 189.2A5.0 1.3 80 0 0 903.1 179.3ZM908.1 178.3A4.7 1.3 69 0 0 911.3 187.0A4.7 1.3 69 0 0 908.1 178.3ZM917.5 174.4A5.8 1.3 77 0 0 920.0 185.8A5.8 1.3 77 0 0 917.5 174.4ZM919.0 173.2A5.3 1.3 63 0 0 923.7 182.7A5.3 1.3 63 0 0 919.0 173.2ZM770.5 209.8A5.7 1.3 74 0 0 773.6 220.8A5.7 1.3 74 0 0 770.5 209.8ZM781.8 208.7A4.5 1.3 95 0 0 780.9 217.8A4.5 1.3 95 0 0 781.8 208.7ZM799.5 201.4A5.2 1.3 84 0 0 800.5 211.9A5.2 1.3 84 0 0 799.5 201.4ZM828.7 192.8A5.5 1.3 96 0 0 827.5 203.7A5.5 1.3 96 0 0 828.7 192.8ZM834.5 193.8A4.5 1.3 85 0 0 835.3 202.8A4.5 1.3 85 0 0 834.5 193.8ZM849.3 192.3A5.5 1.3 76 0 0 851.9 202.9A5.5 1.3 76 0 0 849.3 192.3ZM850.9 194.2A4.6 1.3 76 0 0 853.1 203.3A4.6 1.3 76 0 0 850.9 194.2ZM864.5 194.3A5.2 1.3 82 0 0 865.9 204.5A5.2 1.3 82 0 0 864.5 194.3ZM887.8 191.8A4.4 1.3 73 0 0 890.3 200.1A4.4 1.3 73 0 0 887.8 191.8ZM892.4 189.7A5.6 1.3 85 0 0 893.2 200.8A5.6 1.3 85 0 0 892.4 189.7ZM896.5 189.0A5.1 1.3 74 0 0 899.2 198.8A5.1 1.3 74 0 0 896.5 189.0ZM902.1 185.0A5.7 1.3 76 0 0 904.8 196.0A5.7 1.3 76 0 0 902.1 185.0ZM906.6 186.3A4.4 1.3 84 0 0 907.5 195.0A4.4 1.3 84 0 0 906.6 186.3ZM766.2 225.2A4.8 1.3 97 0 0 764.8 234.8A4.8 1.3 97 0 0 766.2 225.2ZM769.8 222.2A5.5 1.3 96 0 0 768.6 233.1A5.5 1.3 96 0 0 769.8 222.2ZM775.0 221.6A4.4 1.3 94 0 0 774.2 230.4A4.4 1.3 94 0 0 775.0 221.6ZM780.9 218.0A5.2 1.3 87 0 0 781.4 228.4A5.2 1.3 87 0 0 780.9 218.0ZM784.2 218.8A4.6 1.3 93 0 0 783.6 228.0A4.6 1.3 93 0 0 784.2 218.8ZM792.2 215.1A4.5 1.3 93 0 0 791.7 224.0A4.5 1.3 93 0 0 792.2 215.1ZM799.6 212.9A4.4 1.3 91 0 0 799.4 221.6A4.4 1.3 91 0 0 799.6 212.9ZM808.2 210.9A4.7 1.3 81 0 0 809.6 220.1A4.7 1.3 81 0 0 808.2 210.9ZM811.6 209.3A5.1 1.3 76 0 0 813.9 219.2A5.1 1.3 76 0 0 811.6 209.3ZM814.9 210.8A4.5 1.3 82 0 0 816.1 219.7A4.5 1.3 82 0 0 814.9 210.8ZM817.9 209.6A5.8 1.3 81 0 0 819.7 221.0A5.8 1.3 81 0 0 817.9 209.6ZM823.4 209.6A4.8 1.3 76 0 0 825.5 218.9A4.8 1.3 76 0 0 823.4 209.6ZM827.5 210.6A4.6 1.3 76 0 0 829.5 219.5A4.6 1.3 76 0 0 827.5 210.6ZM830.2 210.2A5.6 1.3 80 0 0 832.1 221.2A5.6 1.3 80 0 0 830.2 210.2ZM860.9 207.9A5.9 1.3 72 0 0 864.4 219.1A5.9 1.3 72 0 0 860.9 207.9ZM864.4 208.5A4.7 1.3 73 0 0 867.0 217.4A4.7 1.3 73 0 0 864.4 208.5ZM878.5 205.4A4.3 1.3 85 0 0 879.2 214.0A4.3 1.3 85 0 0 878.5 205.4ZM883.9 201.4A5.5 1.3 81 0 0 885.6 212.3A5.5 1.3 81 0 0 883.9 201.4ZM918.9 192.2A5.0 1.3 91 0 0 918.7 202.1A5.0 1.3 91 0 0 918.9 192.2ZM763.1 229.7A5.3 1.3 89 0 0 763.2 240.4A5.3 1.3 89 0 0 763.1 229.7ZM769.0 227.7A4.4 1.3 82 0 0 770.1 236.4A4.4 1.3 82 0 0 769.0 227.7ZM774.5 225.7A5.1 1.3 87 0 0 774.9 235.9A5.1 1.3 87 0 0 774.5 225.7ZM789.0 224.4A4.8 1.3 71 0 0 792.0 233.4A4.8 1.3 71 0 0 789.0 224.4ZM815.1 223.5A5.7 1.3 72 0 0 818.6 234.4A5.7 1.3 72 0 0 815.1 223.5ZM826.4 224.3A5.1 1.3 78 0 0 828.4 234.3A5.1 1.3 78 0 0 826.4 224.3ZM838.9 222.2A5.8 1.3 80 0 0 840.9 233.7A5.8 1.3 80 0 0 838.9 222.2ZM863.0 214.1A5.6 1.3 75 0 0 865.8 224.8A5.6 1.3 75 0 0 863.0 214.1ZM867.9 212.3A5.6 1.3 77 0 0 870.3 223.3A5.6 1.3 77 0 0 867.9 212.3ZM873.5 209.9A5.6 1.3 93 0 0 872.8 221.2A5.6 1.3 93 0 0 873.5 209.9ZM880.1 209.2A4.4 1.3 90 0 0 880.0 218.0A4.4 1.3 90 0 0 880.1 209.2ZM896.4 206.0A5.0 1.3 95 0 0 895.4 216.0A5.0 1.3 95 0 0 896.4 206.0ZM898.1 206.0A4.5 1.3 93 0 0 897.6 214.9A4.5 1.3 93 0 0 898.1 206.0ZM902.0 205.5A4.8 1.3 93 0 0 901.4 215.1A4.8 1.3 93 0 0 902.0 205.5ZM910.7 204.2A5.7 1.3 90 0 0 910.6 215.5A5.7 1.3 90 0 0 910.7 204.2ZM917.2 205.7A5.6 1.3 86 0 0 917.9 216.9A5.6 1.3 86 0 0 917.2 205.7ZM778.9 239.5A5.8 1.3 75 0 0 781.7 250.7A5.8 1.3 75 0 0 778.9 239.5ZM788.3 241.7A4.6 1.3 63 0 0 792.4 250.0A4.6 1.3 63 0 0 788.3 241.7ZM794.3 240.7A5.8 1.3 78 0 0 796.7 252.1A5.8 1.3 78 0 0 794.3 240.7ZM801.1 243.0A4.4 1.3 68 0 0 804.3 251.3A4.4 1.3 68 0 0 801.1 243.0ZM803.7 242.0A4.6 1.3 70 0 0 806.9 250.7A4.6 1.3 70 0 0 803.7 242.0ZM812.1 240.0A5.0 1.3 86 0 0 812.7 250.0A5.0 1.3 86 0 0 812.1 240.0ZM839.3 232.9A4.8 1.3 88 0 0 839.5 242.5A4.8 1.3 88 0 0 839.3 232.9ZM842.6 231.0A5.0 1.3 90 0 0 842.5 241.1A5.0 1.3 90 0 0 842.6 231.0ZM846.5 229.6A5.6 1.3 100 0 0 844.4 240.7A5.6 1.3 100 0 0 846.5 229.6ZM853.6 228.0A4.6 1.3 109 0 0 850.6 236.6A4.6 1.3 109 0 0 853.6 228.0ZM862.9 226.3A4.3 1.3 95 0 0 862.1 234.9A4.3 1.3 95 0 0 862.9 226.3ZM867.9 224.0A5.1 1.3 86 0 0 868.6 234.3A5.1 1.3 86 0 0 867.9 224.0ZM874.3 223.1A5.4 1.3 87 0 0 874.7 234.0A5.4 1.3 87 0 0 874.3 223.1ZM877.7 222.5A5.7 1.3 92 0 0 877.3 233.8A5.7 1.3 92 0 0 877.7 222.5ZM883.7 223.5A4.3 1.3 79 0 0 885.2 232.0A4.3 1.3 79 0 0 883.7 223.5ZM889.2 223.0A5.8 1.3 82 0 0 890.8 234.4A5.8 1.3 82 0 0 889.2 223.0ZM909.2 225.2A5.8 1.3 76 0 0 912.0 236.5A5.8 1.3 76 0 0 909.2 225.2ZM918.2 224.6A5.0 1.3 74 0 0 921.0 234.3A5.0 1.3 74 0 0 918.2 224.6ZM924.8 223.0A5.6 1.3 76 0 0 927.5 233.8A5.6 1.3 76 0 0 924.8 223.0ZM867.9 241.2A5.1 1.3 82 0 0 869.2 251.3A5.1 1.3 82 0 0 867.9 241.2ZM887.7 240.8A5.7 1.3 74 0 0 890.9 251.8A5.7 1.3 74 0 0 887.7 240.8ZM892.8 243.3A4.6 1.3 70 0 0 895.9 251.9A4.6 1.3 70 0 0 892.8 243.3ZM898.3 241.8A4.9 1.3 66 0 0 902.3 250.8A4.9 1.3 66 0 0 898.3 241.8ZM912.7 239.2A5.3 1.3 84 0 0 913.8 249.6A5.3 1.3 84 0 0 912.7 239.2Z" fill="#bcc062" opacity="0.95"/>
<path d="M711.7 39.7A7.9 1.7 159 0 0 696.8 45.2A7.9 1.7 159 0 0 711.7 39.7ZM712.4 58.0A8.4 1.7 169 0 0 696.0 61.0A8.4 1.7 169 0 0 712.4 58.0ZM713.8 66.2A7.9 1.7 167 0 0 698.4 69.5A7.9 1.7 167 0 0 713.8 66.2ZM714.7 84.4A6.5 1.7 160 0 0 702.4 88.8A6.5 1.7 160 0 0 714.7 84.4ZM715.5 89.5A6.7 1.7 161 0 0 702.8 93.6A6.7 1.7 161 0 0 715.5 89.5ZM716.6 94.5A6.9 1.7 175 0 0 702.9 95.7A6.9 1.7 175 0 0 716.6 94.5ZM717.6 96.9A7.8 1.7 161 0 0 702.8 102.0A7.8 1.7 161 0 0 717.6 96.9ZM717.5 101.6A7.5 1.7 166 0 0 702.9 105.2A7.5 1.7 166 0 0 717.5 101.6ZM718.2 106.8A8.3 1.7 180 0 0 701.6 106.7A8.3 1.7 180 0 0 718.2 106.8ZM709.5 44.0A4.7 1.4 34 0 0 717.3 49.3A4.7 1.4 34 0 0 709.5 44.0ZM711.0 42.9A4.9 1.4 22 0 0 720.1 46.6A4.9 1.4 22 0 0 711.0 42.9ZM709.0 57.2A5.7 1.4 49 0 0 716.4 65.8A5.7 1.4 49 0 0 709.0 57.2ZM713.3 52.3A5.6 1.4 42 0 0 721.5 59.8A5.6 1.4 42 0 0 713.3 52.3ZM717.1 50.1A4.5 1.4 44 0 0 723.5 56.4A4.5 1.4 44 0 0 717.1 50.1ZM726.8 41.2A5.7 1.4 45 0 0 734.8 49.4A5.7 1.4 45 0 0 726.8 41.2ZM711.7 88.3A4.6 1.4 39 0 0 718.9 94.2A4.6 1.4 39 0 0 711.7 88.3ZM716.8 83.3A5.9 1.4 33 0 0 726.6 89.9A5.9 1.4 33 0 0 716.8 83.3ZM723.5 74.6A5.7 1.4 44 0 0 731.7 82.6A5.7 1.4 44 0 0 723.5 74.6ZM731.1 68.8A4.6 1.4 34 0 0 738.7 74.0A4.6 1.4 34 0 0 731.1 68.8ZM735.7 63.6A4.7 1.4 29 0 0 743.8 68.2A4.7 1.4 29 0 0 735.7 63.6ZM736.9 60.9A4.8 1.4 41 0 0 744.1 67.2A4.8 1.4 41 0 0 736.9 60.9ZM739.2 58.1A5.2 1.4 36 0 0 747.6 64.2A5.2 1.4 36 0 0 739.2 58.1ZM742.6 52.6A4.6 1.4 35 0 0 750.1 57.8A4.6 1.4 35 0 0 742.6 52.6ZM744.2 48.6A5.2 1.4 36 0 0 752.5 54.7A5.2 1.4 36 0 0 744.2 48.6ZM748.0 44.3A5.4 1.4 26 0 0 757.7 49.1A5.4 1.4 26 0 0 748.0 44.3ZM712.2 108.6A6.0 1.4 15 0 0 723.9 111.7A6.0 1.4 15 0 0 712.2 108.6ZM716.6 102.7A5.1 1.4 18 0 0 726.3 105.9A5.1 1.4 18 0 0 716.6 102.7ZM720.6 95.2A4.9 1.4 33 0 0 728.8 100.6A4.9 1.4 33 0 0 720.6 95.2ZM730.3 79.2A4.4 1.4 27 0 0 738.1 83.2A4.4 1.4 27 0 0 730.3 79.2ZM736.6 70.1A4.8 1.4 27 0 0 745.2 74.5A4.8 1.4 27 0 0 736.6 70.1ZM747.9 49.1A5.8 1.4 32 0 0 757.8 55.3A5.8 1.4 32 0 0 747.9 49.1ZM754.0 41.9A5.8 1.4 23 0 0 764.6 46.5A5.8 1.4 23 0 0 754.0 41.9ZM711.8 125.0A5.5 1.4 35 0 0 720.7 131.4A5.5 1.4 35 0 0 711.8 125.0ZM715.9 119.2A4.6 1.4 35 0 0 723.5 124.5A4.6 1.4 35 0 0 715.9 119.2ZM719.6 112.9A4.8 1.4 32 0 0 727.7 118.1A4.8 1.4 32 0 0 719.6 112.9ZM724.9 102.2A5.6 1.4 29 0 0 734.8 107.7A5.6 1.4 29 0 0 724.9 102.2ZM728.2 98.5A4.6 1.4 39 0 0 735.4 104.4A4.6 1.4 39 0 0 728.2 98.5ZM730.5 92.7A5.4 1.4 26 0 0 740.2 97.5A5.4 1.4 26 0 0 730.5 92.7ZM738.5 85.1A5.0 1.4 27 0 0 747.3 89.6A5.0 1.4 27 0 0 738.5 85.1ZM741.9 79.9A5.2 1.4 34 0 0 750.6 85.9A5.2 1.4 34 0 0 741.9 79.9ZM746.5 74.7A5.3 1.4 21 0 0 756.3 78.6A5.3 1.4 21 0 0 746.5 74.7ZM750.3 73.0A4.6 1.4 32 0 0 758.0 78.0A4.6 1.4 32 0 0 750.3 73.0ZM751.2 69.4A4.7 1.4 33 0 0 759.0 74.6A4.7 1.4 33 0 0 751.2 69.4ZM760.9 59.2A5.5 1.4 34 0 0 769.9 65.5A5.5 1.4 34 0 0 760.9 59.2ZM763.3 57.1A5.5 1.4 32 0 0 772.6 63.0A5.5 1.4 32 0 0 763.3 57.1ZM768.4 53.0A6.0 1.4 30 0 0 778.8 59.1A6.0 1.4 30 0 0 768.4 53.0ZM713.4 139.1A5.3 1.4 40 0 0 721.5 146.0A5.3 1.4 40 0 0 713.4 139.1ZM715.6 135.9A5.3 1.4 45 0 0 723.0 143.4A5.3 1.4 45 0 0 715.6 135.9ZM726.0 121.9A5.9 1.4 52 0 0 733.2 131.3A5.9 1.4 52 0 0 726.0 121.9ZM731.5 117.3A4.4 1.4 52 0 0 736.9 124.3A4.4 1.4 52 0 0 731.5 117.3ZM738.7 109.1A5.3 1.4 55 0 0 744.7 117.8A5.3 1.4 55 0 0 738.7 109.1ZM740.8 108.0A4.6 1.4 38 0 0 748.0 113.8A4.6 1.4 38 0 0 740.8 108.0ZM742.2 104.7A6.0 1.4 49 0 0 750.0 113.8A6.0 1.4 49 0 0 742.2 104.7ZM774.2 68.7A5.9 1.4 49 0 0 781.9 77.5A5.9 1.4 49 0 0 774.2 68.7ZM784.9 55.6A5.1 1.4 45 0 0 792.1 62.8A5.1 1.4 45 0 0 784.9 55.6ZM786.4 52.4A5.1 1.4 52 0 0 792.5 60.5A5.1 1.4 52 0 0 786.4 52.4ZM787.6 49.1A5.9 1.4 42 0 0 796.4 57.0A5.9 1.4 42 0 0 787.6 49.1ZM789.8 45.8A5.7 1.4 53 0 0 796.6 55.1A5.7 1.4 53 0 0 789.8 45.8ZM794.2 42.0A4.7 1.4 45 0 0 800.8 48.6A4.7 1.4 45 0 0 794.2 42.0ZM737.3 144.3A4.5 1.4 35 0 0 744.6 149.5A4.5 1.4 35 0 0 737.3 144.3ZM744.0 135.9A4.4 1.4 26 0 0 751.9 139.9A4.4 1.4 26 0 0 744.0 135.9ZM751.6 121.8A4.9 1.4 28 0 0 760.2 126.5A4.9 1.4 28 0 0 751.6 121.8ZM757.2 115.6A5.4 1.4 33 0 0 766.1 121.6A5.4 1.4 33 0 0 757.2 115.6ZM770.8 91.9A4.9 1.4 29 0 0 779.3 96.7A4.9 1.4 29 0 0 770.8 91.9ZM771.4 89.0A5.0 1.4 27 0 0 780.3 93.8A5.0 1.4 27 0 0 771.4 89.0ZM772.4 85.7A6.0 1.4 45 0 0 780.7 94.3A6.0 1.4 45 0 0 772.4 85.7ZM775.9 79.3A5.4 1.4 41 0 0 784.0 86.3A5.4 1.4 41 0 0 775.9 79.3ZM782.2 70.5A4.4 1.4 35 0 0 789.4 75.7A4.4 1.4 35 0 0 782.2 70.5ZM784.9 65.2A5.7 1.4 35 0 0 794.1 71.7A5.7 1.4 35 0 0 784.9 65.2ZM796.1 51.7A4.7 1.4 37 0 0 803.4 57.4A4.7 1.4 37 0 0 796.1 51.7ZM798.0 48.5A4.6 1.4 31 0 0 805.8 53.4A4.6 1.4 31 0 0 798.0 48.5ZM754.4 144.8A5.3 1.4 29 0 0 763.7 149.9A5.3 1.4 29 0 0 754.4 144.8ZM762.7 126.4A5.2 1.4 14 0 0 772.7 128.9A5.2 1.4 14 0 0 762.7 126.4ZM764.3 121.1A5.0 1.4 29 0 0 773.1 126.0A5.0 1.4 29 0 0 764.3 121.1ZM766.5 120.4A5.0 1.4 14 0 0 776.3 123.0A5.0 1.4 14 0 0 766.5 120.4ZM772.3 111.3A4.9 1.4 21 0 0 781.5 114.9A4.9 1.4 21 0 0 772.3 111.3ZM773.7 108.4A5.9 1.4 22 0 0 784.6 112.9A5.9 1.4 22 0 0 773.7 108.4ZM783.6 94.2A6.0 1.4 29 0 0 794.1 100.1A6.0 1.4 29 0 0 783.6 94.2ZM786.9 91.2A5.2 1.4 30 0 0 795.8 96.4A5.2 1.4 30 0 0 786.9 91.2ZM789.3 88.8A4.8 1.4 19 0 0 798.4 92.0A4.8 1.4 19 0 0 789.3 88.8ZM790.7 87.2A5.9 1.4 22 0 0 801.6 91.7A5.9 1.4 22 0 0 790.7 87.2ZM796.2 81.1A4.9 1.4 26 0 0 804.9 85.5A4.9 1.4 26 0 0 796.2 81.1ZM801.4 77.5A5.1 1.4 19 0 0 811.1 81.0A5.1 1.4 19 0 0 801.4 77.5ZM770.1 131.7A5.2 1.4 43 0 0 777.6 138.8A5.2 1.4 43 0 0 770.1 131.7ZM785.6 112.9A4.6 1.4 39 0 0 792.7 118.7A4.6 1.4 39 0 0 785.6 112.9ZM789.9 108.3A5.2 1.4 42 0 0 797.7 115.3A5.2 1.4 42 0 0 789.9 108.3ZM792.2 105.3A5.9 1.4 43 0 0 800.7 113.4A5.9 1.4 43 0 0 792.2 105.3ZM797.8 101.1A4.6 1.4 42 0 0 804.6 107.3A4.6 1.4 42 0 0 797.8 101.1ZM803.0 94.2A4.7 1.4 33 0 0 810.8 99.5A4.7 1.4 33 0 0 803.0 94.2ZM793.3 138.6A4.6 1.4 23 0 0 801.8 142.2A4.6 1.4 23 0 0 793.3 138.6ZM797.0 131.1A6.0 1.4 42 0 0 805.9 139.1A6.0 1.4 42 0 0 797.0 131.1ZM798.1 129.2A5.3 1.4 34 0 0 806.8 135.1A5.3 1.4 34 0 0 798.1 129.2ZM805.3 119.0A4.7 1.4 51 0 0 811.2 126.4A4.7 1.4 51 0 0 805.3 119.0ZM926.6 47.8A7.0 1.5 165 0 0 912.9 51.2A7.0 1.5 165 0 0 926.6 47.8ZM927.0 55.8A7.8 1.5 169 0 0 911.6 58.8A7.8 1.5 169 0 0 927.0 55.8ZM929.5 85.0A6.0 1.5 174 0 0 917.5 86.3A6.0 1.5 174 0 0 929.5 85.0ZM932.9 102.0A7.9 1.5 192 0 0 917.4 98.7A7.9 1.5 192 0 0 932.9 102.0ZM931.7 103.6A6.2 1.5 182 0 0 919.3 103.0A6.2 1.5 182 0 0 931.7 103.6ZM928.4 128.6A6.1 1.5 209 0 0 917.8 122.7A6.1 1.5 209 0 0 928.4 128.6ZM928.4 134.7A6.7 1.5 200 0 0 915.8 130.0A6.7 1.5 200 0 0 928.4 134.7ZM927.3 149.7A7.9 1.5 195 0 0 912.1 145.3A7.9 1.5 195 0 0 927.3 149.7ZM908.6 42.4A7.9 1.5 171 0 0 893.0 44.7A7.9 1.5 171 0 0 908.6 42.4ZM906.9 47.6A7.2 1.5 172 0 0 892.6 49.4A7.2 1.5 172 0 0 906.9 47.6ZM907.7 55.1A7.5 1.5 178 0 0 892.7 55.4A7.5 1.5 178 0 0 907.7 55.1ZM907.1 69.1A6.3 1.5 176 0 0 894.5 69.8A6.3 1.5 176 0 0 907.1 69.1ZM909.9 73.2A7.6 1.5 186 0 0 894.8 71.6A7.6 1.5 186 0 0 909.9 73.2ZM910.6 76.6A7.9 1.5 180 0 0 894.7 76.6A7.9 1.5 180 0 0 910.6 76.6ZM912.4 91.0A7.7 1.5 189 0 0 897.2 88.5A7.7 1.5 189 0 0 912.4 91.0ZM911.6 101.0A6.4 1.5 203 0 0 899.7 95.9A6.4 1.5 203 0 0 911.6 101.0ZM912.2 111.4A7.3 1.5 201 0 0 898.5 106.1A7.3 1.5 201 0 0 912.2 111.4ZM911.8 130.1A7.8 1.5 201 0 0 897.3 124.3A7.8 1.5 201 0 0 911.8 130.1ZM886.7 48.4A7.8 1.5 157 0 0 872.3 54.4A7.8 1.5 157 0 0 886.7 48.4ZM888.3 72.6A6.1 1.5 178 0 0 876.2 72.8A6.1 1.5 178 0 0 888.3 72.6ZM887.4 76.1A6.0 1.5 184 0 0 875.5 75.2A6.0 1.5 184 0 0 887.4 76.1ZM889.9 80.5A7.5 1.5 186 0 0 874.9 79.0A7.5 1.5 186 0 0 889.9 80.5ZM892.6 91.3A8.0 1.5 187 0 0 876.8 89.1A8.0 1.5 187 0 0 892.6 91.3ZM892.1 98.4A6.8 1.5 186 0 0 878.7 97.0A6.8 1.5 186 0 0 892.1 98.4ZM894.1 112.3A8.1 1.5 187 0 0 878.1 110.3A8.1 1.5 187 0 0 894.1 112.3ZM891.1 128.7A7.0 1.5 194 0 0 877.6 125.2A7.0 1.5 194 0 0 891.1 128.7ZM889.3 133.7A7.6 1.5 209 0 0 876.1 126.2A7.6 1.5 209 0 0 889.3 133.7ZM868.1 65.0A6.4 1.5 175 0 0 855.4 65.9A6.4 1.5 175 0 0 868.1 65.0ZM868.4 67.7A6.1 1.5 177 0 0 856.2 68.3A6.1 1.5 177 0 0 868.4 67.7ZM870.3 77.9A6.6 1.5 179 0 0 857.0 78.0A6.6 1.5 179 0 0 870.3 77.9ZM872.9 94.0A6.3 1.5 179 0 0 860.4 94.1A6.3 1.5 179 0 0 872.9 94.0ZM873.5 102.8A7.7 1.5 192 0 0 858.4 99.3A7.7 1.5 192 0 0 873.5 102.8ZM873.8 109.4A7.2 1.5 192 0 0 859.7 106.4A7.2 1.5 192 0 0 873.8 109.4ZM869.2 148.6A7.8 1.5 189 0 0 853.8 145.9A7.8 1.5 189 0 0 869.2 148.6ZM847.1 44.3A6.1 1.5 177 0 0 835.0 44.9A6.1 1.5 177 0 0 847.1 44.3ZM847.3 46.9A6.4 1.5 164 0 0 835.0 50.4A6.4 1.5 164 0 0 847.3 46.9ZM849.6 55.5A8.0 1.5 179 0 0 833.7 55.6A8.0 1.5 179 0 0 849.6 55.5ZM849.2 61.4A7.9 1.5 175 0 0 833.4 62.5A7.9 1.5 175 0 0 849.2 61.4ZM848.2 66.1A6.1 1.5 179 0 0 836.1 66.3A6.1 1.5 179 0 0 848.2 66.1ZM850.9 75.8A6.8 1.5 195 0 0 837.9 72.2A6.8 1.5 195 0 0 850.9 75.8ZM852.6 93.1A6.4 1.5 189 0 0 840.0 91.0A6.4 1.5 189 0 0 852.6 93.1ZM852.4 110.6A6.0 1.5 196 0 0 841.0 107.1A6.0 1.5 196 0 0 852.4 110.6ZM854.1 114.5A6.8 1.5 190 0 0 840.8 112.1A6.8 1.5 190 0 0 854.1 114.5ZM853.4 122.0A7.3 1.5 197 0 0 839.6 117.6A7.3 1.5 197 0 0 853.4 122.0ZM849.9 141.5A6.7 1.5 202 0 0 837.5 136.3A6.7 1.5 202 0 0 849.9 141.5ZM849.6 147.6A6.8 1.5 195 0 0 836.5 144.0A6.8 1.5 195 0 0 849.6 147.6ZM830.2 50.1A8.0 1.5 187 0 0 814.4 47.9A8.0 1.5 187 0 0 830.2 50.1ZM829.8 51.2A6.8 1.5 177 0 0 816.1 51.8A6.8 1.5 177 0 0 829.8 51.2ZM831.3 55.1A7.3 1.5 181 0 0 816.6 54.9A7.3 1.5 181 0 0 831.3 55.1ZM829.7 57.8A6.3 1.5 169 0 0 817.2 60.2A6.3 1.5 169 0 0 829.7 57.8ZM831.9 62.6A8.1 1.5 178 0 0 815.7 63.0A8.1 1.5 178 0 0 831.9 62.6ZM830.8 67.6A6.8 1.5 184 0 0 817.3 66.5A6.8 1.5 184 0 0 830.8 67.6ZM832.3 73.3A7.0 1.5 178 0 0 818.4 73.7A7.0 1.5 178 0 0 832.3 73.3ZM833.2 79.2A7.3 1.5 199 0 0 819.4 74.2A7.3 1.5 199 0 0 833.2 79.2ZM834.3 88.2A7.0 1.5 188 0 0 820.5 86.2A7.0 1.5 188 0 0 834.3 88.2ZM835.3 98.3A7.1 1.5 199 0 0 821.9 93.4A7.1 1.5 199 0 0 835.3 98.3ZM834.5 99.4A6.3 1.5 189 0 0 822.1 97.4A6.3 1.5 189 0 0 834.5 99.4ZM836.9 108.5A7.8 1.5 199 0 0 822.3 103.3A7.8 1.5 199 0 0 836.9 108.5ZM835.3 118.9A7.4 1.5 190 0 0 820.7 116.3A7.4 1.5 190 0 0 835.3 118.9ZM834.3 128.8A7.6 1.5 193 0 0 819.5 125.3A7.6 1.5 193 0 0 834.3 128.8ZM832.7 134.2A7.5 1.5 200 0 0 818.8 129.0A7.5 1.5 200 0 0 832.7 134.2ZM832.2 135.2A6.1 1.5 189 0 0 820.0 133.3A6.1 1.5 189 0 0 832.2 135.2ZM812.4 42.5A7.1 1.5 173 0 0 798.4 44.2A7.1 1.5 173 0 0 812.4 42.5ZM812.3 45.6A6.8 1.5 169 0 0 798.9 48.2A6.8 1.5 169 0 0 812.3 45.6ZM813.8 77.2A6.0 1.5 188 0 0 802.0 75.3A6.0 1.5 188 0 0 813.8 77.2ZM816.8 96.8A6.5 1.5 203 0 0 804.9 91.5A6.5 1.5 203 0 0 816.8 96.8ZM818.0 98.8A7.2 1.5 191 0 0 804.0 95.8A7.2 1.5 191 0 0 818.0 98.8ZM818.1 104.4A7.1 1.5 199 0 0 804.7 99.7A7.1 1.5 199 0 0 818.1 104.4ZM818.8 106.5A7.7 1.5 193 0 0 803.8 103.0A7.7 1.5 193 0 0 818.8 106.5ZM816.0 111.0A5.9 1.5 203 0 0 805.2 106.2A5.9 1.5 203 0 0 816.0 111.0ZM818.5 113.0A6.4 1.5 188 0 0 805.8 111.1A6.4 1.5 188 0 0 818.5 113.0ZM817.4 118.7A8.0 1.5 201 0 0 802.5 112.9A8.0 1.5 201 0 0 817.4 118.7ZM815.7 128.9A6.7 1.5 194 0 0 802.8 125.6A6.7 1.5 194 0 0 815.7 128.9ZM816.2 132.7A7.3 1.5 195 0 0 802.1 128.8A7.3 1.5 195 0 0 816.2 132.7ZM813.3 143.2A7.2 1.5 199 0 0 799.7 138.4A7.2 1.5 199 0 0 813.3 143.2ZM699.4 142.9A5.6 1.3 68 0 0 703.4 153.3A5.6 1.3 68 0 0 699.4 142.9ZM702.4 143.1A5.1 1.3 63 0 0 707.0 152.3A5.1 1.3 63 0 0 702.4 143.1ZM705.6 139.8A5.3 1.3 53 0 0 711.9 148.2A5.3 1.3 53 0 0 705.6 139.8ZM690.2 168.7A5.8 1.3 55 0 0 696.9 178.2A5.8 1.3 55 0 0 690.2 168.7ZM697.2 168.8A5.1 1.3 43 0 0 704.6 175.8A5.1 1.3 43 0 0 697.2 168.8ZM700.8 165.6A5.9 1.3 49 0 0 708.4 174.6A5.9 1.3 49 0 0 700.8 165.6ZM714.7 162.7A4.8 1.3 57 0 0 719.8 170.8A4.8 1.3 57 0 0 714.7 162.7ZM720.0 159.5A5.7 1.3 63 0 0 725.1 169.7A5.7 1.3 63 0 0 720.0 159.5ZM723.4 159.8A5.1 1.3 59 0 0 728.5 168.6A5.1 1.3 59 0 0 723.4 159.8ZM733.9 152.8A5.8 1.3 62 0 0 739.3 163.0A5.8 1.3 62 0 0 733.9 152.8ZM744.8 146.9A5.5 1.3 62 0 0 749.9 156.5A5.5 1.3 62 0 0 744.8 146.9ZM700.8 182.3A5.1 1.3 54 0 0 706.8 190.6A5.1 1.3 54 0 0 700.8 182.3ZM707.3 179.0A5.6 1.3 72 0 0 710.7 189.6A5.6 1.3 72 0 0 707.3 179.0ZM714.3 177.3A4.5 1.3 81 0 0 715.6 186.1A4.5 1.3 81 0 0 714.3 177.3ZM722.6 173.6A4.3 1.3 74 0 0 724.9 181.9A4.3 1.3 74 0 0 722.6 173.6ZM731.9 163.9A5.7 1.3 68 0 0 736.1 174.5A5.7 1.3 68 0 0 731.9 163.9ZM740.0 158.7A4.4 1.3 67 0 0 743.3 166.8A4.4 1.3 67 0 0 740.0 158.7ZM749.6 149.6A4.4 1.3 79 0 0 751.2 158.4A4.4 1.3 79 0 0 749.6 149.6ZM699.3 200.5A5.0 1.3 71 0 0 702.4 209.9A5.0 1.3 71 0 0 699.3 200.5ZM706.9 193.3A5.7 1.3 74 0 0 709.9 204.4A5.7 1.3 74 0 0 706.9 193.3ZM713.5 190.1A5.5 1.3 76 0 0 716.0 200.8A5.5 1.3 76 0 0 713.5 190.1ZM713.9 188.7A5.8 1.3 72 0 0 717.4 199.8A5.8 1.3 72 0 0 713.9 188.7ZM717.2 185.5A5.2 1.3 70 0 0 720.6 195.2A5.2 1.3 70 0 0 717.2 185.5ZM718.5 183.7A4.9 1.3 70 0 0 721.7 193.0A4.9 1.3 70 0 0 718.5 183.7ZM722.1 182.3A4.8 1.3 67 0 0 725.7 191.1A4.8 1.3 67 0 0 722.1 182.3ZM727.5 177.3A4.3 1.3 77 0 0 729.4 185.7A4.3 1.3 77 0 0 727.5 177.3ZM749.0 165.7A4.8 1.3 60 0 0 753.7 174.1A4.8 1.3 60 0 0 749.0 165.7ZM753.9 163.1A5.2 1.3 66 0 0 758.1 172.6A5.2 1.3 66 0 0 753.9 163.1ZM692.7 213.7A4.4 1.3 64 0 0 696.5 221.6A4.4 1.3 64 0 0 692.7 213.7ZM704.1 203.2A4.7 1.3 57 0 0 709.2 211.2A4.7 1.3 57 0 0 704.1 203.2ZM739.7 186.2A5.7 1.3 58 0 0 745.6 195.9A5.7 1.3 58 0 0 739.7 186.2ZM742.2 187.2A5.3 1.3 45 0 0 749.6 194.8A5.3 1.3 45 0 0 742.2 187.2ZM753.0 182.0A5.3 1.3 55 0 0 758.9 190.7A5.3 1.3 55 0 0 753.0 182.0ZM760.1 181.1A5.0 1.3 40 0 0 767.8 187.5A5.0 1.3 40 0 0 760.1 181.1ZM690.6 222.5A5.2 1.3 57 0 0 696.2 231.3A5.2 1.3 57 0 0 690.6 222.5ZM702.7 217.9A4.8 1.3 46 0 0 709.2 224.9A4.8 1.3 46 0 0 702.7 217.9ZM704.8 216.6A4.9 1.3 45 0 0 711.6 223.6A4.9 1.3 45 0 0 704.8 216.6ZM728.4 209.5A4.3 1.3 56 0 0 733.1 216.6A4.3 1.3 56 0 0 728.4 209.5ZM741.7 204.6A4.5 1.3 51 0 0 747.3 211.6A4.5 1.3 51 0 0 741.7 204.6ZM744.3 201.6A5.8 1.3 59 0 0 750.2 211.5A5.8 1.3 59 0 0 744.3 201.6ZM752.3 201.3A4.7 1.3 56 0 0 757.3 209.1A4.7 1.3 56 0 0 752.3 201.3ZM758.3 197.8A4.7 1.3 59 0 0 763.0 205.8A4.7 1.3 59 0 0 758.3 197.8ZM761.6 193.8A4.5 1.3 62 0 0 765.7 201.8A4.5 1.3 62 0 0 761.6 193.8ZM694.2 239.8A4.8 1.3 55 0 0 699.6 247.7A4.8 1.3 55 0 0 694.2 239.8ZM700.5 237.1A4.7 1.3 61 0 0 705.0 245.4A4.7 1.3 61 0 0 700.5 237.1ZM722.5 229.9A4.3 1.3 69 0 0 725.6 237.9A4.3 1.3 69 0 0 722.5 229.9ZM725.7 229.0A5.0 1.3 63 0 0 730.3 238.0A5.0 1.3 63 0 0 725.7 229.0ZM728.2 227.0A4.5 1.3 65 0 0 731.9 235.3A4.5 1.3 65 0 0 728.2 227.0ZM731.5 226.6A5.1 1.3 63 0 0 736.2 235.8A5.1 1.3 63 0 0 731.5 226.6ZM742.9 218.5A4.6 1.3 76 0 0 745.1 227.5A4.6 1.3 76 0 0 742.9 218.5ZM747.3 214.7A5.4 1.3 69 0 0 751.0 224.8A5.4 1.3 69 0 0 747.3 214.7ZM758.2 207.2A4.8 1.3 65 0 0 762.1 215.9A4.8 1.3 65 0 0 758.2 207.2ZM716.4 246.1A5.1 1.3 69 0 0 720.1 255.8A5.1 1.3 69 0 0 716.4 246.1ZM726.6 238.9A4.5 1.3 69 0 0 729.8 247.2A4.5 1.3 69 0 0 726.6 238.9ZM729.3 235.2A5.6 1.3 77 0 0 731.6 246.1A5.6 1.3 77 0 0 729.3 235.2ZM737.6 229.2A5.8 1.3 72 0 0 741.2 240.2A5.8 1.3 72 0 0 737.6 229.2ZM738.4 229.0A5.2 1.3 60 0 0 743.5 238.0A5.2 1.3 60 0 0 738.4 229.0ZM747.4 223.1A4.7 1.3 70 0 0 750.4 232.0A4.7 1.3 70 0 0 747.4 223.1ZM731.2 239.5A4.6 1.3 65 0 0 735.0 247.8A4.6 1.3 65 0 0 731.2 239.5ZM735.4 235.4A5.8 1.3 59 0 0 741.2 245.4A5.8 1.3 59 0 0 735.4 235.4ZM739.6 235.1A4.9 1.3 52 0 0 745.5 242.8A4.9 1.3 52 0 0 739.6 235.1ZM741.6 235.0A4.8 1.3 44 0 0 748.5 241.8A4.8 1.3 44 0 0 741.6 235.0ZM744.6 232.4A5.7 1.3 55 0 0 751.0 241.8A5.7 1.3 55 0 0 744.6 232.4ZM751.4 229.1A5.4 1.3 63 0 0 756.3 238.9A5.4 1.3 63 0 0 751.4 229.1ZM754.4 230.7A4.3 1.3 51 0 0 759.8 237.5A4.3 1.3 51 0 0 754.4 230.7ZM756.9 229.9A4.6 1.3 50 0 0 762.8 236.9A4.6 1.3 50 0 0 756.9 229.9ZM766.7 151.5A4.8 1.3 88 0 0 767.0 161.2A4.8 1.3 88 0 0 766.7 151.5ZM785.0 146.7A5.1 1.3 105 0 0 782.3 156.5A5.1 1.3 105 0 0 785.0 146.7ZM796.4 142.4A4.7 1.3 92 0 0 796.0 151.8A4.7 1.3 92 0 0 796.4 142.4ZM800.9 140.0A5.7 1.3 90 0 0 800.8 151.4A5.7 1.3 90 0 0 800.9 140.0ZM804.3 140.1A5.6 1.3 89 0 0 804.5 151.3A5.6 1.3 89 0 0 804.3 140.1ZM810.6 139.7A5.1 1.3 84 0 0 811.5 149.9A5.1 1.3 84 0 0 810.6 139.7ZM826.4 140.0A4.7 1.3 86 0 0 826.9 149.4A4.7 1.3 86 0 0 826.4 140.0ZM772.2 162.1A4.6 1.3 93 0 0 771.6 171.2A4.6 1.3 93 0 0 772.2 162.1ZM779.6 158.9A5.6 1.3 100 0 0 777.6 170.0A5.6 1.3 100 0 0 779.6 158.9ZM780.6 158.6A5.5 1.3 80 0 0 782.4 169.6A5.5 1.3 80 0 0 780.6 158.6ZM796.7 156.6A5.8 1.3 79 0 0 798.9 168.1A5.8 1.3 79 0 0 796.7 156.6ZM800.0 157.3A5.8 1.3 82 0 0 801.5 168.9A5.8 1.3 82 0 0 800.0 157.3ZM813.7 159.3A5.5 1.3 78 0 0 815.8 170.1A5.5 1.3 78 0 0 813.7 159.3ZM816.5 159.9A4.5 1.3 78 0 0 818.3 168.7A4.5 1.3 78 0 0 816.5 159.9ZM819.4 160.3A5.1 1.3 67 0 0 823.3 169.6A5.1 1.3 67 0 0 819.4 160.3ZM821.4 159.9A5.4 1.3 70 0 0 824.9 170.1A5.4 1.3 70 0 0 821.4 159.9ZM825.6 162.3A4.5 1.3 68 0 0 828.9 170.7A4.5 1.3 68 0 0 825.6 162.3ZM843.8 159.3A5.3 1.3 66 0 0 848.0 169.1A5.3 1.3 66 0 0 843.8 159.3ZM854.1 156.2A5.5 1.3 79 0 0 856.2 166.9A5.5 1.3 79 0 0 854.1 156.2ZM857.5 156.5A4.9 1.3 71 0 0 860.6 165.9A4.9 1.3 71 0 0 857.5 156.5ZM867.7 154.0A4.5 1.3 80 0 0 869.2 162.9A4.5 1.3 80 0 0 867.7 154.0ZM875.8 149.4A5.7 1.3 75 0 0 878.6 160.5A5.7 1.3 75 0 0 875.8 149.4ZM880.0 148.0A4.5 1.3 88 0 0 880.2 157.1A4.5 1.3 88 0 0 880.0 148.0ZM889.3 146.5A4.6 1.3 87 0 0 889.6 155.7A4.6 1.3 87 0 0 889.3 146.5ZM902.8 145.7A5.3 1.3 104 0 0 900.0 156.0A5.3 1.3 104 0 0 902.8 145.7ZM906.4 144.4A5.5 1.3 95 0 0 905.3 155.3A5.5 1.3 95 0 0 906.4 144.4ZM916.0 145.7A5.6 1.3 98 0 0 914.3 156.8A5.6 1.3 98 0 0 916.0 145.7ZM918.7 146.7A5.5 1.3 100 0 0 916.8 157.5A5.5 1.3 100 0 0 918.7 146.7ZM926.3 146.2A5.1 1.3 96 0 0 925.1 156.3A5.1 1.3 96 0 0 926.3 146.2ZM761.1 170.4A5.2 1.3 74 0 0 763.9 180.4A5.2 1.3 74 0 0 761.1 170.4ZM765.1 170.6A4.9 1.3 87 0 0 765.5 180.3A4.9 1.3 87 0 0 765.1 170.6ZM768.7 171.2A4.9 1.3 86 0 0 769.2 181.0A4.9 1.3 86 0 0 768.7 171.2ZM771.4 169.7A4.8 1.3 95 0 0 770.5 179.2A4.8 1.3 95 0 0 771.4 169.7ZM785.8 170.5A5.6 1.3 70 0 0 789.5 181.2A5.6 1.3 70 0 0 785.8 170.5ZM799.3 172.5A5.6 1.3 67 0 0 803.7 182.9A5.6 1.3 67 0 0 799.3 172.5ZM801.9 173.4A4.6 1.3 68 0 0 805.3 182.0A4.6 1.3 68 0 0 801.9 173.4ZM809.8 174.1A4.8 1.3 77 0 0 812.0 183.5A4.8 1.3 77 0 0 809.8 174.1ZM819.2 173.0A4.4 1.3 75 0 0 821.4 181.7A4.4 1.3 75 0 0 819.2 173.0ZM836.9 168.1A5.2 1.3 93 0 0 836.3 178.5A5.2 1.3 93 0 0 836.9 168.1ZM838.4 168.8A4.8 1.3 80 0 0 840.0 178.3A4.8 1.3 80 0 0 838.4 168.8ZM848.1 164.3A4.9 1.3 85 0 0 848.8 173.9A4.9 1.3 85 0 0 848.1 164.3ZM850.7 163.1A4.8 1.3 81 0 0 852.1 172.5A4.8 1.3 81 0 0 850.7 163.1ZM864.4 158.7A5.6 1.3 91 0 0 864.1 169.9A5.6 1.3 91 0 0 864.4 158.7ZM867.4 158.6A5.3 1.3 96 0 0 866.1 169.1A5.3 1.3 96 0 0 867.4 158.6ZM877.7 156.8A5.8 1.3 98 0 0 876.0 168.2A5.8 1.3 98 0 0 877.7 156.8ZM888.8 156.6A5.4 1.3 91 0 0 888.5 167.5A5.4 1.3 91 0 0 888.8 156.6ZM903.3 159.5A4.5 1.3 95 0 0 902.4 168.4A4.5 1.3 95 0 0 903.3 159.5ZM908.4 158.0A5.8 1.3 90 0 0 908.3 169.7A5.8 1.3 90 0 0 908.4 158.0ZM910.9 158.9A5.2 1.3 71 0 0 914.1 168.9A5.2 1.3 71 0 0 910.9 158.9ZM916.7 158.5A5.2 1.3 69 0 0 920.3 168.1A5.2 1.3 69 0 0 916.7 158.5ZM923.5 158.7A4.9 1.3 68 0 0 927.0 167.8A4.9 1.3 68 0 0 923.5 158.7ZM781.5 194.3A5.3 1.3 77 0 0 783.8 204.6A5.3 1.3 77 0 0 781.5 194.3ZM783.6 195.5A5.3 1.3 72 0 0 786.7 205.6A5.3 1.3 72 0 0 783.6 195.5ZM788.4 195.5A5.4 1.3 77 0 0 790.7 206.0A5.4 1.3 77 0 0 788.4 195.5ZM801.6 194.1A5.3 1.3 77 0 0 803.9 204.5A5.3 1.3 77 0 0 801.6 194.1ZM823.5 185.2A5.7 1.3 86 0 0 824.2 196.6A5.7 1.3 86 0 0 823.5 185.2ZM843.4 179.6A5.4 1.3 94 0 0 842.4 190.4A5.4 1.3 94 0 0 843.4 179.6ZM864.8 178.5A4.9 1.3 93 0 0 864.2 188.3A4.9 1.3 93 0 0 864.8 178.5ZM875.3 180.5A4.4 1.3 69 0 0 878.4 188.7A4.4 1.3 69 0 0 875.3 180.5ZM895.9 179.3A5.6 1.3 79 0 0 898.1 190.3A5.6 1.3 79 0 0 895.9 179.3ZM911.3 176.7A4.8 1.3 65 0 0 915.3 185.4A4.8 1.3 65 0 0 911.3 176.7ZM923.6 172.8A5.5 1.3 72 0 0 926.9 183.3A5.5 1.3 72 0 0 923.6 172.8ZM761.1 209.0A5.7 1.3 81 0 0 762.7 220.2A5.7 1.3 81 0 0 761.1 209.0ZM778.4 209.3A4.6 1.3 86 0 0 778.9 218.6A4.6 1.3 86 0 0 778.4 209.3ZM785.4 208.5A5.1 1.3 85 0 0 786.3 218.7A5.1 1.3 85 0 0 785.4 208.5ZM788.9 206.4A4.7 1.3 91 0 0 788.6 215.8A4.7 1.3 91 0 0 788.9 206.4ZM792.1 206.1A5.0 1.3 96 0 0 790.9 215.9A5.0 1.3 96 0 0 792.1 206.1ZM792.4 205.7A4.4 1.3 82 0 0 793.5 214.5A4.4 1.3 82 0 0 792.4 205.7ZM796.5 204.1A5.2 1.3 94 0 0 795.6 214.6A5.2 1.3 94 0 0 796.5 204.1ZM803.3 200.7A5.2 1.3 95 0 0 802.4 211.0A5.2 1.3 95 0 0 803.3 200.7ZM806.6 200.7A4.4 1.3 98 0 0 805.3 209.3A4.4 1.3 98 0 0 806.6 200.7ZM809.8 198.7A4.5 1.3 100 0 0 808.2 207.5A4.5 1.3 100 0 0 809.8 198.7ZM811.7 198.7A5.0 1.3 87 0 0 812.1 208.6A5.0 1.3 87 0 0 811.7 198.7ZM818.6 194.8A5.9 1.3 91 0 0 818.2 206.5A5.9 1.3 91 0 0 818.6 194.8ZM822.2 194.7A5.1 1.3 99 0 0 820.5 204.6A5.1 1.3 99 0 0 822.2 194.7ZM830.3 194.3A4.3 1.3 89 0 0 830.3 202.9A4.3 1.3 89 0 0 830.3 194.3ZM837.9 191.7A5.7 1.3 98 0 0 836.2 202.9A5.7 1.3 98 0 0 837.9 191.7ZM840.2 191.8A5.4 1.3 83 0 0 841.4 202.6A5.4 1.3 83 0 0 840.2 191.8ZM842.7 193.1A4.4 1.3 83 0 0 843.6 201.8A4.4 1.3 83 0 0 842.7 193.1ZM846.1 191.9A5.3 1.3 75 0 0 848.8 202.2A5.3 1.3 75 0 0 846.1 191.9ZM855.5 194.6A4.6 1.3 77 0 0 857.5 203.5A4.6 1.3 77 0 0 855.5 194.6ZM862.0 194.2A4.6 1.3 69 0 0 865.3 202.9A4.6 1.3 69 0 0 862.0 194.2ZM871.3 193.7A5.3 1.3 75 0 0 874.0 203.9A5.3 1.3 75 0 0 871.3 193.7ZM882.5 193.9A4.9 1.3 76 0 0 884.7 203.4A4.9 1.3 76 0 0 882.5 193.9ZM883.2 192.0A5.4 1.3 72 0 0 886.4 202.2A5.4 1.3 72 0 0 883.2 192.0ZM892.7 190.1A5.2 1.3 64 0 0 897.3 199.5A5.2 1.3 64 0 0 892.7 190.1ZM900.3 188.0A4.5 1.3 78 0 0 902.2 196.8A4.5 1.3 78 0 0 900.3 188.0ZM908.7 184.1A4.3 1.3 73 0 0 911.1 192.3A4.3 1.3 73 0 0 908.7 184.1ZM913.2 182.2A5.5 1.3 79 0 0 915.2 193.0A5.5 1.3 79 0 0 913.2 182.2ZM762.7 223.6A5.8 1.3 94 0 0 761.7 235.2A5.8 1.3 94 0 0 762.7 223.6ZM771.3 222.4A4.9 1.3 91 0 0 771.0 232.3A4.9 1.3 91 0 0 771.3 222.4ZM777.5 219.6A5.3 1.3 90 0 0 777.4 230.2A5.3 1.3 90 0 0 777.5 219.6ZM787.1 215.6A5.5 1.3 89 0 0 787.2 226.5A5.5 1.3 89 0 0 787.1 215.6ZM796.6 212.2A5.3 1.3 95 0 0 795.6 222.7A5.3 1.3 95 0 0 796.6 212.2ZM833.2 209.5A5.7 1.3 81 0 0 834.9 220.8A5.7 1.3 81 0 0 833.2 209.5ZM849.7 210.5A4.5 1.3 77 0 0 851.7 219.4A4.5 1.3 77 0 0 849.7 210.5ZM855.2 210.7A5.1 1.3 60 0 0 860.2 219.6A5.1 1.3 60 0 0 855.2 210.7ZM869.1 206.7A5.2 1.3 85 0 0 870.0 217.1A5.2 1.3 85 0 0 869.1 206.7ZM880.3 202.8A5.3 1.3 75 0 0 883.0 213.1A5.3 1.3 75 0 0 880.3 202.8ZM897.0 197.2A4.3 1.3 91 0 0 896.8 205.8A4.3 1.3 91 0 0 897.0 197.2ZM900.0 196.3A4.8 1.3 82 0 0 901.2 205.8A4.8 1.3 82 0 0 900.0 196.3ZM903.1 195.0A4.5 1.3 86 0 0 903.6 204.0A4.5 1.3 86 0 0 903.1 195.0ZM910.2 193.6A4.3 1.3 94 0 0 909.5 202.2A4.3 1.3 94 0 0 910.2 193.6ZM924.1 191.9A5.6 1.3 101 0 0 921.8 203.0A5.6 1.3 101 0 0 924.1 191.9ZM777.7 226.3A4.5 1.3 80 0 0 779.2 235.3A4.5 1.3 80 0 0 777.7 226.3ZM783.0 225.2A4.8 1.3 76 0 0 785.2 234.5A4.8 1.3 76 0 0 783.0 225.2ZM800.2 223.7A5.6 1.3 79 0 0 802.2 234.8A5.6 1.3 79 0 0 800.2 223.7ZM805.5 223.0A4.9 1.3 68 0 0 809.0 232.1A4.9 1.3 68 0 0 805.5 223.0ZM809.6 223.5A5.2 1.3 77 0 0 811.8 233.8A5.2 1.3 77 0 0 809.6 223.5ZM817.8 225.2A4.5 1.3 63 0 0 821.8 233.2A4.5 1.3 63 0 0 817.8 225.2ZM821.6 224.7A5.2 1.3 73 0 0 824.6 234.7A5.2 1.3 73 0 0 821.6 224.7ZM829.2 225.0A4.9 1.3 76 0 0 831.5 234.5A4.9 1.3 76 0 0 829.2 225.0ZM851.8 219.6A4.5 1.3 82 0 0 853.1 228.6A4.5 1.3 82 0 0 851.8 219.6ZM856.9 217.7A4.7 1.3 82 0 0 858.1 227.0A4.7 1.3 82 0 0 856.9 217.7ZM866.1 213.7A4.5 1.3 83 0 0 867.2 222.6A4.5 1.3 83 0 0 866.1 213.7ZM876.7 210.5A4.6 1.3 100 0 0 875.1 219.7A4.6 1.3 100 0 0 876.7 210.5ZM882.9 207.8A5.1 1.3 98 0 0 881.4 217.9A5.1 1.3 98 0 0 882.9 207.8ZM886.8 206.5A5.2 1.3 93 0 0 886.1 216.9A5.2 1.3 93 0 0 886.8 206.5ZM889.4 207.0A4.7 1.3 93 0 0 888.7 216.3A4.7 1.3 93 0 0 889.4 207.0ZM891.8 206.1A4.7 1.3 92 0 0 891.4 215.6A4.7 1.3 92 0 0 891.8 206.1ZM904.4 205.4A5.1 1.3 89 0 0 904.4 215.6A5.1 1.3 89 0 0 904.4 205.4ZM908.5 205.1A4.8 1.3 91 0 0 908.2 214.7A4.8 1.3 91 0 0 908.5 205.1ZM768.1 240.2A5.0 1.3 68 0 0 771.8 249.5A5.0 1.3 68 0 0 768.1 240.2ZM772.8 240.9A4.7 1.3 76 0 0 775.1 250.1A4.7 1.3 76 0 0 772.8 240.9ZM774.9 240.5A5.2 1.3 72 0 0 778.1 250.4A5.2 1.3 72 0 0 774.9 240.5ZM785.3 240.9A4.6 1.3 77 0 0 787.2 250.0A4.6 1.3 77 0 0 785.3 240.9ZM817.1 239.4A5.8 1.3 71 0 0 820.8 250.4A5.8 1.3 71 0 0 817.1 239.4ZM824.4 238.0A4.9 1.3 81 0 0 825.8 247.8A4.9 1.3 81 0 0 824.4 238.0ZM830.7 235.4A5.6 1.3 86 0 0 831.5 246.5A5.6 1.3 86 0 0 830.7 235.4ZM835.3 235.5A4.4 1.3 92 0 0 834.8 244.4A4.4 1.3 92 0 0 835.3 235.5ZM855.3 225.9A5.4 1.3 91 0 0 855.0 236.6A5.4 1.3 91 0 0 855.3 225.9ZM860.2 226.1A5.1 1.3 100 0 0 858.3 236.2A5.1 1.3 100 0 0 860.2 226.1ZM865.0 224.8A5.1 1.3 95 0 0 864.0 235.0A5.1 1.3 95 0 0 865.0 224.8ZM871.7 223.4A5.1 1.3 90 0 0 871.5 233.5A5.1 1.3 90 0 0 871.7 223.4ZM880.7 222.1A4.6 1.3 89 0 0 880.8 231.4A4.6 1.3 89 0 0 880.7 222.1ZM894.4 223.6A5.1 1.3 85 0 0 895.2 233.7A5.1 1.3 85 0 0 894.4 223.6ZM899.2 223.5A5.8 1.3 80 0 0 901.1 235.1A5.8 1.3 80 0 0 899.2 223.5ZM902.5 224.4A5.6 1.3 78 0 0 904.8 235.4A5.6 1.3 78 0 0 902.5 224.4ZM906.4 225.4A4.6 1.3 77 0 0 908.4 234.4A4.6 1.3 77 0 0 906.4 225.4ZM910.9 224.2A5.6 1.3 67 0 0 915.3 234.6A5.6 1.3 67 0 0 910.9 224.2ZM914.7 225.1A4.7 1.3 65 0 0 918.6 233.6A4.7 1.3 65 0 0 914.7 225.1ZM875.5 241.4A5.8 1.3 72 0 0 879.1 252.5A5.8 1.3 72 0 0 875.5 241.4ZM879.4 243.5A4.7 1.3 71 0 0 882.4 252.4A4.7 1.3 71 0 0 879.4 243.5ZM902.3 240.3A5.7 1.3 73 0 0 905.5 251.2A5.7 1.3 73 0 0 902.3 240.3ZM905.5 239.9A5.5 1.3 67 0 0 909.7 250.0A5.5 1.3 67 0 0 905.5 239.9ZM909.0 239.7A4.9 1.3 71 0 0 912.2 249.1A4.9 1.3 71 0 0 909.0 239.7ZM914.4 238.0A4.6 1.3 67 0 0 917.9 246.5A4.6 1.3 67 0 0 914.4 238.0ZM923.3 235.7A4.9 1.3 84 0 0 924.2 245.4A4.9 1.3 84 0 0 923.3 235.7Z" fill="#d4d48e" opacity="0.95"/>
<path d="M704.4 42.4l-3.4 1.3M709.1 46.5l-3.8 0.5M705.7 50.4l-2.2 0.6M706.3 67.8l-4.5 1.0M707.5 70.1l-5.3 1.3M709.1 75.2l-2.8 1.6M710.1 78.0l-2.6 0.9M711.0 82.9l-3.3 1.1M710.8 91.0l-3.9 1.3M713.9 94.7l-2.5 0.2M710.7 99.3l-3.3 1.1M713.4 106.8l-4.8 -0.0M708.3 48.0l3.6 1.2M712.0 45.6l2.9 1.9M713.0 43.7l2.8 1.1M707.3 61.6l2.6 2.8M713.1 61.9l1.5 1.7M715.1 58.5l2.2 1.8M718.1 56.7l2.2 2.0M719.1 52.1l2.0 2.0M725.9 48.4l1.1 1.1M726.1 45.2l2.2 2.2M730.4 44.9l2.4 2.4M713.9 93.5l3.5 2.0M713.1 89.5l2.0 1.6M716.9 88.0l3.3 2.3M723.4 79.9l1.7 1.5M726.6 77.6l1.9 1.9M733.3 75.1l1.2 0.9M732.3 69.7l2.9 2.0M735.4 67.8l1.7 1.0M739.0 65.5l1.3 0.8M743.0 60.8l2.8 2.0M742.0 55.8l1.8 1.5M745.7 49.7l2.5 1.8M750.2 48.2l2.6 1.9M750.7 45.6l3.6 1.8M713.8 109.0l4.3 1.2M716.3 105.8l2.7 0.8M724.2 101.6l1.9 0.9M726.3 91.2l2.6 1.3M728.4 89.8l1.8 0.6M727.8 86.0l3.6 1.1M733.6 84.3l3.4 1.7M734.0 81.1l2.3 1.2M735.6 77.5l3.3 1.3M743.3 64.2l1.5 0.9M743.8 63.8l1.8 0.6M746.3 60.0l1.7 0.9M749.5 58.4l1.5 0.8M751.8 55.3l1.8 0.9M753.0 48.0l2.7 1.2M754.4 45.9l2.1 1.1M756.4 42.9l2.6 1.1M715.8 131.7l1.6 1.0M716.2 123.7l2.9 1.5M719.6 121.8l1.3 0.9M723.7 115.5l2.7 1.7M722.9 111.4l2.2 2.0M723.8 107.9l3.1 1.6M725.7 105.3l1.5 0.8M729.9 105.0l2.6 1.5M731.6 101.3l2.3 1.8M730.3 95.8l2.3 2.0M733.7 94.3l2.7 1.3M737.2 92.7l2.3 1.0M739.0 88.7l2.3 0.9M743.6 87.7l2.0 1.0M744.0 85.9l2.3 1.1M745.3 82.3l2.4 1.6M746.8 79.2l2.5 1.4M756.0 68.6l1.3 1.2M764.0 61.4l1.8 1.2M766.2 58.9l3.2 2.0M773.6 56.1l3.3 1.9M775.3 47.9l2.2 2.0M780.7 48.2l2.8 1.8M783.3 45.7l2.3 1.8M716.0 141.3l2.8 2.4M718.6 138.8l1.7 1.7M721.9 137.9l1.6 1.8M721.5 132.3l2.5 2.6M724.7 129.5l1.0 1.5M727.1 128.3l1.5 1.5M732.2 123.8l2.3 2.8M732.5 118.5l1.9 2.5M736.3 118.3l1.8 2.1M738.9 116.7l2.9 2.2M740.0 110.9l1.2 1.8M746.4 109.6l1.7 2.0M753.7 96.2l2.0 2.4M759.8 93.1l1.6 1.6M761.1 90.7l2.2 3.8M765.6 83.2l1.6 2.1M775.0 75.4l1.6 2.2M779.5 68.9l1.9 3.5M780.5 65.7l2.5 2.3M786.5 62.3l1.0 1.2M787.2 57.9l2.8 2.8M789.7 56.8l2.1 2.8M790.8 52.0l1.9 1.8M796.0 43.7l1.4 1.4M739.2 145.6l2.5 1.8M745.2 136.5l2.8 1.4M747.9 134.3l2.7 1.0M750.1 132.7l1.5 0.8M752.0 128.8l3.2 1.6M752.4 122.2l3.2 1.7M757.4 120.5l2.5 1.9M759.0 116.8l3.1 2.1M769.3 99.4l2.3 1.7M770.9 96.6l2.2 0.8M773.9 93.6l3.1 1.8M774.1 87.4l2.8 2.8M777.2 84.3l2.0 1.6M781.3 78.8l2.9 1.3M784.9 76.8l1.3 0.9M783.2 71.3l2.4 1.7M789.3 68.2l3.3 2.3M791.6 66.1l1.6 1.1M792.8 61.9l1.8 1.2M794.5 54.8l2.2 1.7M798.4 53.5l2.2 1.7M799.6 49.6l1.8 1.1M802.5 46.5l3.1 2.6M758.3 147.0l2.5 1.4M760.3 142.4l1.3 0.9M760.1 138.1l2.7 0.6M766.3 129.7l3.3 1.8M764.5 126.9l2.6 0.7M768.2 123.3l2.1 1.2M770.6 121.5l2.5 0.7M770.2 118.5l3.1 0.7M773.2 114.8l3.2 1.0M777.1 109.8l4.1 1.7M778.1 107.1l2.2 0.7M783.2 105.2l3.0 1.3M785.7 95.4l3.1 1.7M789.7 92.8l2.6 1.6M792.1 89.8l2.8 1.0M793.1 88.2l3.8 1.6M797.9 82.0l2.3 1.2M803.6 78.3l2.9 1.0M767.5 142.8l3.0 2.1M774.2 129.5l1.6 2.4M776.3 128.8l2.0 1.1M787.0 119.5l1.9 1.5M787.7 114.6l2.4 2.0M791.7 114.3l2.0 2.1M798.9 105.3l1.3 1.2M802.4 97.7l2.3 1.7M806.7 96.7l1.7 1.1M797.2 140.3l3.2 1.4M798.4 137.8l1.4 1.4M801.5 135.2l2.8 2.5M804.4 124.9l1.9 1.7M918.0 41.5l-3.3 0.1M924.3 48.3l-4.9 1.2M919.2 59.9l-2.9 0.1M919.9 67.3l-5.0 1.3M920.8 74.4l-2.8 -0.4M923.0 82.0l-4.3 0.1M922.9 85.7l-4.0 0.4M926.1 92.4l-2.7 -0.2M927.3 95.9l-3.6 -0.2M924.7 103.3l-3.5 -0.2M926.8 111.7l-2.5 -0.9M925.8 114.3l-4.9 -1.3M924.5 118.5l-2.5 -0.4M925.2 122.7l-3.8 -1.6M924.0 126.2l-2.7 -1.5M922.8 132.6l-2.3 -0.9M922.9 140.1l-3.5 -1.9M902.8 48.1l-3.3 0.4M902.6 55.2l-2.9 0.1M903.0 65.4l-4.2 0.8M901.2 69.4l-2.9 0.2M907.5 72.9l-5.6 -0.6M902.6 76.6l-5.2 -0.0M904.7 83.7l-3.9 -0.2M907.9 90.2l-4.3 -0.7M907.4 95.3l-4.0 -0.9M906.3 98.7l-4.0 -1.7M906.8 101.6l-4.1 -1.1M907.5 105.1l-3.3 -1.7M904.1 108.3l-3.4 -1.3M906.5 112.9l-3.2 -1.0M910.8 116.6l-4.5 -0.9M905.5 124.2l-5.1 -2.0M905.6 131.9l-3.9 -0.9M904.8 135.2l-3.8 -1.0M903.1 142.8l-4.5 -1.4M904.0 145.3l-3.6 -1.5M880.9 43.7l-3.6 0.5M879.7 54.1l-2.7 0.4M884.4 68.8l-4.4 -0.1M884.0 72.7l-4.5 0.1M880.2 75.6l-2.3 -0.2M887.9 83.5l-5.2 -1.2M887.3 90.5l-5.6 -0.8M887.3 94.4l-2.0 -0.8M884.2 101.5l-3.0 -0.8M886.0 104.2l-3.6 -1.0M889.7 111.8l-5.5 -0.7M887.0 115.8l-2.4 -0.7M882.8 130.0l-4.1 -2.3M886.3 137.9l-2.0 -0.7M885.4 141.2l-4.6 -0.8M882.2 144.4l-5.8 -0.8M865.0 65.2l-4.8 0.3M863.2 68.0l-3.7 0.2M864.2 78.0l-3.7 0.0M866.7 94.0l-2.3 0.0M870.4 97.2l-4.7 -0.6M870.4 108.7l-4.2 -0.9M867.0 114.8l-2.4 -0.6M867.8 127.1l-2.6 -1.1M866.6 129.7l-4.0 -0.7M865.5 134.0l-3.3 -1.3M864.5 136.3l-5.6 -1.7M860.7 140.1l-2.6 -1.1M865.2 147.9l-4.3 -0.7M841.4 44.6l-3.9 0.2M841.5 48.6l-2.8 0.8M843.8 55.6l-3.5 0.0M843.2 61.8l-2.8 0.2M845.7 69.8l-2.6 0.1M845.7 77.0l-2.7 0.2M844.7 80.4l-3.0 -0.2M848.9 84.8l-4.5 -0.5M848.0 92.3l-3.1 -0.5M849.8 105.9l-3.2 -0.4M848.2 109.3l-2.4 -0.7M847.9 113.4l-4.7 -0.9M847.0 127.5l-4.4 -1.2M843.7 131.4l-4.6 -1.0M825.2 44.5l-4.5 0.7M826.1 51.4l-5.2 0.2M825.6 55.0l-5.0 -0.1M827.2 58.3l-2.2 0.4M824.7 62.8l-4.2 0.1M824.4 70.4l-2.3 0.1M824.9 73.5l-4.8 0.1M830.9 78.4l-3.9 -1.4M827.7 83.2l-4.1 -0.0M831.2 87.7l-4.0 -0.6M828.6 98.4l-3.4 -0.5M832.8 107.0l-5.3 -1.9M828.2 109.3l-2.8 -1.1M831.8 114.3l-2.5 -1.0M832.3 121.6l-3.7 -1.8M831.2 124.9l-4.6 -2.0M830.0 127.8l-2.8 -0.7M827.1 132.1l-2.8 -1.1M825.3 134.1l-3.0 -0.5M827.2 138.7l-2.5 -0.9M827.9 142.7l-4.3 -1.1M805.5 43.4l-2.7 0.3M803.9 55.6l-4.2 0.2M804.4 61.6l-2.8 -0.1M805.5 65.2l-3.2 0.2M805.6 68.9l-3.9 -0.2M808.9 76.4l-3.5 -0.6M810.3 83.8l-3.6 -0.7M810.5 87.8l-4.2 -0.3M810.3 93.9l-2.8 -1.2M815.4 98.3l-4.1 -0.9M813.3 105.2l-5.3 -1.2M811.4 109.0l-2.6 -1.2M813.8 112.3l-4.8 -0.7M811.7 116.5l-3.3 -1.3M813.8 128.4l-4.3 -1.1M813.7 132.0l-5.3 -1.5M810.9 134.9l-3.3 -1.2M809.8 138.6l-4.7 -0.9M807.6 141.2l-4.4 -1.6M806.0 144.8l-3.4 -0.3M693.1 152.8l1.0 3.0M694.0 148.7l1.1 1.8M700.9 146.7l0.8 2.0M704.1 146.5l1.4 2.8M705.3 145.3l1.4 1.8M693.6 173.5l2.2 3.1M697.5 172.9l1.4 1.8M700.2 171.7l1.7 1.6M704.8 170.4l1.4 1.6M706.0 167.6l1.4 2.0M709.4 168.0l2.2 2.5M712.7 167.9l1.2 1.3M715.7 164.2l1.7 2.7M718.6 163.3l1.9 3.2M722.3 164.2l1.7 3.5M724.6 162.0l1.7 2.9M727.6 161.8l1.4 3.0M732.1 162.0l1.2 2.3M732.8 157.5l2.2 2.0M736.6 157.9l2.0 3.9M737.8 154.0l1.7 2.7M742.7 155.4l1.5 3.1M747.3 151.5l1.1 2.1M703.0 185.4l1.0 1.4M707.9 180.9l1.0 3.1M712.5 182.7l0.8 1.8M714.8 180.9l0.3 2.1M717.4 177.6l1.8 3.3M719.9 177.6l0.9 2.8M730.2 167.9l1.0 3.1M735.8 164.7l1.4 2.8M738.8 164.8l0.8 1.8M741.6 162.6l0.8 1.8M744.2 159.0l0.4 1.5M744.8 156.2l1.4 2.9M748.4 154.9l0.3 1.6M750.5 154.5l0.5 2.8M762.3 147.8l0.5 3.5M698.2 205.7l0.3 2.4M700.5 204.1l0.8 2.4M705.1 197.9l0.7 2.3M708.3 198.6l0.6 2.1M710.9 195.6l0.2 1.6M714.7 191.3l0.7 2.3M719.5 186.7l1.0 2.9M723.3 185.2l1.2 2.9M724.7 182.6l0.9 2.4M728.7 182.6l0.3 1.4M729.9 178.3l1.2 2.5M736.9 174.7l0.4 2.2M741.3 171.6l0.8 2.5M754.1 168.5l1.1 2.1M755.1 165.7l1.5 3.5M760.6 165.8l0.7 3.3M697.2 214.9l1.9 3.0M699.1 213.8l0.8 1.5M701.8 209.9l1.2 1.9M706.0 206.2l1.3 2.0M712.2 203.3l1.3 1.3M717.5 199.6l2.0 2.8M719.4 196.3l1.2 1.8M723.1 195.9l0.9 1.3M732.9 192.8l2.1 2.4M734.7 191.5l2.1 3.0M737.1 190.0l2.3 2.1M758.4 186.6l1.8 2.6M759.5 184.0l1.6 1.9M761.5 182.3l2.9 2.4M693.0 226.3l1.6 2.5M694.9 223.2l2.4 2.7M697.5 224.1l1.6 1.2M702.2 222.3l0.9 1.4M705.1 220.5l1.6 1.7M708.0 215.6l2.1 2.3M712.6 217.1l2.3 1.7M717.7 214.1l1.7 2.7M721.5 213.1l2.4 3.1M725.7 212.4l2.0 2.7M730.7 213.0l1.1 1.7M731.4 209.4l1.3 1.9M737.4 208.2l1.3 1.5M742.1 208.0l0.9 2.0M750.4 204.1l1.4 2.7M756.9 201.9l1.0 2.6M760.4 201.3l1.6 2.8M763.3 200.3l0.7 1.6M692.4 243.3l2.1 2.9M696.0 242.4l1.0 1.5M699.9 241.4l1.5 1.6M701.8 239.5l1.1 2.0M704.7 238.1l1.4 2.3M707.9 237.9l1.1 1.9M717.3 234.1l1.4 2.5M720.4 236.4l1.0 1.9M723.4 232.3l1.0 2.7M727.9 233.2l1.7 3.4M730.2 231.5l1.2 2.6M732.3 228.2l1.5 2.9M736.7 229.1l0.6 1.7M738.7 226.4l0.7 2.3M743.8 222.4l0.4 1.7M748.8 218.7l0.7 1.9M750.5 216.4l0.6 2.3M754.3 216.2l0.3 1.8M758.9 208.7l1.2 2.7M717.7 249.5l1.0 2.6M719.2 246.1l1.0 3.8M722.6 245.3l1.1 2.3M725.9 245.1l0.8 3.6M728.3 243.3l0.6 1.7M730.3 239.8l0.5 2.5M733.6 239.0l0.7 2.6M735.7 235.3l0.4 2.3M738.2 230.8l1.1 3.3M743.6 230.2l0.5 1.9M746.3 228.4l1.1 3.1M748.8 227.3l0.6 1.8M732.8 243.1l1.2 2.7M738.3 240.4l1.7 3.0M743.0 239.5l1.0 1.3M744.2 237.6l1.4 1.4M749.6 234.0l0.9 1.4M758.9 232.3l1.7 2.0M773.0 153.0l0.2 3.7M777.0 151.9l0.1 2.2M780.2 149.2l0.0 3.8M783.8 151.0l-0.6 2.3M804.4 144.4l0.0 2.9M811.1 145.5l0.2 1.7M818.0 143.7l-0.0 3.1M824.4 142.8l0.4 2.7M826.7 145.0l0.2 3.4M762.2 167.5l0.3 2.9M766.3 166.7l-0.4 3.2M769.1 164.7l-0.2 2.3M779.0 162.6l-0.4 2.4M790.9 162.6l0.1 2.3M794.8 162.7l0.2 3.6M804.4 164.0l0.1 2.0M806.7 160.5l0.5 1.8M810.0 160.9l0.6 1.8M814.2 162.2l0.4 2.1M817.0 162.4l0.7 3.3M820.4 162.7l1.2 3.0M822.1 161.9l1.3 3.8M827.0 165.9l1.0 2.5M830.2 166.3l0.6 2.0M836.0 166.5l0.3 2.5M839.8 164.0l0.9 2.0M843.4 166.3l0.6 1.7M845.8 164.0l1.0 2.4M854.5 158.1l0.5 2.5M861.2 159.3l0.7 2.8M864.3 156.8l0.6 2.7M868.4 158.0l0.3 1.9M870.9 155.0l0.3 3.2M874.5 152.7l-0.2 3.0M876.4 151.7l0.9 3.7M885.8 150.0l0.4 2.5M889.4 148.4l0.1 2.4M893.5 149.1l-0.5 2.4M895.9 148.0l0.0 2.3M899.2 146.3l-0.0 4.0M908.8 150.0l-0.8 2.6M912.2 150.7l-0.4 3.0M915.4 149.9l-0.5 3.5M918.4 148.7l-0.6 3.5M922.5 148.8l-0.2 3.0M926.0 148.6l-0.4 3.1M765.3 175.5l0.1 2.1M768.8 173.7l0.2 3.2M771.3 171.0l-0.3 3.5M773.9 174.0l0.3 3.4M777.6 172.8l0.3 2.9M782.1 174.3l0.4 2.6M784.3 174.3l0.6 3.8M786.2 171.9l1.4 4.0M790.8 176.0l0.9 2.5M792.8 174.1l0.5 2.8M797.2 177.6l1.2 4.1M808.1 178.7l0.6 2.1M813.9 177.4l1.0 2.2M823.6 173.6l0.5 2.7M826.7 176.2l0.8 2.8M830.0 173.1l1.0 3.7M836.8 169.9l-0.1 2.4M841.8 168.7l0.9 3.1M845.8 171.9l0.1 2.5M848.4 168.8l0.2 3.0M851.4 168.1l0.3 1.9M873.9 161.6l-0.2 3.1M877.1 160.8l-0.4 2.9M879.9 162.5l0.2 1.9M886.1 160.9l-0.5 3.8M895.5 162.9l-0.2 2.0M899.2 159.2l-0.6 3.2M903.0 161.8l-0.3 2.9M908.3 160.8l-0.0 4.3M911.7 161.3l0.6 1.8M914.6 163.1l1.2 3.5M917.9 161.7l1.2 3.1M921.5 164.5l0.7 1.9M924.2 160.5l1.2 3.2M763.2 196.9l0.4 1.9M766.0 196.8l0.9 3.6M769.7 197.8l0.8 2.8M773.8 199.1l1.3 1.9M776.4 198.0l0.4 3.1M779.8 200.2l0.7 1.5M782.1 197.2l0.5 2.5M784.6 199.0l1.1 3.5M793.1 200.7l0.8 2.7M795.7 196.6l0.6 3.3M799.1 200.5l0.1 3.2M805.7 193.5l-0.0 4.0M812.1 195.2l0.4 2.1M819.1 191.1l-0.2 2.3M823.6 186.6l0.2 3.7M827.6 187.9l-0.2 1.6M833.7 185.5l-0.3 3.0M846.0 182.0l0.0 3.2M849.3 182.9l-0.3 3.0M852.8 180.6l-0.1 2.8M854.9 184.0l0.0 2.1M858.6 183.8l0.0 2.6M861.5 181.4l-0.2 3.2M864.5 182.3l-0.2 2.9M875.9 182.1l0.6 1.7M880.8 183.9l0.4 1.8M884.2 184.0l0.2 3.7M891.1 184.3l0.6 3.2M893.0 182.5l0.6 2.1M896.9 184.2l0.6 3.2M900.5 181.7l0.7 2.5M903.6 182.1l0.4 2.8M909.2 181.3l0.7 1.9M912.1 178.5l1.0 2.2M918.6 179.7l0.7 3.0M921.2 177.6l1.1 2.2M761.4 210.7l0.4 3.1M772.2 215.8l0.7 2.4M778.5 211.8l0.2 3.1M791.9 207.9l-0.4 3.2M796.2 207.2l-0.3 3.9M800.0 206.1l0.2 2.0M806.0 204.8l-0.3 1.9M809.2 202.0l-0.5 2.9M811.9 203.3l0.1 2.7M815.3 201.7l-0.1 2.5M821.4 199.1l-0.3 2.1M824.9 200.8l-0.1 1.7M828.3 196.3l-0.3 3.1M843.2 197.9l0.3 2.8M846.6 193.9l0.8 3.2M856.3 198.2l0.5 2.2M863.2 197.4l1.2 3.2M870.2 199.6l1.1 2.2M872.3 197.4l0.9 3.3M875.5 196.1l1.0 3.4M883.8 194.2l0.9 2.8M888.2 193.2l0.9 3.1M892.7 194.0l0.2 2.4M893.4 191.5l1.3 2.8M903.3 190.0l0.7 2.9M907.1 191.2l0.3 2.5M919.6 184.8l0.3 2.1M922.7 184.4l0.8 3.3M762.2 228.7l-0.2 2.8M765.6 229.2l-0.2 1.7M769.1 228.2l-0.3 2.5M774.8 223.5l-0.2 1.9M777.5 224.1l-0.0 3.3M781.1 221.1l0.2 3.9M784.1 220.1l-0.2 3.2M787.1 217.1l0.0 3.6M792.0 218.0l-0.1 1.8M796.1 217.7l-0.3 3.1M799.5 214.7l-0.0 2.0M801.8 215.7l0.0 3.6M808.8 214.7l0.3 1.8M818.4 212.7l0.6 3.8M823.9 211.9l0.4 1.8M828.0 213.0l0.4 1.5M833.8 213.7l0.4 3.0M846.0 212.1l1.5 3.6M853.7 214.5l0.5 4.0M860.8 214.1l0.9 2.2M862.6 213.4l1.2 3.8M865.3 211.7l1.0 3.2M869.5 211.3l0.3 3.5M872.8 211.6l-0.1 2.1M878.8 209.5l0.3 3.0M881.2 206.3l0.7 2.7M884.8 207.5l0.3 2.1M888.1 204.8l0.4 1.6M894.9 201.9l-0.3 1.8M897.0 199.5l-0.0 1.6M903.2 197.2l0.1 1.6M905.5 196.4l-0.1 4.0M910.1 195.6l-0.1 1.4M916.3 195.2l-0.1 1.6M918.8 196.9l-0.1 3.1M922.8 198.3l-0.6 2.9M763.1 232.7l0.0 3.1M766.3 233.7l0.2 2.2M769.4 230.7l0.3 2.1M771.8 231.2l0.5 3.4M774.6 227.5l0.1 3.6M778.1 228.9l0.4 2.3M783.4 227.1l0.4 1.6M796.5 225.0l1.1 3.6M800.8 227.4l0.6 3.2M802.7 227.1l1.2 2.4M807.7 228.6l0.7 1.9M810.8 229.0l0.4 2.0M816.2 227.0l1.1 3.5M819.8 229.2l0.8 1.6M827.3 228.7l0.5 2.7M830.0 228.1l0.5 2.3M835.9 227.4l0.7 3.7M842.6 226.4l0.5 2.9M845.4 221.4l0.2 4.3M852.2 222.3l0.3 2.4M854.9 220.8l-0.2 2.7M857.3 220.8l0.4 3.3M860.6 219.7l0.4 2.1M863.6 216.5l0.5 2.1M866.7 218.5l0.2 1.5M873.3 212.7l-0.2 3.0M875.9 215.3l-0.5 2.9M880.1 213.4l-0.0 2.1M882.4 211.1l-0.4 2.8M891.6 211.1l-0.1 3.1M897.8 210.7l-0.1 1.9M904.4 209.2l0.0 2.3M910.6 210.6l-0.0 1.9M917.6 212.1l0.2 2.8M920.9 209.4l0.3 2.1M924.5 211.7l0.3 2.7M770.2 245.4l1.1 2.7M773.2 242.7l0.5 2.1M776.6 245.7l0.8 2.6M780.1 244.5l0.5 1.9M782.4 244.0l0.9 2.6M786.3 245.9l0.6 2.6M789.2 243.6l0.7 1.4M792.0 242.1l1.1 3.0M794.6 242.2l0.8 4.0M799.6 243.8l0.1 3.2M801.5 244.1l1.2 3.0M805.3 246.2l0.6 1.8M812.3 242.6l0.1 2.1M815.0 242.2l0.8 3.6M818.0 242.1l0.8 2.5M820.5 240.9l0.3 2.1M831.1 240.8l0.2 2.7M835.1 239.8l-0.2 3.2M839.3 234.8l0.1 3.4M842.6 234.2l-0.0 3.5M845.6 234.4l-0.7 3.7M849.7 231.0l-0.2 1.9M852.2 232.2l-0.9 2.5M855.2 229.4l-0.1 3.2M859.1 231.9l-0.3 1.9M862.5 230.5l-0.2 1.9M864.8 226.9l-0.2 1.9M868.2 227.8l0.1 2.1M874.5 228.1l0.1 3.0M877.6 226.1l-0.1 3.8M889.5 225.5l0.5 3.6M894.7 227.6l0.2 2.1M896.5 228.5l0.9 2.5M903.2 227.7l0.5 2.3M907.4 229.5l0.5 2.1M910.9 231.9l0.7 2.7M912.2 227.2l1.4 3.3M919.7 229.8l0.4 1.6M921.6 227.2l1.5 3.4M925.1 224.3l0.9 3.8M868.2 243.9l0.5 3.5M872.0 243.2l0.4 2.3M873.6 242.2l1.3 3.8M877.1 246.1l1.3 4.0M881.0 248.2l0.6 1.8M885.0 247.9l0.6 1.8M888.4 243.0l1.1 3.8M893.5 245.4l0.6 1.8M907.8 245.5l1.1 2.7M913.1 242.7l0.2 1.8M919.4 242.4l0.7 3.2" fill="none" stroke="#f4f4d0" stroke-width="1.4" stroke-linecap="round" opacity="0.8"/>
<path d="M781.1 142.7l-0.8 0.0M795.3 201.4l1.2 0.2M701.8 144.4l-1.0 -0.4M914.4 114.2l-0.8 -1.4M894.5 230.9l-0.5 -1.0M718.5 95.1l-0.7 0.2M817.4 211.8l1.1 1.3M869.8 64.6l-0.6 0.4M793.6 171.3l-0.3 1.4M884.6 217.6l0.6 -0.1M735.3 132.0l-1.5 -0.7M706.5 180.8l0.4 -0.6M757.3 232.7l-1.2 0.3M857.3 53.7l-1.0 1.2M828.9 109.7l0.4 -0.8M708.0 208.5l1.4 0.7M866.6 244.2l-1.3 -0.9M863.1 241.8l0.6 -0.2M861.8 77.8l-0.3 1.4M868.8 241.2l-0.3 1.1M747.7 91.9l-0.8 -0.0M922.3 123.2l-0.6 0.7M841.4 177.1l1.3 1.5M841.9 79.9l0.1 -1.4M861.1 248.5l1.3 0.3M699.5 111.8l0.6 0.5M731.6 117.7l0.9 0.6M813.3 248.7l-0.6 0.9M783.7 187.7l-0.5 0.8M729.0 230.7l-1.1 -0.8M748.2 83.9l1.0 1.0M914.0 245.4l-0.7 1.5M744.2 48.4l-1.4 0.7M758.4 128.7l0.6 0.8M919.5 196.9l-1.0 1.3M877.2 62.4l0.2 0.9M709.6 101.3l-1.3 0.1M916.6 145.6l1.2 0.2M800.2 204.7l-0.1 -1.2M787.5 83.0l1.1 0.8M887.6 171.6l1.3 -1.2M892.7 90.3l-0.4 -1.4M906.8 114.4l-1.4 0.9M792.3 65.2l-0.9 1.1M899.9 169.3l0.9 1.4M720.6 88.4l-0.2 0.7M758.9 103.7l1.3 0.8M889.4 200.9l-0.6 -1.4M784.8 151.0l-0.6 1.3M888.6 244.0l-1.0 -0.9M797.5 239.1l1.3 0.4M757.9 146.9l0.8 0.9M721.1 119.4l0.2 -0.3M838.8 164.0l0.7 0.9M835.1 194.6l1.4 1.4M771.0 99.2l0.1 -1.1M731.2 115.9l-0.8 -0.5M807.9 48.8l-0.5 0.6M794.2 202.4l1.1 0.4M895.6 165.3l0.1 -0.2M727.9 235.2l0.0 -0.8M768.5 128.6l-0.6 1.2M775.7 168.0l-0.4 1.2M859.2 106.0l0.7 -1.5M891.2 154.6l1.1 0.8M715.5 152.7l0.2 0.3M908.6 214.6l0.1 -1.2M827.2 119.3l-1.0 0.9M744.6 167.3l0.5 0.3M806.6 208.2l-1.4 0.4M754.0 105.1l1.3 0.2M902.6 233.4l0.9 -0.0M872.9 75.6l1.2 -0.1M761.4 240.7l-0.7 0.1M703.1 163.5l-0.4 0.6M916.6 65.7l-1.2 0.4M725.5 157.7l-0.2 -0.1M784.8 121.8l0.2 -1.5M742.6 211.8l-1.2 -0.8M897.1 160.7l0.6 0.2M904.3 195.0l-1.3 1.0M761.3 128.5l-1.2 -0.1M857.0 153.9l-0.2 0.4M709.6 102.1l0.9 1.3M882.4 210.6l0.0 -1.2M797.6 46.0l-0.6 1.2M742.3 82.1l1.0 0.2M726.6 58.2l-1.3 0.7M765.9 82.7l0.2 -0.0M710.5 230.3l-1.4 1.4M876.9 181.7l0.0 0.2M775.4 172.1l-0.8 -1.0M884.1 231.3l-0.9 -1.0M854.5 213.4l-0.3 0.2M695.0 181.4l0.6 -1.0M773.0 234.9l1.0 -0.1M882.8 71.6l-0.6 0.7M829.9 83.8l0.9 0.9M744.8 162.6l-0.0 -1.4M826.3 74.6l-0.1 0.6M729.1 219.8l-0.9 1.1M780.2 191.9l-1.4 -1.5M766.7 181.6l1.5 1.4M716.4 49.2l1.1 1.2M832.5 54.2l0.5 0.0M881.3 173.1l-0.3 0.2M866.2 203.9l0.1 -1.2M764.2 121.5l1.2 1.3M796.5 131.7l1.2 -1.4M741.4 74.0l1.0 -0.7M714.2 145.2l1.1 -1.5M839.9 144.9l-0.9 -1.2M758.9 160.8l1.3 1.2M710.0 137.0l1.2 -0.0M873.1 172.7l0.1 -0.6M902.8 199.5l-0.1 0.4M773.3 162.6l-1.5 -1.1M913.5 89.1l-0.5 1.5M802.0 199.6l-1.0 -0.3M904.5 164.9l0.2 -1.4M860.4 173.9l-1.0 -1.4M874.7 220.6l-0.3 -1.5M767.1 127.9l0.7 1.1M791.0 73.3l0.1 -0.6M814.5 180.5l-1.3 -0.9M838.2 113.7l0.9 1.5M739.4 131.0l-0.2 -1.0M804.8 203.5l1.3 1.5M853.9 201.1l0.9 -0.6M822.8 86.6l0.4 0.5M874.7 196.9l0.8 0.5M735.7 157.8l0.5 -0.5M762.8 159.3l0.6 0.8M713.6 206.1l1.4 -0.6M912.6 90.4l-0.6 0.9M748.3 58.3l0.3 0.5M710.5 229.7l-0.0 -1.5M715.5 244.8l0.8 -0.2M727.7 114.4l1.3 -0.4M704.4 91.5l-1.2 0.4M704.1 103.8l0.9 -0.8M750.9 165.5l0.2 1.1M779.3 156.6l1.0 -1.3M736.2 213.0l1.2 -1.4M699.9 109.8l-0.1 0.4M697.4 55.9l1.0 -1.2M908.1 173.5l-0.1 -0.4M908.4 118.5l-0.5 0.5M885.5 198.5l0.1 0.0M822.2 73.8l0.1 -0.8M832.6 70.2l-1.3 0.8M839.9 241.8l-0.6 -1.5M821.0 84.2l-1.3 0.7M787.3 205.5l1.0 -0.1M719.9 225.8l1.4 -1.4M891.4 158.1l0.2 0.6M907.6 178.1l0.1 -0.8M883.0 47.9l-0.9 -1.3M886.6 124.7l-1.2 0.3M824.5 244.6l-1.4 0.9M875.5 152.7l0.6 -1.5M740.1 189.7l-0.5 -1.5M846.6 72.1l-0.5 -0.6M907.2 246.3l0.0 1.2M704.1 179.6l-0.6 0.3M818.8 235.3l-0.0 0.8M872.6 188.5l0.1 1.3M812.2 185.5l0.4 -0.4M831.9 143.7l-1.5 1.2M706.3 56.3l-0.5 -0.9M805.1 114.9l-0.6 0.5M776.0 141.9l-1.2 -1.2M791.3 125.4l-0.3 0.5M843.4 90.6l-0.6 1.4M815.0 113.2l-0.1 1.3M762.3 89.4l0.5 -1.1M793.3 228.3l0.5 0.1M716.3 214.7l-0.7 0.9M873.1 163.0l-0.8 1.4M811.4 88.1l-0.7 -1.3M731.4 146.8l-0.7 1.4M724.3 170.8l-1.4 -1.0M816.7 68.3l-1.3 0.1M722.3 91.9l-0.4 -0.9M916.4 92.1l-0.4 -0.4M877.5 129.5l0.1 0.7M717.7 216.9l-0.2 1.0M905.3 64.1l0.6 1.1M839.9 126.7l-1.3 -0.8M809.9 193.6l-1.1 0.2M841.4 133.7l-1.2 1.1M776.1 145.9l-1.4 -0.4M750.5 50.8l0.2 0.3M747.7 107.1l0.6 1.1M853.8 106.7l-1.5 0.0M798.2 52.8l-0.5 -0.6M865.8 197.4l-1.4 -1.4M914.3 127.0l-0.2 -0.4M874.9 197.9l0.6 1.1M828.9 195.9l0.1 -0.8M821.8 228.1l-0.5 -0.1M834.6 197.9l-1.2 -0.7M850.5 189.0l-1.1 1.5M781.3 158.0l-0.6 1.3M694.3 153.0l-0.1 0.9M837.5 210.2l-1.4 0.8M731.5 163.9l-0.4 0.5M905.5 158.7l1.2 1.2M796.4 204.3l1.0 0.3M709.0 63.3l1.5 0.7M750.0 104.0l-1.1 0.7M814.8 119.1l0.1 -1.1M716.9 53.7l-1.4 -0.5M736.8 188.0l1.3 0.7M849.2 211.6l-1.1 0.4M714.9 224.1l0.8 1.2M734.2 137.1l-0.7 0.5M759.0 159.9l0.2 -1.0M716.7 108.9l0.0 -0.3M735.0 75.2l-1.4 0.7M716.5 245.4l1.0 0.8M716.0 63.6l-0.1 0.7M897.9 63.7l-1.0 -0.8M760.8 110.0l-0.9 0.2M726.8 48.6l-0.4 -0.4M881.3 100.1l0.7 1.1M707.6 197.5l-1.2 -1.3M714.9 169.1l-0.8 0.2M895.5 73.8l1.5 -0.9M736.0 127.0l0.7 -0.9M717.3 58.8l-1.0 -0.3M767.3 75.9l0.7 0.6M752.1 103.2l0.9 -0.2M914.4 134.3l1.2 -1.2M748.7 196.4l-1.1 -0.6M729.6 52.6l-1.0 1.1M856.0 233.6l-0.9 -0.7M717.2 49.0l-1.1 -1.3M754.0 82.0l-0.8 0.7M916.0 215.2l-1.0 1.4M875.1 143.6l0.9 -0.7M885.0 169.8l-0.2 1.1M873.0 216.5l1.2 -0.4M884.9 48.4l-0.6 0.0M812.3 164.5l1.1 -0.4M794.0 88.3l0.8 -0.8M809.9 219.0l-1.2 -1.1M805.3 43.0l-0.5 -0.8M840.8 159.6l1.0 -0.5M735.1 112.7l1.3 0.6" fill="none" stroke="#fbfae8" stroke-width="1.3" stroke-linecap="round" opacity="0.7"/>
</g>
<g filter="url(#bl2)">
<ellipse cx="721" cy="90" rx="9.0" ry="28.0" transform="rotate(-12 721 90)" fill="#2f3f3c" opacity="0.95"/>
<ellipse cx="706" cy="118" rx="12.0" ry="9.0" transform="rotate(-20 706 118)" fill="#2f3f3c" opacity="0.90"/>
<ellipse cx="803" cy="88" rx="4.0" ry="13.0" transform="rotate(0 803 88)" fill="#34443c" opacity="0.90"/>
<ellipse cx="837" cy="72" rx="6.0" ry="11.0" transform="rotate(0 837 72)" fill="#34443c" opacity="0.90"/>
<ellipse cx="905" cy="52" rx="17.0" ry="9.0" transform="rotate(0 905 52)" fill="#303c36" opacity="0.85"/>
<ellipse cx="916" cy="83" rx="8.0" ry="11.0" transform="rotate(0 916 83)" fill="#303c36" opacity="0.85"/>
<ellipse cx="815" cy="106" rx="4.0" ry="6.0" transform="rotate(0 815 106)" fill="#34443c" opacity="0.80"/>
<ellipse cx="849" cy="121" rx="8.0" ry="16.0" transform="rotate(0 849 121)" fill="#3a4a3a" opacity="0.70"/>
<ellipse cx="871" cy="132" rx="6.0" ry="9.0" transform="rotate(0 871 132)" fill="#34443c" opacity="0.80"/>
<ellipse cx="844" cy="151" rx="7.0" ry="5.0" transform="rotate(0 844 151)" fill="#3e4a3a" opacity="0.75"/>
<ellipse cx="868" cy="166" rx="9.0" ry="8.0" transform="rotate(0 868 166)" fill="#34443c" opacity="0.80"/>
<ellipse cx="824" cy="174" rx="6.0" ry="13.0" transform="rotate(0 824 174)" fill="#34443c" opacity="0.80"/>
<ellipse cx="888" cy="212" rx="7.0" ry="14.0" transform="rotate(0 888 212)" fill="#34443c" opacity="0.80"/>
<ellipse cx="900" cy="228" rx="8.0" ry="7.0" transform="rotate(0 900 228)" fill="#34443c" opacity="0.80"/>
<ellipse cx="787" cy="169" rx="8.0" ry="9.0" transform="rotate(0 787 169)" fill="#46523c" opacity="0.60"/>
<ellipse cx="702" cy="216" rx="9.0" ry="11.0" transform="rotate(0 702 216)" fill="#34443c" opacity="0.85"/>
<ellipse cx="728" cy="160" rx="7.0" ry="9.0" transform="rotate(0 728 160)" fill="#34443c" opacity="0.75"/>
<ellipse cx="766" cy="234" rx="7.0" ry="7.0" transform="rotate(0 766 234)" fill="#34443c" opacity="0.80"/>
<ellipse cx="752" cy="196" rx="5.0" ry="5.0" transform="rotate(0 752 196)" fill="#34443c" opacity="0.75"/>
<ellipse cx="798" cy="227" rx="5.0" ry="8.0" transform="rotate(0 798 227)" fill="#34443c" opacity="0.75"/>
<ellipse cx="810" cy="44" rx="120.0" ry="2.5" transform="rotate(0 810 44)" fill="#484c46" opacity="0.85"/>
</g>
<ellipse cx="887" cy="63" rx="4.2" ry="8" fill="none" stroke="#e0dec8" stroke-width="1.2"/>
<ellipse cx="897" cy="63" rx="4.2" ry="8" fill="none" stroke="#e0dec8" stroke-width="1.2"/>
<ellipse cx="907" cy="63" rx="4.2" ry="8" fill="none" stroke="#e0dec8" stroke-width="1.2"/>
<ellipse cx="808.7" cy="143.5" rx="91.8" ry="99" fill="none" stroke="#a8401e" stroke-width="1.0" opacity="0.9"/>
<rect x="808.4" y="43" width="1.3" height="206" fill="#c8442a"/>
<rect x="694" y="146.4" width="231" height="1.3" fill="#c8442a"/>
<rect x="717.3" y="144" width="1" height="3" fill="#c8442a"/>
<rect x="808" y="49.0" width="3" height="1" fill="#c8442a"/>
<rect x="728.8" y="144" width="1" height="3" fill="#c8442a"/>
<rect x="808" y="61.2" width="3" height="1" fill="#c8442a"/>
<rect x="740.2" y="144" width="1" height="3" fill="#c8442a"/>
<rect x="808" y="73.5" width="3" height="1" fill="#c8442a"/>
<rect x="751.6" y="144" width="1" height="3" fill="#c8442a"/>
<rect x="808" y="85.8" width="3" height="1" fill="#c8442a"/>
<rect x="763.1" y="144" width="1" height="3" fill="#c8442a"/>
<rect x="808" y="98.0" width="3" height="1" fill="#c8442a"/>
<rect x="774.5" y="144" width="1" height="3" fill="#c8442a"/>
<rect x="808" y="110.2" width="3" height="1" fill="#c8442a"/>
<rect x="786.0" y="144" width="1" height="3" fill="#c8442a"/>
<rect x="808" y="122.5" width="3" height="1" fill="#c8442a"/>
<rect x="797.4" y="144" width="1" height="3" fill="#c8442a"/>
<rect x="808" y="134.8" width="3" height="1" fill="#c8442a"/>
<rect x="820.4" y="144" width="1" height="3" fill="#c8442a"/>
<rect x="808" y="159.2" width="3" height="1" fill="#c8442a"/>
<rect x="831.8" y="144" width="1" height="3" fill="#c8442a"/>
<rect x="808" y="171.5" width="3" height="1" fill="#c8442a"/>
<rect x="843.2" y="144" width="1" height="3" fill="#c8442a"/>
<rect x="808" y="183.8" width="3" height="1" fill="#c8442a"/>
<rect x="854.7" y="144" width="1" height="3" fill="#c8442a"/>
<rect x="808" y="196.0" width="3" height="1" fill="#c8442a"/>
<rect x="866.1" y="144" width="1" height="3" fill="#c8442a"/>
<rect x="808" y="208.2" width="3" height="1" fill="#c8442a"/>
<rect x="877.6" y="144" width="1" height="3" fill="#c8442a"/>
<rect x="808" y="220.5" width="3" height="1" fill="#c8442a"/>
<rect x="889.0" y="144" width="1" height="3" fill="#c8442a"/>
<rect x="808" y="232.8" width="3" height="1" fill="#c8442a"/>
<rect x="900.5" y="144" width="1" height="3" fill="#c8442a"/>
<rect x="808" y="245.0" width="3" height="1" fill="#c8442a"/>
<rect x="717" y="153" width="2" height="4" fill="#7a1810" opacity="0.5"/>
<rect x="741" y="153" width="2" height="4" fill="#7a1810" opacity="0.5"/>
<rect x="764" y="153" width="2" height="4" fill="#7a1810" opacity="0.5"/>
<rect x="787" y="153" width="2" height="4" fill="#7a1810" opacity="0.5"/>
<rect x="831" y="153" width="2" height="4" fill="#7a1810" opacity="0.5"/>
<rect x="854" y="153" width="2" height="4" fill="#7a1810" opacity="0.5"/>
<rect x="877" y="153" width="2" height="4" fill="#7a1810" opacity="0.5"/>
<rect x="900" y="153" width="2" height="4" fill="#7a1810" opacity="0.5"/>
<rect x="812" y="70" width="2" height="4" fill="#7a1810" opacity="0.5"/>
<rect x="812" y="94" width="2" height="4" fill="#7a1810" opacity="0.5"/>
<rect x="812" y="119" width="2" height="4" fill="#7a1810" opacity="0.5"/>
<rect x="812" y="170" width="2" height="4" fill="#7a1810" opacity="0.5"/>
<rect x="812" y="195" width="2" height="4" fill="#7a1810" opacity="0.5"/>
<rect x="812" y="221" width="2" height="4" fill="#7a1810" opacity="0.5"/>
<rect x="697" y="235" width="22" height="9" fill="#8a2a22" opacity="0.85"/>
<rect x="699" y="236" width="1" height="6" fill="#d8a898"/>
<rect x="702" y="236" width="1" height="6" fill="#d8a898"/>
<rect x="705" y="236" width="1" height="6" fill="#d8a898"/>
<rect x="708" y="236" width="1" height="6" fill="#d8a898"/>
<rect x="711" y="236" width="1" height="6" fill="#d8a898"/>
<rect x="714" y="236" width="1" height="6" fill="#d8a898"/>
<rect x="717" y="236" width="1" height="6" fill="#d8a898"/>
</g>
<rect x="923" y="44" width="2" height="206" fill="#000" shape-rendering="crispEdges"/>
</svg></body></html>
